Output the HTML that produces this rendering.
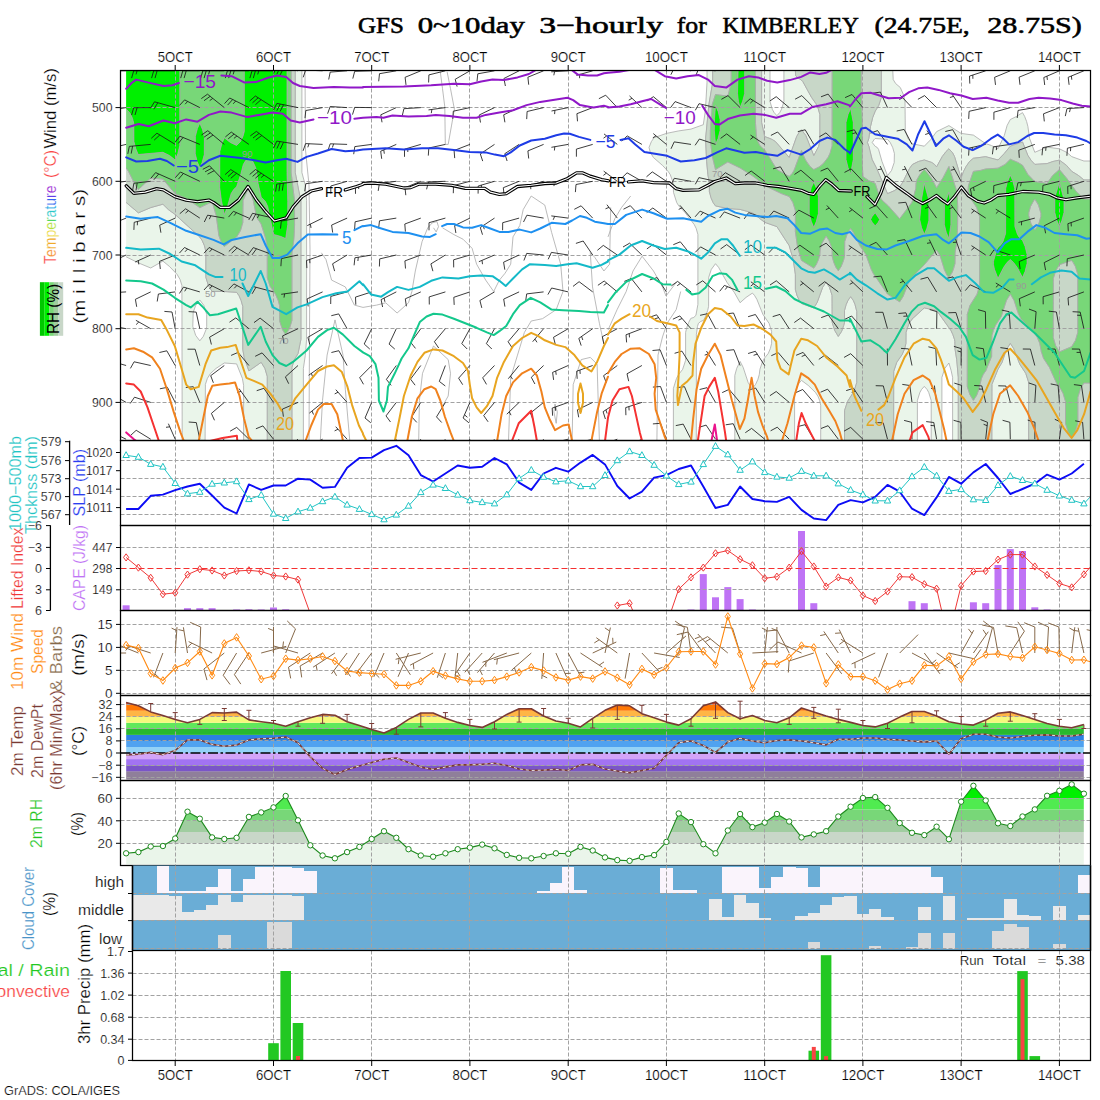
<!DOCTYPE html>
<html><head><meta charset="utf-8"><title>GFS meteogram KIMBERLEY</title>
<style>html,body{margin:0;padding:0;background:#fff}svg{display:block}text{font-family:"Liberation Sans",sans-serif}</style>
</head><body>
<svg width="1100" height="1100" viewBox="0 0 1100 1100">
<rect width="1100" height="1100" fill="#fff"/>
<text x="358" y="33.4" font-size="23" fill="#000" textLength="45.9" lengthAdjust="spacingAndGlyphs" style="font-family:&quot;Liberation Serif&quot;,serif" stroke="#000" stroke-width="0.55">GFS</text>
<text x="417.7" y="33.4" font-size="23" fill="#000" textLength="107.1" lengthAdjust="spacingAndGlyphs" style="font-family:&quot;Liberation Serif&quot;,serif" stroke="#000" stroke-width="0.55">0~10day</text>
<text x="539.3" y="33.4" font-size="23" fill="#000" textLength="123.7" lengthAdjust="spacingAndGlyphs" style="font-family:&quot;Liberation Serif&quot;,serif" stroke="#000" stroke-width="0.55">3&#8722;hourly</text>
<text x="676.8" y="33.4" font-size="23" fill="#000" textLength="30" lengthAdjust="spacingAndGlyphs" style="font-family:&quot;Liberation Serif&quot;,serif" stroke="#000" stroke-width="0.55">for</text>
<text x="722.5" y="33.4" font-size="23" fill="#000" textLength="136.4" lengthAdjust="spacingAndGlyphs" style="font-family:&quot;Liberation Serif&quot;,serif" stroke="#000" stroke-width="0.55">KIMBERLEY</text>
<text x="874.5" y="33.4" font-size="23" fill="#000" textLength="95.3" lengthAdjust="spacingAndGlyphs" style="font-family:&quot;Liberation Serif&quot;,serif" stroke="#000" stroke-width="0.55">(24.75E,</text>
<text x="987.3" y="33.4" font-size="23" fill="#000" textLength="94.5" lengthAdjust="spacingAndGlyphs" style="font-family:&quot;Liberation Serif&quot;,serif" stroke="#000" stroke-width="0.55">28.75S)</text>
<text x="175.2" y="62.3" font-size="15" fill="#000" text-anchor="middle" textLength="35" lengthAdjust="spacingAndGlyphs" stroke="#fff" stroke-width="0.2">5OCT</text>
<text x="175.2" y="1079.5" font-size="15" fill="#000" text-anchor="middle" textLength="35" lengthAdjust="spacingAndGlyphs" stroke="#fff" stroke-width="0.2">5OCT</text>
<line x1="175.2" y1="65" x2="175.2" y2="70.5" stroke="#000" stroke-width="1"/>
<line x1="175.2" y1="1060.4" x2="175.2" y2="1066" stroke="#000" stroke-width="1"/>
<text x="273.5" y="62.3" font-size="15" fill="#000" text-anchor="middle" textLength="35" lengthAdjust="spacingAndGlyphs" stroke="#fff" stroke-width="0.2">6OCT</text>
<text x="273.5" y="1079.5" font-size="15" fill="#000" text-anchor="middle" textLength="35" lengthAdjust="spacingAndGlyphs" stroke="#fff" stroke-width="0.2">6OCT</text>
<line x1="273.5" y1="65" x2="273.5" y2="70.5" stroke="#000" stroke-width="1"/>
<line x1="273.5" y1="1060.4" x2="273.5" y2="1066" stroke="#000" stroke-width="1"/>
<text x="371.7" y="62.3" font-size="15" fill="#000" text-anchor="middle" textLength="35" lengthAdjust="spacingAndGlyphs" stroke="#fff" stroke-width="0.2">7OCT</text>
<text x="371.7" y="1079.5" font-size="15" fill="#000" text-anchor="middle" textLength="35" lengthAdjust="spacingAndGlyphs" stroke="#fff" stroke-width="0.2">7OCT</text>
<line x1="371.7" y1="65" x2="371.7" y2="70.5" stroke="#000" stroke-width="1"/>
<line x1="371.7" y1="1060.4" x2="371.7" y2="1066" stroke="#000" stroke-width="1"/>
<text x="469.9" y="62.3" font-size="15" fill="#000" text-anchor="middle" textLength="35" lengthAdjust="spacingAndGlyphs" stroke="#fff" stroke-width="0.2">8OCT</text>
<text x="469.9" y="1079.5" font-size="15" fill="#000" text-anchor="middle" textLength="35" lengthAdjust="spacingAndGlyphs" stroke="#fff" stroke-width="0.2">8OCT</text>
<line x1="469.9" y1="65" x2="469.9" y2="70.5" stroke="#000" stroke-width="1"/>
<line x1="469.9" y1="1060.4" x2="469.9" y2="1066" stroke="#000" stroke-width="1"/>
<text x="568.2" y="62.3" font-size="15" fill="#000" text-anchor="middle" textLength="35" lengthAdjust="spacingAndGlyphs" stroke="#fff" stroke-width="0.2">9OCT</text>
<text x="568.2" y="1079.5" font-size="15" fill="#000" text-anchor="middle" textLength="35" lengthAdjust="spacingAndGlyphs" stroke="#fff" stroke-width="0.2">9OCT</text>
<line x1="568.2" y1="65" x2="568.2" y2="70.5" stroke="#000" stroke-width="1"/>
<line x1="568.2" y1="1060.4" x2="568.2" y2="1066" stroke="#000" stroke-width="1"/>
<text x="666.4" y="62.3" font-size="15" fill="#000" text-anchor="middle" textLength="43" lengthAdjust="spacingAndGlyphs" stroke="#fff" stroke-width="0.2">10OCT</text>
<text x="666.4" y="1079.5" font-size="15" fill="#000" text-anchor="middle" textLength="43" lengthAdjust="spacingAndGlyphs" stroke="#fff" stroke-width="0.2">10OCT</text>
<line x1="666.4" y1="65" x2="666.4" y2="70.5" stroke="#000" stroke-width="1"/>
<line x1="666.4" y1="1060.4" x2="666.4" y2="1066" stroke="#000" stroke-width="1"/>
<text x="764.7" y="62.3" font-size="15" fill="#000" text-anchor="middle" textLength="43" lengthAdjust="spacingAndGlyphs" stroke="#fff" stroke-width="0.2">11OCT</text>
<text x="764.7" y="1079.5" font-size="15" fill="#000" text-anchor="middle" textLength="43" lengthAdjust="spacingAndGlyphs" stroke="#fff" stroke-width="0.2">11OCT</text>
<line x1="764.7" y1="65" x2="764.7" y2="70.5" stroke="#000" stroke-width="1"/>
<line x1="764.7" y1="1060.4" x2="764.7" y2="1066" stroke="#000" stroke-width="1"/>
<text x="862.9" y="62.3" font-size="15" fill="#000" text-anchor="middle" textLength="43" lengthAdjust="spacingAndGlyphs" stroke="#fff" stroke-width="0.2">12OCT</text>
<text x="862.9" y="1079.5" font-size="15" fill="#000" text-anchor="middle" textLength="43" lengthAdjust="spacingAndGlyphs" stroke="#fff" stroke-width="0.2">12OCT</text>
<line x1="862.9" y1="65" x2="862.9" y2="70.5" stroke="#000" stroke-width="1"/>
<line x1="862.9" y1="1060.4" x2="862.9" y2="1066" stroke="#000" stroke-width="1"/>
<text x="961.1" y="62.3" font-size="15" fill="#000" text-anchor="middle" textLength="43" lengthAdjust="spacingAndGlyphs" stroke="#fff" stroke-width="0.2">13OCT</text>
<text x="961.1" y="1079.5" font-size="15" fill="#000" text-anchor="middle" textLength="43" lengthAdjust="spacingAndGlyphs" stroke="#fff" stroke-width="0.2">13OCT</text>
<line x1="961.1" y1="65" x2="961.1" y2="70.5" stroke="#000" stroke-width="1"/>
<line x1="961.1" y1="1060.4" x2="961.1" y2="1066" stroke="#000" stroke-width="1"/>
<text x="1059.4" y="62.3" font-size="15" fill="#000" text-anchor="middle" textLength="43" lengthAdjust="spacingAndGlyphs" stroke="#fff" stroke-width="0.2">14OCT</text>
<text x="1059.4" y="1079.5" font-size="15" fill="#000" text-anchor="middle" textLength="43" lengthAdjust="spacingAndGlyphs" stroke="#fff" stroke-width="0.2">14OCT</text>
<line x1="1059.4" y1="65" x2="1059.4" y2="70.5" stroke="#000" stroke-width="1"/>
<line x1="1059.4" y1="1060.4" x2="1059.4" y2="1066" stroke="#000" stroke-width="1"/>
<clipPath id="c0"><rect x="126.1" y="70.5" width="964.4" height="370"/></clipPath>
<clipPath id="c0f"><rect x="120.5" y="70.5" width="970" height="370"/></clipPath>
<g clip-path="url(#c0)">
<path d="M298,70.5 L301.9,70.5 L301.9,172.5 L305.1,184.5 L306.6,200.5 L306.6,339.4 L305.3,355.4 L303.4,368.4 L303.4,440.4 L291.9,440.4 L291.9,367.4 L294.4,359.4 L298,353.6 L300.9,339.4 L300.9,201.5 L295.2,172.5 L295.2,70.5Z M712.7,71.5 L712.7,82.5 L708.9,104.5 L705.6,139.5 L706.6,161.5 L707.9,174.5 L709.4,183.5 L709.4,191.5 L711.3,198.5 L713.7,203.5 L715.5,205.9 L727.8,208.5 L740.1,209.4 L752.4,212.8 L764.7,222.3 L776.9,226.6 L789.2,245.6 L793.2,259.4 L795.4,274.4 L795.4,289.4 L797,295.4 L799.3,300.4 L801.5,303.5 L813.8,307.9 L817.2,302.4 L822.6,287.4 L826.1,282 L829.5,287.4 L832.1,295.4 L832.2,322.4 L834.7,330.4 L838.3,336.4 L841.6,331.4 L843.7,325.4 L844.5,322.4 L844.5,310.4 L846.2,304.4 L848,300.4 L850.6,296.6 L853.3,300.4 L855,304.4 L856.8,311.4 L856.8,382.4 L854,391.4 L847.6,401.4 L844.6,410.4 L844.5,440.4 L820.7,440.4 L820.7,405.4 L819.6,400.4 L818,396.4 L815.4,392.4 L808.2,385.4 L801.5,380.4 L798.8,383.4 L797.1,386.4 L794.6,394.4 L794.6,440.4 L734.8,440.4 L734.8,375.4 L736.7,368.4 L740.1,361.4 L743.2,367.4 L748.1,382.4 L749.9,385.4 L752.4,388.2 L753.2,387.4 L755.6,384.4 L757.9,379.4 L759.3,374.4 L759.9,369.4 L762.2,362.4 L764.3,358.4 L768.3,353.4 L770.4,348.4 L771.6,343.4 L771.6,331.4 L769.1,323.4 L762.9,314.4 L756.9,299.4 L754.5,295.4 L752.4,293.1 L746.1,297.4 L740.1,302.7 L734.3,292.4 L727,282.4 L718.6,267.4 L715.5,263.7 L711.3,269.4 L708.7,277.4 L708.6,306.4 L707.7,310.4 L705.6,316.4 L703.5,320.4 L700.8,321.4 L698.4,323.4 L697.5,326.4 L696.4,334.4 L696.3,440.4 L673.4,440.4 L673.4,388.4 L676.5,378.4 L678.7,374.4 L682.6,369.4 L685.6,360.4 L685.6,332.4 L686.8,327.4 L688.7,322.4 L690.8,318.4 L693.8,317.4 L695.9,315.4 L697.9,304.4 L697.9,234.5 L696.2,228.5 L694.2,224.5 L685,212.5 L678.7,205.8 L676.7,202.5 L673.5,192.5 L673.1,182.5 L670.2,174.5 L668.2,171.5 L662.6,165.5 L653.4,157.5 L650.4,152.5 L649,147.5 L651.4,141.5 L654.1,137.7 L666.4,133.4 L678.7,130.9 L691,129.1 L703.3,124.7 L705.4,110.5 L707,82.5 L707,70.5 L712.7,70.5Z M764.7,70.5 L770,70.5 L770,101.5 L772.4,109.5 L774.1,112.5 L776.9,115.7 L779.8,112.5 L781.4,109.5 L783.9,101.5 L783.9,70.5 L795.4,70.5 L795.6,75.5 L797.4,77.5 L800.8,79.5 L802.8,81.5 L811.6,97.5 L815.9,103.5 L818.2,108.5 L819.9,114.5 L819.9,141.5 L818.6,146.5 L813.8,155.7 L805.8,135.5 L801.5,129.8 L799,132.5 L796.7,136.5 L789.2,157.5 L775.4,141.5 L770.1,138.5 L764.7,136.7 L761.6,122.5 L761.6,70.5Z M887.5,70.5 L892.8,70.5 L893.2,79.5 L895.6,83.5 L900.3,87.5 L903.4,94.5 L905,100.5 L905.3,130.5 L908,138.5 L912,143.7 L924.3,146.2 L930.8,139.5 L936.6,131.6 L948.9,125.6 L961.1,133.4 L973.4,135.1 L985.4,143.5 L991.4,145.5 L998,148.8 L1004.3,135.5 L1007.1,125.5 L1010.3,119.5 L1016.4,116.5 L1022.5,112.6 L1024.7,116.5 L1026.6,121.5 L1027.9,126.5 L1029.6,138.5 L1034.8,152.3 L1047.1,147.1 L1059.4,148.8 L1067,152.5 L1071.7,156.6 L1083.9,161 L1096.2,161 L1096.2,180 L1083.9,180 L1078.5,175.5 L1071.7,171.4 L1066.6,165.5 L1059.4,160.1 L1052.9,161.5 L1047.1,163.6 L1034.8,164.4 L1031.2,160.5 L1027.9,155.5 L1022.5,142 L1010.3,146.2 L1004.3,153.5 L998,160 L985.7,156.7 L973.4,158.3 L969.5,161.5 L966.1,166.5 L963.5,171.5 L961.1,178.3 L954.5,156.5 L952.4,152.5 L948.9,148.8 L946.1,151.5 L942.3,156.5 L936.6,166.9 L934.6,164.5 L931.8,162.5 L924.3,160 L918.4,161.5 L912.4,164.5 L909.5,168.5 L902.7,182.5 L899.7,186.9 L894.7,190.5 L887.5,193.7 L876.2,167.5 L872.1,159.5 L868.9,146.5 L867.4,142.5 L868.8,138.5 L870.5,126.5 L872.7,117.5 L875.2,111.2 L878.7,105.5 L881.3,97.5 L881.3,70.5Z M874.2,139.5 L872.2,142.5 L875.2,146.3 L877.3,147.5 L878.6,149.5 L882,161.5 L887.5,175.7 L891.5,170.5 L894.2,162.5 L894.4,153.5 L892.7,147.5 L890.2,142.5 L887.5,139.4 L875.2,138.5Z M126.1,202.4 L138.4,212.8 L150.7,207.6 L162.9,204.2 L168.3,209.5 L175.2,214.5 L199.8,237 L202.2,240.5 L204.4,245.5 L205.9,251.5 L205.9,277.4 L208.4,285.4 L212.1,291.5 L224.3,291.5 L236.6,292.3 L238.9,295.4 L241.1,300.4 L242.8,306.4 L242.8,349.4 L244.2,357.4 L248.9,370.9 L261.2,362.3 L264.9,368.4 L267.3,376.4 L267.3,440.4 L243.6,440.4 L243.6,385.4 L242.4,378.4 L236.6,363.9 L224.3,363 L216.1,368.4 L210.5,373.4 L207.4,378.4 L205.4,384.4 L205.1,440.4 L182.2,440.4 L181.9,285.4 L180,279.4 L177.1,274.4 L169.4,266.4 L162.9,261.1 L150.7,268 L138.4,262.9 L126.1,256.8 L113.8,256.8 L113.8,202.4Z M199.4,300.4 L195.7,305.4 L193.2,312.4 L192.8,326.4 L195.7,335.4 L199.8,340.8 L203.3,336.4 L206.1,329.4 L206.7,326.4 L206.7,314.4 L203.8,305.4 L199.8,300Z M924.3,307.9 L936.6,310.4 L950.9,330.4 L952.8,334.4 L954.5,339.4 L954.9,341.4 L955.1,349.4 L956.7,359.4 L958.3,377.4 L958.3,440.4 L952.6,440.4 L952.6,377.4 L951.1,370.4 L948.9,363 L944.8,368.4 L941.9,377.4 L941.9,440.4 L931.2,440.4 L931.2,400.4 L928.7,392.4 L927,389.4 L924.3,386.4 L921.6,389.4 L919.9,392.4 L917.4,400.4 L917.4,440.4 L893.6,440.4 L893.7,371.4 L896.7,362.4 L902.2,354.4 L904.7,348.4 L905.9,343.4 L906,332.4 L908.6,324.4 L912,319.1Z M1010.3,343.3 L1013.6,348.4 L1019.9,364.4 L1025.8,373.4 L1028.7,382.4 L1028.7,440.4 L991.8,440.4 L991.9,384.4 L998,369.2 L1002,362.4 L1006.5,349.4Z" fill="#eaf5ea" fill-rule="evenodd" stroke="#a9aaa9" stroke-width="0.8"/>
<path d="M295.2,71.5 L295.2,172.5 L300.9,201.5 L300.9,339.4 L298,353.6 L294.4,359.4 L291.9,367.4 L291.9,440.4 L267.3,440.4 L267.3,376.4 L264.9,368.4 L261.2,362.3 L248.9,370.9 L244.2,357.4 L242.8,349.4 L242.8,306.4 L241.1,300.4 L238.9,295.4 L236.6,292.3 L224.3,291.5 L212.1,291.5 L208.4,285.4 L205.9,277.4 L205.9,251.5 L204.4,245.5 L202.2,240.5 L199.8,237 L175.2,214.5 L168.3,209.5 L162.9,204.2 L150.7,207.6 L138.4,212.8 L126.1,202.4 L113.8,202.4 L113.8,167.9 L126.1,167.9 L128.6,171.5 L135.6,185.5 L138.4,189.5 L150.7,177.9 L162.9,179.1 L175.2,193.7 L187.5,199 L199.8,207.6 L212.1,201.6 L216.2,215.5 L218.9,235.5 L221.1,241.5 L224.3,246.5 L236.6,237 L240.5,230.5 L242.8,222.5 L243,200.5 L248.9,186.9 L253.3,200.5 L256.1,214.5 L258.1,219.5 L261.2,224 L265.7,238.5 L267.3,248.5 L267.3,277.4 L267.8,279.4 L270.2,286.4 L275.6,294.4 L278.2,300.4 L279.6,305.4 L279.8,321.4 L282.4,329.4 L285.7,334.6 L289.5,328.4 L291.9,320.4 L291.9,253.5 L294.2,234.5 L294.6,201.5 L291.1,172.5 L291.1,70.5 L295.2,70.5Z M715.5,70.5 L731.2,70.5 L731.2,83.5 L727.8,96.2 L715.5,94.5 L712.3,104.5 L710.4,130.5 L710.3,139.5 L712.2,155.5 L715.5,169.6 L727.8,161.9 L740.1,167.9 L752.4,175.7 L766.8,186.5 L781.3,193.5 L789.3,196.5 L792.9,202.5 L795.4,210.5 L795.4,231.5 L797.5,246.5 L801.5,260.4 L813.8,268.1 L816.3,264.4 L818.5,259.4 L819.8,254.5 L820.1,249.5 L821.8,243.5 L826.1,236.1 L829,240.5 L831.3,246.5 L832.2,250.5 L832.2,256.4 L833.8,262.4 L836,267.4 L838.3,270.7 L841.2,266.4 L843.5,260.4 L844.5,256.4 L844.7,241.5 L847.3,233.5 L850.6,228.3 L853.4,232.5 L860.4,246.5 L865.9,254.5 L871.3,269.4 L873.3,273.4 L887.5,294 L899.7,301.8 L903.1,296.4 L908.2,283.4 L910.9,278.4 L924.3,264.7 L936.6,250 L940.5,256.4 L944.3,269.4 L947.2,275.4 L948.9,277.6 L951.7,273.4 L953.7,268.4 L955,263.4 L955.1,252.5 L957.1,238.5 L957.7,224.5 L957.7,206.5 L957.1,192.5 L948.9,166.5 L943.2,177.5 L936.6,187.9 L930.9,177.5 L924.3,169.6 L920,174.5 L917.1,179.5 L916.1,183.5 L915.8,188.5 L912,202.4 L899.7,218.8 L887.9,205.5 L881.5,199.5 L878.4,193.5 L875.2,183.4 L868.6,180.5 L862.9,176.5 L862.2,162.5 L862.2,121.5 L861.2,93.5 L861.2,70.5 L881.3,70.5 L881.3,97.5 L878.7,105.5 L875.2,111.2 L872.7,117.5 L870.5,126.5 L868.8,138.5 L867.4,142.5 L868.9,146.5 L872.1,159.5 L876.2,167.5 L887.5,193.7 L894.7,190.5 L899.7,186.9 L902.7,182.5 L909.5,168.5 L912.4,164.5 L918.4,161.5 L924.3,160 L931.8,162.5 L934.6,164.5 L936.6,166.9 L942.3,156.5 L946.1,151.5 L948.9,148.8 L952.4,152.5 L954.5,156.5 L961.1,178.3 L963.5,171.5 L966.1,166.5 L969.5,161.5 L973.4,158.3 L985.7,156.7 L998,160 L1004.3,153.5 L1010.3,146.2 L1022.5,142 L1027.9,155.5 L1031.2,160.5 L1034.8,164.4 L1047.1,163.6 L1052.9,161.5 L1059.4,160.1 L1066.6,165.5 L1071.7,171.4 L1078.5,175.5 L1083.9,180 L1096.2,180 L1096.2,199.1 L1083.9,199.1 L1076.1,191.5 L1066.8,178.5 L1059.4,169.6 L1052.7,175.5 L1047.1,183.4 L1034.8,181.7 L1027.9,174.5 L1022.5,165.3 L1018,162.5 L1010.3,159.3 L1005,164.5 L998,168.2 L985.7,169 L980.1,170.5 L973.4,171.4 L968.5,185.5 L968.1,189.5 L968.3,192.5 L969.8,196.5 L976.7,207.5 L979.6,216.5 L979.6,285.4 L977,294.4 L970,305.4 L967.3,314.4 L967.3,386.4 L969.8,394.4 L973.4,400.3 L977.1,394.4 L978.8,389.4 L981.4,378.4 L983.2,374.4 L985.7,370.9 L991.6,356.4 L991.9,335.4 L993.3,330.4 L995.4,325.4 L1001.3,316.4 L1006.4,300.4 L1010.3,294 L1014.1,300.4 L1018.3,313.4 L1020.8,318.4 L1034.8,333.8 L1037.3,337.4 L1039.8,343.4 L1041.3,351.4 L1043.6,358.4 L1049.5,367.4 L1056.7,383.4 L1061,389.4 L1063.1,393.4 L1065.5,401.4 L1065.5,423.4 L1068,431.4 L1071.7,437.4 L1075.3,431.4 L1077.8,423.4 L1077.8,397.4 L1080.5,388.4 L1083.9,383 L1096.2,383 L1096.2,440.4 L1028.7,440.4 L1028.7,382.4 L1025.8,373.4 L1019.9,364.4 L1013.6,348.4 L1010.3,343.3 L1006.5,349.4 L1002,362.4 L998,369.2 L991.9,384.4 L991.8,440.4 L958.3,440.4 L958.3,377.4 L956.7,359.4 L955.1,349.4 L954.9,341.4 L954.5,339.4 L952.8,334.4 L950.9,330.4 L936.6,310.4 L924.3,307.9 L912,319.1 L908.6,324.4 L906,332.4 L905.9,343.4 L904.7,348.4 L902.2,354.4 L896.7,362.4 L893.7,371.4 L893.6,440.4 L844.5,440.4 L844.6,410.4 L847.6,401.4 L854,391.4 L856.8,382.4 L856.8,311.4 L855,304.4 L853.3,300.4 L850.6,296.6 L848,300.4 L846.2,304.4 L844.5,310.4 L844.5,322.4 L843.7,325.4 L841.6,331.4 L838.3,336.4 L834.7,330.4 L832.2,322.4 L832.1,295.4 L829.5,287.4 L826.1,282 L822.6,287.4 L817.2,302.4 L813.8,307.9 L801.5,303.5 L799.3,300.4 L797,295.4 L795.4,289.4 L795.4,274.4 L793.2,259.4 L789.2,245.6 L776.9,226.6 L764.7,222.3 L752.4,212.8 L740.1,209.4 L727.8,208.5 L715.5,205.9 L713.1,202.5 L710.9,197.5 L709.4,191.5 L709.4,183.5 L707.9,174.5 L706.6,160.5 L705.6,138.5 L708.9,104.5 L712.7,82.5 L712.7,70.5Z M761.6,71.5 L761.6,122.5 L764.6,136.5 L772.3,139.5 L775.4,141.5 L789.2,157.5 L796.7,136.5 L799,132.5 L801.5,129.8 L805.8,135.5 L813.8,155.7 L818.6,146.5 L819.9,141.5 L819.9,114.5 L818.2,108.5 L815.9,103.5 L811.6,97.5 L802.8,81.5 L800.8,79.5 L797.4,77.5 L795.6,75.5 L795.4,70.5 L832.2,70.5 L832.1,146.5 L830.4,152.5 L828,157.5 L823.4,163.5 L818.3,167.5 L813.8,169.6 L810.9,167.5 L805.2,159.5 L801.5,150.6 L794,170.5 L792.2,173.5 L789.2,176.5 L776.8,169.5 L765.1,150.5 L761.4,147.5 L759.1,144.5 L756.4,136.5 L755.5,123.5 L755.4,70.5 L761.6,70.5Z M1034.8,199.1 L1038.7,205.5 L1041,213.5 L1040.9,216.5 L1039.2,222.5 L1037.4,226.5 L1034.8,230.1 L1030.9,223.5 L1028.7,215.5 L1028.8,212.5 L1030.5,206.5 L1032.4,202.5Z M1071.7,260.4 L1075.4,266.4 L1077.8,274.4 L1077.8,332.4 L1075.5,340.4 L1071.7,346.7 L1059.4,351.9 L1055.5,345.4 L1053.2,337.4 L1053.3,278.4 L1055.8,270.4 L1059.4,264.7Z" fill="#c8d7c8" fill-rule="evenodd" stroke="#a9aaa9" stroke-width="0.8"/>
<path d="M187.5,70.5 L244.3,70.5 L244.3,130.5 L243.3,135.5 L240.5,141.5 L236.6,145.4 L230.4,142.5 L224.3,137.8 L221.9,143.5 L219.8,151.5 L219.7,187.5 L221.4,200.5 L224.3,214.5 L226.9,208.5 L231.2,193.5 L233.7,189.5 L236.6,186.8 L241,173.5 L243.3,164.5 L245.7,160.5 L248.9,157.5 L252.8,161.5 L255.6,167.5 L256.6,171.5 L258.1,183.5 L261.2,197.2 L265.4,201.5 L267.7,206.5 L273.5,234.4 L280.9,236.5 L285.7,238.6 L287.8,224.5 L287.8,201.5 L287,172.5 L287,70.5 L291.1,70.5 L291.1,172.5 L294.6,201.5 L294.6,224.5 L293.9,239.5 L291.9,253.5 L291.9,320.4 L289.5,328.4 L285.7,334.6 L282.4,329.4 L279.8,321.4 L279.6,305.4 L278.2,300.4 L275.6,294.4 L270.2,286.4 L267.8,279.4 L267.3,277.4 L267.3,248.5 L265.7,238.5 L261.2,224 L258.1,219.5 L256.1,214.5 L253.3,200.5 L248.9,186.9 L243,200.5 L242.8,222.5 L240.5,230.5 L236.6,237 L224.3,246.5 L221.1,241.5 L218.9,235.5 L216.2,215.5 L212.1,201.6 L199.8,207.6 L187.5,199 L175.2,193.7 L162.9,179.1 L150.7,177.9 L138.4,189.5 L135.6,185.5 L128.6,171.5 L126.1,167.9 L113.8,167.9 L113.8,109.1 L126.1,109.1 L128.7,111.5 L130.8,114.5 L132.5,118.5 L133.8,123.5 L133.9,141.5 L136.1,149.5 L138.4,154.8 L150.7,153.1 L162.9,152.3 L169.5,155.5 L175.2,160 L177.9,153.5 L179.8,145.5 L179.8,70.5Z M199.5,123.5 L197.1,129.5 L195.3,136.5 L195.2,153.5 L197.1,161.5 L199.8,167.8 L202.1,162.5 L204.3,154.5 L204.4,137.5 L202.1,128.5 L200,123.5 L199.8,123.1Z M738.1,71.5 L737.5,93.5 L738.4,101.5 L740.1,107.5 L742.6,101.5 L744.7,93.5 L744.7,70.5 L755.4,70.5 L755.4,122.5 L756.4,136.5 L757.4,140.5 L759.8,145.5 L765.1,150.5 L776.8,169.5 L789.2,176.5 L792.2,173.5 L794,170.5 L801.5,150.6 L803.7,156.5 L806.4,161.5 L810,166.5 L813.8,169.6 L819.9,166.5 L823.4,163.5 L828,157.5 L830,153.5 L832.2,145.5 L832.2,70.5 L861.2,70.5 L861.2,93.5 L862.2,121.5 L862.2,162.5 L862.9,176.5 L868.6,180.5 L875.2,183.4 L878.8,194.5 L880.8,198.5 L883.2,201.5 L887.9,205.5 L899.7,218.8 L912,202.4 L915.8,188.5 L916.1,183.5 L917.1,179.5 L919.3,175.5 L922.4,171.5 L924.3,169.6 L927,172.5 L932.2,179.5 L936.6,187.9 L943.2,177.5 L948.9,166.5 L957.1,192.5 L957.7,206.5 L957.4,231.5 L956.8,241.5 L955.1,252.5 L955,263.4 L952.6,271.4 L948.9,277.6 L946.6,274.4 L944.7,270.4 L940,255.4 L936.6,250 L924.3,264.7 L910.9,278.4 L908.2,283.4 L903.1,296.4 L899.7,301.8 L887.5,294 L873.3,273.4 L871.3,269.4 L865.9,254.5 L860.4,246.5 L853.4,232.5 L850.6,228.3 L847.3,233.5 L844.7,241.5 L844.5,256.4 L843.5,260.4 L841.2,266.4 L838.3,270.7 L836,267.4 L833.8,262.4 L832.2,256.4 L832.2,250.5 L831.3,246.5 L829,240.5 L826.1,236.1 L821.8,243.5 L820.1,249.5 L819.8,254.5 L818.5,259.4 L816.3,264.4 L813.8,268.1 L801.5,260.4 L797.5,246.5 L795.4,231.5 L795.4,210.5 L792.9,202.5 L789.3,196.5 L781.3,193.5 L766.8,186.5 L752.4,175.7 L740.1,167.9 L727.8,161.9 L715.5,169.6 L712.2,155.5 L710.3,139.5 L710.4,130.5 L712.3,104.5 L715.5,94.5 L727.8,96.2 L731.2,83.5 L731.2,70.5 L738.1,70.5Z M715.5,105.5 L714.5,118.5 L714.3,130.5 L715.5,144.5 L718.1,138.5 L720.1,130.5 L720.1,119.5 L717.9,110.5Z M850.5,108.5 L848,114.5 L846,122.5 L846,159.5 L848,167.5 L850.6,173.8 L853.3,159.5 L853.3,122.5Z M813.4,182.5 L811,188.5 L809.2,195.5 L809.2,213.5 L811.3,221.5 L813.8,227.5 L816.3,221.5 L818.4,213.5 L818.4,196.5 L815.9,186.5 L814.2,182.5 L813.8,182Z M924.3,183.5 L921.8,197.5 L919.7,219.5 L921.5,227.5 L924.3,234.4 L926.8,228.5 L928.9,220.5 L928.9,202.5 L928.2,197.5Z M948.7,192.5 L944.4,205.5 L944.3,224.5 L946.3,232.5 L948.9,238.6 L950.9,224.5 L950.9,206.5Z M874.5,213.5 L872.1,216.5 L870.6,219.5 L872.3,222.5 L875.2,225.9 L878.1,222.5 L879.7,219.5 L875.2,212.7Z M1010.3,159.3 L1018,162.5 L1022.5,165.3 L1027.9,174.5 L1034.8,181.7 L1047.1,183.4 L1052.7,175.5 L1059.4,169.6 L1066.8,178.5 L1076.1,191.5 L1083.9,199.1 L1096.2,199.1 L1096.2,383 L1083.9,383 L1080.5,388.4 L1077.8,397.4 L1077.8,423.4 L1075.3,431.4 L1071.7,437.4 L1068,431.4 L1065.5,423.4 L1065.5,401.4 L1063.1,393.4 L1061,389.4 L1056.7,383.4 L1049.5,367.4 L1043.6,358.4 L1041.3,351.4 L1039.8,343.4 L1037.3,337.4 L1034.8,333.8 L1020.8,318.4 L1018.3,313.4 L1014.1,300.4 L1010.3,294 L1006.4,300.4 L1001.3,316.4 L995.4,325.4 L993.3,330.4 L991.9,335.4 L991.6,356.4 L985.7,370.9 L983.2,374.4 L981.4,378.4 L978.8,389.4 L976.6,395.4 L973.4,400.3 L969.8,394.4 L967.3,386.4 L967.3,314.4 L970,305.4 L977,294.4 L979.6,285.4 L979.6,216.5 L976.7,207.5 L971.3,199.5 L969,194.5 L968.1,189.5 L968.5,185.5 L973.4,171.4 L980.1,170.5 L985.7,169 L998,168.2 L1005,164.5Z M1010,175.5 L1007.2,182.5 L1005.7,188.5 L1005.6,233.5 L1003,241.5 L1001.1,244.5 L997.9,247.5 L996.9,249.5 L993.4,261.4 L993.4,264.4 L994.5,269.4 L998,278.5 L1003.6,267.4 L1007.1,262.4 L1010.3,259.5 L1013.5,262.4 L1017.2,267.4 L1022.5,277.5 L1025.1,271.4 L1027.1,263.4 L1027.1,254.5 L1025.1,246.5 L1022.6,240.5 L1019.4,237.5 L1017.5,234.5 L1014.9,226.5 L1014.8,188.5 L1012.3,179.5 L1010.5,175.5 L1010.3,175.1Z M1059.2,182.5 L1054.8,197.5 L1054.8,212.5 L1056.8,220.5 L1059.4,226.5 L1061.9,220.5 L1064,212.5 L1064,199.5 L1063.3,195.5Z M1034.4,199.5 L1030.5,206.5 L1028.8,212.5 L1028.7,215.5 L1030.9,223.5 L1034.8,230.1 L1037.4,226.5 L1039.2,222.5 L1040.9,216.5 L1041,213.5 L1038.3,204.5 L1035.2,199.5Z M1071.5,260.4 L1059.4,264.7 L1055.8,270.4 L1053.3,278.4 L1053.2,337.4 L1055.5,345.4 L1059.4,351.9 L1071.7,346.7 L1075.5,340.4 L1077.8,332.4 L1077.8,274.4 L1075.4,266.4 L1073.2,262.4Z" fill="#78d778" fill-rule="evenodd" stroke="#a9aaa9" stroke-width="0.8"/>
<path d="M126.1,70.5 L179.8,70.5 L179.8,145.5 L177.9,153.5 L175.2,160 L169.5,155.5 L162.9,152.3 L138.2,154.5 L135.7,148.5 L133.9,141.5 L133.8,123.5 L132.5,118.5 L130.8,114.5 L128.7,111.5 L126.1,109.1 L113.8,109.1 L113.8,70.5Z M248.9,70.5 L287,70.5 L287,172.5 L287.8,201.5 L287.8,224.5 L285.7,238.6 L280.9,236.5 L273.5,234.4 L267.7,206.5 L265.4,201.5 L261.2,197.2 L258.1,183.5 L256.6,171.5 L255.6,167.5 L252.8,161.5 L248.9,157.5 L245.7,160.5 L243.3,164.5 L241,173.5 L236.6,186.8 L233.7,189.5 L231.2,193.5 L226.9,208.5 L224.3,214.5 L221.4,200.5 L219.7,187.5 L219.8,151.5 L221.9,143.5 L224.3,137.8 L230.4,142.5 L236.6,145.4 L240.5,141.5 L242.9,136.5 L244.3,131.5 L244.3,70.5Z M740.1,70.5 L744.7,70.5 L744.7,93.5 L742.6,101.5 L740.1,107.5 L738.4,101.5 L737.5,93.5 L738.1,70.5Z M715.5,105.2 L718.2,111.5 L720.1,119.5 L720.1,130.5 L718.1,138.5 L715.5,144.5 L714.3,130.5 L714.5,118.5Z M850.6,108.4 L853.3,122.5 L853.3,159.5 L850.6,173.8 L848,167.5 L846,159.5 L846,122.5 L848,114.5Z M199.8,123.1 L202.5,129.5 L204.4,137.5 L204.3,154.5 L202.1,162.5 L199.8,167.8 L197.1,161.5 L195.2,153.5 L195.3,136.5 L197.4,128.5Z M1010.3,175.1 L1012.7,180.5 L1014.8,188.5 L1014.9,226.5 L1017.5,234.5 L1019.4,237.5 L1022.6,240.5 L1025.1,246.5 L1027.1,254.5 L1027.1,263.4 L1025.1,271.4 L1022.5,277.5 L1017.2,267.4 L1013.5,262.4 L1010.3,259.5 L1007.1,262.4 L1003.6,267.4 L998,278.5 L994.5,269.4 L993.4,264.4 L993.4,261.4 L996.9,249.5 L997.9,247.5 L1001.1,244.5 L1003,241.5 L1005.6,233.5 L1005.7,188.5 L1007.2,182.5Z M813.8,182 L816.5,188.5 L818.4,196.5 L818.4,213.5 L816.3,221.5 L813.8,227.5 L811.3,221.5 L809.2,213.5 L809.2,195.5 L811.3,187.5Z M1059.4,182 L1064,199.5 L1064,212.5 L1061.9,220.5 L1059.4,226.5 L1056.8,220.5 L1054.8,212.5 L1054.8,197.5Z M924.3,183.4 L928.2,197.5 L928.9,202.5 L928.9,220.5 L926.8,228.5 L924.3,234.4 L921.5,227.5 L919.7,219.5 L921.8,197.5Z M948.9,192.2 L950.9,206.5 L950.9,224.5 L948.9,238.6 L946.3,232.5 L944.3,224.5 L944.4,205.5Z M875.2,212.7 L879.7,219.5 L878.1,222.5 L875.2,225.9 L872.3,222.5 L870.6,219.5 L872.1,216.5Z" fill="#00f000" fill-rule="evenodd" stroke="#a9aaa9" stroke-width="0.8"/>
</g>
<path d="M440.3,71.7 L442.5,88.7 L444.8,106.9 L445.3,144.4 L448.2,144.4 L451.6,125.1 L454.4,109.2 L450.5,88.7 L447.1,71.7 M363,307.4 L376.6,305.1 L385.7,302.8 L397.1,313 L408.5,302.8 L411.9,291.5 L415.3,271 L422.1,241.5 L427.8,227.8 L432.3,222.8 L436.9,221.5 L438.5,226.7 L436.2,231.9 L433.5,227.8 M442.5,227.8 L453.9,234.6 L463,239.2 L472.1,248.3 L476.6,264.2 L485.7,280.1 L493.7,291.5 L496,286.9 L499.4,280.1 L505,273.3 L510.7,264.2 L513,236.9 L519.8,225.5 L523.2,209.6 L531.2,196 M531.2,196 L544.8,205.1 L551.6,232.4 L560.7,264.2 L563,291.5 L556.2,309.6 L542.5,318.7 L531.2,321 L524.4,332.4 L517.5,355.1 L510.7,377.8 L508.5,441 M418.7,441 L419.4,400.5 L422.5,373.3 L433.5,346 L448.2,359.6 L450.5,373.3 L448.2,396 L442.5,406.2 M572.1,441 L573.2,384.6 L581.2,359.6 L590.3,357.4 L597.1,364.2 L599.4,441 M590.3,252.8 L592.5,286.9 L599.4,323.3 L603.9,343.7 M590.3,252.8 L594.8,257.4 L603.9,271 L609.6,264.2 L610.7,207.4 M555,404 L557.3,411.9 L556.2,423.3 L553.9,411.9 L555,404 M321.4,252.8 L326,259.6 L331.6,280.1 L345.3,286.9 L354.4,305.1 L363,307.4 M320.3,441 L322.5,400.5 L327.1,355.1 L335,319.9 L343,355.1 L345.3,389.2 L349.8,441 M608,330.1 L617.1,309.6 L626.2,291.5 L633,271 L642.1,256.2 L653.5,271 L662.5,286.9 L666,296 L669.4,291.5 L676.2,282.4 M608,236.9 L614.8,218.7 L621.6,207.4 L630.7,196 M656.9,441 L658,355.1 L662.5,336.9 L667.1,323.3 L676.2,309.6 L680.7,291.5 M305,70 L305.5,150 L309,185 L310,250 L309.5,330 L309,441" fill="none" stroke="#a9aaa9" stroke-width="0.8" clip-path="url(#c0f)"/>
<line x1="120.5" y1="107.5" x2="1090.5" y2="107.5" stroke="#a2a2a2" stroke-width="1" stroke-dasharray="4 2"/>
<line x1="120.5" y1="181.5" x2="1090.5" y2="181.5" stroke="#a2a2a2" stroke-width="1" stroke-dasharray="4 2"/>
<line x1="120.5" y1="255.5" x2="1090.5" y2="255.5" stroke="#a2a2a2" stroke-width="1" stroke-dasharray="4 2"/>
<line x1="120.5" y1="328.5" x2="1090.5" y2="328.5" stroke="#a2a2a2" stroke-width="1" stroke-dasharray="4 2"/>
<line x1="120.5" y1="402.5" x2="1090.5" y2="402.5" stroke="#a2a2a2" stroke-width="1" stroke-dasharray="4 2"/>
<line x1="175.5" y1="70.5" x2="175.5" y2="440.5" stroke="#a2a2a2" stroke-width="1" stroke-dasharray="4 2"/>
<line x1="273.5" y1="70.5" x2="273.5" y2="440.5" stroke="#a2a2a2" stroke-width="1" stroke-dasharray="4 2"/>
<line x1="371.5" y1="70.5" x2="371.5" y2="440.5" stroke="#a2a2a2" stroke-width="1" stroke-dasharray="4 2"/>
<line x1="469.5" y1="70.5" x2="469.5" y2="440.5" stroke="#a2a2a2" stroke-width="1" stroke-dasharray="4 2"/>
<line x1="568.5" y1="70.5" x2="568.5" y2="440.5" stroke="#a2a2a2" stroke-width="1" stroke-dasharray="4 2"/>
<line x1="666.5" y1="70.5" x2="666.5" y2="440.5" stroke="#a2a2a2" stroke-width="1" stroke-dasharray="4 2"/>
<line x1="764.5" y1="70.5" x2="764.5" y2="440.5" stroke="#a2a2a2" stroke-width="1" stroke-dasharray="4 2"/>
<line x1="862.5" y1="70.5" x2="862.5" y2="440.5" stroke="#a2a2a2" stroke-width="1" stroke-dasharray="4 2"/>
<line x1="961.5" y1="70.5" x2="961.5" y2="440.5" stroke="#a2a2a2" stroke-width="1" stroke-dasharray="4 2"/>
<line x1="1059.5" y1="70.5" x2="1059.5" y2="440.5" stroke="#a2a2a2" stroke-width="1" stroke-dasharray="4 2"/>
<g clip-path="url(#c0f)">
<path d="M126.1,70.8 L109.1,70.8 M109.1,70.8 L107,78.1 M112.5,70.8 L111.5,74.4" stroke="#1a1a1a" stroke-width="0.85" fill="none"/>
<path d="M126.1,107.6 L109.3,110.4 M109.3,110.4 L108.5,118 M112.7,109.9 L111.8,117.4" stroke="#1a1a1a" stroke-width="0.85" fill="none"/>
<path d="M126.1,144.4 L105.2,149.4 M105.2,149.4 L104.8,157 M108.5,148.6 L108.1,156.2" stroke="#1a1a1a" stroke-width="0.85" fill="none"/>
<path d="M126.1,181.3 L109.2,183.5 M109.2,183.5 L108.1,191 M112.6,183.1 L112.1,186.8" stroke="#1a1a1a" stroke-width="0.85" fill="none"/>
<path d="M126.1,218.1 L110.3,224.5 M113.5,223.2 L113.9,227" stroke="#1a1a1a" stroke-width="0.85" fill="none"/>
<path d="M126.1,255 L110.8,262.4 M110.8,262.4 L112,269.9" stroke="#1a1a1a" stroke-width="0.85" fill="none"/>
<path d="M126.1,291.9 L109.1,292.9 M109.1,292.9 L107.5,300.3" stroke="#1a1a1a" stroke-width="0.85" fill="none"/>
<path d="M126.1,328.7 L109.4,325.5 M109.4,325.5 L106,332.3" stroke="#1a1a1a" stroke-width="0.85" fill="none"/>
<path d="M126.1,365.5 L109.8,360.9 M109.8,360.9 L105.7,367.3" stroke="#1a1a1a" stroke-width="0.85" fill="none"/>
<path d="M126.1,402.4 L111.4,393.9 M114.3,395.6 L111.6,398.2" stroke="#1a1a1a" stroke-width="0.85" fill="none"/>
<path d="M126.1,439.2 L110.8,431.9 M110.8,431.9 L105.7,437.6" stroke="#1a1a1a" stroke-width="0.85" fill="none"/>
<path d="M150.7,70.8 L133.7,70.8 M133.7,70.8 L131.6,78.1 M137.1,70.8 L136,74.4" stroke="#1a1a1a" stroke-width="0.85" fill="none"/>
<path d="M150.7,107.6 L133.7,107.7 M133.7,107.7 L131.6,115.1 M137.1,107.7 L135,115" stroke="#1a1a1a" stroke-width="0.85" fill="none"/>
<path d="M150.7,144.4 L129.3,146.4 M129.3,146.4 L127.8,153.9 M132.6,146.1 L131.2,153.6" stroke="#1a1a1a" stroke-width="0.85" fill="none"/>
<path d="M150.7,181.3 L133.8,183.3 M133.8,183.3 L132.6,190.8 M137.2,182.9 L136,190.4" stroke="#1a1a1a" stroke-width="0.85" fill="none"/>
<path d="M150.7,218.1 L134.2,222.3 M134.2,222.3 L133.9,229.9 M137.5,221.5 L137.3,225.3" stroke="#1a1a1a" stroke-width="0.85" fill="none"/>
<path d="M150.7,255 L135.2,262 M138.3,260.6 L138.8,264.4" stroke="#1a1a1a" stroke-width="0.85" fill="none"/>
<path d="M150.7,291.9 L135.4,299.3 M135.4,299.3 L136.7,306.8" stroke="#1a1a1a" stroke-width="0.85" fill="none"/>
<path d="M150.7,328.7 L135.9,320.3 M138.8,322 L136.1,324.6" stroke="#1a1a1a" stroke-width="0.85" fill="none"/>
<path d="M150.7,365.5 L134.1,361.8 M134.1,361.8 L130.4,368.4" stroke="#1a1a1a" stroke-width="0.85" fill="none"/>
<path d="M150.7,402.4 L134.5,397.2 M134.5,397.2 L130.2,403.5" stroke="#1a1a1a" stroke-width="0.85" fill="none"/>
<path d="M150.7,439.2 L136.2,430.3 M136.2,430.3 L130.6,435.4" stroke="#1a1a1a" stroke-width="0.85" fill="none"/>
<path d="M175.2,70.8 L153.7,70.8 M153.7,70.8 L151.6,78.1 M157.1,70.8 L155,78.1" stroke="#1a1a1a" stroke-width="0.85" fill="none"/>
<path d="M175.2,107.6 L154.5,101.8 M154.5,101.8 L150.5,108.3 M157.8,102.8 L153.8,109.2" stroke="#1a1a1a" stroke-width="0.85" fill="none"/>
<path d="M175.2,144.4 L156.9,133.2 M156.9,133.2 L151.3,138.3 M159.8,135 L154.2,140.1" stroke="#1a1a1a" stroke-width="0.85" fill="none"/>
<path d="M175.2,181.3 L155.6,172.6 M155.6,172.6 L150.7,178.5 M158.7,174 L153.8,179.8" stroke="#1a1a1a" stroke-width="0.85" fill="none"/>
<path d="M175.2,218.1 L159.7,225.2 M159.7,225.2 L160.9,232.7" stroke="#1a1a1a" stroke-width="0.85" fill="none"/>
<path d="M175.2,255 L159.5,261.4 M159.5,261.4 L160.3,269" stroke="#1a1a1a" stroke-width="0.85" fill="none"/>
<path d="M175.2,291.9 L158.4,294 M158.4,294 L157.2,301.5" stroke="#1a1a1a" stroke-width="0.85" fill="none"/>
<path d="M175.2,328.7 L172,312 M172,312 L164.4,311.4" stroke="#1a1a1a" stroke-width="0.85" fill="none"/>
<path d="M175.2,365.5 L166.8,350.8 M166.8,350.8 L159.4,352.5" stroke="#1a1a1a" stroke-width="0.85" fill="none"/>
<path d="M175.2,402.4 L167.4,387.3 M167.4,387.3 L159.9,388.8" stroke="#1a1a1a" stroke-width="0.85" fill="none"/>
<path d="M175.2,439.2 L168.4,423.7 M169.8,426.8 L166,427.3" stroke="#1a1a1a" stroke-width="0.85" fill="none"/>
<path d="M199.8,70.8 L182.8,70.8 M182.8,70.8 L180.7,78.1 M186.2,70.8 L184.1,78.1" stroke="#1a1a1a" stroke-width="0.85" fill="none"/>
<path d="M199.8,107.6 L184.6,99.9 M184.6,99.9 L179.5,105.4 M187.7,101.4 L185.1,104.2" stroke="#1a1a1a" stroke-width="0.85" fill="none"/>
<path d="M199.8,144.4 L179.9,136.2 M179.9,136.2 L175.2,142.1 M183.1,137.5 L178.3,143.4" stroke="#1a1a1a" stroke-width="0.85" fill="none"/>
<path d="M199.8,181.3 L180.4,172 M180.4,172 L175.3,177.7 M183.4,173.5 L178.4,179.2" stroke="#1a1a1a" stroke-width="0.85" fill="none"/>
<path d="M199.8,218.1 L185.6,208.8 M185.6,208.8 L179.8,213.7 M188.4,210.7 L185.5,213.1" stroke="#1a1a1a" stroke-width="0.85" fill="none"/>
<path d="M199.8,255 L184.5,247.5 M184.5,247.5 L179.4,253.1 M187.6,249 L185,251.8" stroke="#1a1a1a" stroke-width="0.85" fill="none"/>
<path d="M199.8,291.9 L183.5,287.1 M183.5,287.1 L179.4,293.5 M186.7,288 L184.7,291.3" stroke="#1a1a1a" stroke-width="0.85" fill="none"/>
<path d="M199.8,328.7 L196.2,312.1 M196.2,312.1 L188.6,311.6" stroke="#1a1a1a" stroke-width="0.85" fill="none"/>
<path d="M199.8,365.5 L195.1,349.2 M195.1,349.2 L187.5,349.2" stroke="#1a1a1a" stroke-width="0.85" fill="none"/>
<path d="M199.8,402.4 L193.3,386.7 M193.3,386.7 L185.8,387.5" stroke="#1a1a1a" stroke-width="0.85" fill="none"/>
<path d="M199.8,439.2 L196.3,422.6 M196.3,422.6 L188.7,422" stroke="#1a1a1a" stroke-width="0.85" fill="none"/>
<path d="M224.3,70.8 L202.8,70.8 M202.8,70.8 L200.7,78.1 M206.2,70.8 L204.1,78.1 M209.6,70.8 L208.6,74.4" stroke="#1a1a1a" stroke-width="0.85" fill="none"/>
<path d="M224.3,107.6 L207.5,94.2 M207.5,94.2 L201.3,98.6 M210.2,96.3 L204,100.7 M212.8,98.4 L209.7,100.6" stroke="#1a1a1a" stroke-width="0.85" fill="none"/>
<path d="M224.3,144.4 L207.8,130.7 M207.8,130.7 L201.5,135 M210.4,132.9 L204.1,137.1 M213,135 L206.8,139.3" stroke="#1a1a1a" stroke-width="0.85" fill="none"/>
<path d="M224.3,181.3 L209.5,165.8 M209.5,165.8 L202.8,169.3 M211.8,168.2 L205.1,171.8 M214.2,170.7 L207.5,174.2" stroke="#1a1a1a" stroke-width="0.85" fill="none"/>
<path d="M224.3,218.1 L207.6,215.2 M207.6,215.2 L204.3,222 M210.9,215.8 L209.3,219.2" stroke="#1a1a1a" stroke-width="0.85" fill="none"/>
<path d="M224.3,255 L209.1,247.5 M209.1,247.5 L204,253.2 M212.1,249 L209.6,251.8" stroke="#1a1a1a" stroke-width="0.85" fill="none"/>
<path d="M224.3,291.9 L209.1,284.4 M209.1,284.4 L204,290 M212.1,285.9 L209.6,288.7" stroke="#1a1a1a" stroke-width="0.85" fill="none"/>
<path d="M224.3,328.7 L209.6,337.2 M209.6,337.2 L211.4,344.5" stroke="#1a1a1a" stroke-width="0.85" fill="none"/>
<path d="M224.3,365.5 L210.7,375.7 M210.7,375.7 L213.4,382.8" stroke="#1a1a1a" stroke-width="0.85" fill="none"/>
<path d="M224.3,402.4 L211.4,413.4 M211.4,413.4 L214.5,420.3" stroke="#1a1a1a" stroke-width="0.85" fill="none"/>
<path d="M224.3,439.2 L210,448.4 M210,448.4 L212.2,455.7 M212.9,446.6 L214,450.2" stroke="#1a1a1a" stroke-width="0.85" fill="none"/>
<path d="M248.9,70.8 L227.4,70.8 M227.4,70.8 L225.3,78.1 M230.8,70.8 L228.7,78.1 M234.2,70.8 L233.2,74.4" stroke="#1a1a1a" stroke-width="0.85" fill="none"/>
<path d="M248.9,107.6 L229.7,98 M229.7,98 L224.5,103.6 M232.7,99.5 L227.6,105.1 M235.7,101 L233.2,103.8" stroke="#1a1a1a" stroke-width="0.85" fill="none"/>
<path d="M248.9,144.4 L231.3,132.1 M231.3,132.1 L225.4,136.9 M234.1,134.1 L228.2,138.8 M236.9,136 L233.9,138.4" stroke="#1a1a1a" stroke-width="0.85" fill="none"/>
<path d="M248.9,181.3 L230.8,169.6 M230.8,169.6 L225.1,174.6 M233.7,171.5 L228,176.5 M236.6,173.3 L230.8,178.3" stroke="#1a1a1a" stroke-width="0.85" fill="none"/>
<path d="M248.9,218.1 L233.4,211.3 M233.4,211.3 L228.5,217.1 M236.5,212.6 L234,215.6" stroke="#1a1a1a" stroke-width="0.85" fill="none"/>
<path d="M248.9,255 L234.3,246.3 M234.3,246.3 L228.8,251.5 M237.2,248 L231.7,253.2" stroke="#1a1a1a" stroke-width="0.85" fill="none"/>
<path d="M248.9,291.9 L233.9,283.9 M233.9,283.9 L228.6,289.4 M236.9,285.5 L234.2,288.3" stroke="#1a1a1a" stroke-width="0.85" fill="none"/>
<path d="M248.9,328.7 L235.8,317.9 M235.8,317.9 L229.5,322.2" stroke="#1a1a1a" stroke-width="0.85" fill="none"/>
<path d="M248.9,365.5 L238.1,352.4 M238.1,352.4 L231.1,355.4" stroke="#1a1a1a" stroke-width="0.85" fill="none"/>
<path d="M248.9,402.4 L239,388.6 M241,391.3 L237.4,392.6" stroke="#1a1a1a" stroke-width="0.85" fill="none"/>
<path d="M248.9,439.2 L236.7,427.4 M236.7,427.4 L230.1,431.2" stroke="#1a1a1a" stroke-width="0.85" fill="none"/>
<path d="M273.5,70.8 L252,70.8 M252,70.8 L249.9,78.1 M255.4,70.8 L253.3,78.1 M258.8,70.8 L257.7,74.4" stroke="#1a1a1a" stroke-width="0.85" fill="none"/>
<path d="M273.5,107.6 L255.4,96 M255.4,96 L249.7,101 M258.2,97.8 L252.5,102.8 M261.1,99.7 L255.4,104.7" stroke="#1a1a1a" stroke-width="0.85" fill="none"/>
<path d="M273.5,144.4 L256.4,131.4 M256.4,131.4 L250.3,135.9 M259.1,133.4 L253,138 M261.8,135.5 L255.7,140" stroke="#1a1a1a" stroke-width="0.85" fill="none"/>
<path d="M273.5,181.3 L255.5,169.5 M255.5,169.5 L249.7,174.5 M258.3,171.4 L252.6,176.4 M261.2,173.3 L255.4,178.2 M264,175.1 L261.1,177.6" stroke="#1a1a1a" stroke-width="0.85" fill="none"/>
<path d="M273.5,218.1 L252.5,213.3 M252.5,213.3 L248.8,219.9 M255.8,214 L252.1,220.7 M259.1,214.8 L257.3,218.1" stroke="#1a1a1a" stroke-width="0.85" fill="none"/>
<path d="M273.5,255 L253.3,247.6 M253.3,247.6 L248.8,253.7 M256.5,248.8 L252,254.9" stroke="#1a1a1a" stroke-width="0.85" fill="none"/>
<path d="M273.5,291.9 L252.7,286.4 M252.7,286.4 L248.8,292.9 M256,287.2 L252.1,293.8" stroke="#1a1a1a" stroke-width="0.85" fill="none"/>
<path d="M273.5,328.7 L260.1,318.1 M260.1,318.1 L254,322.6" stroke="#1a1a1a" stroke-width="0.85" fill="none"/>
<path d="M273.5,365.5 L262.1,352.9 M262.1,352.9 L255.2,356.3" stroke="#1a1a1a" stroke-width="0.85" fill="none"/>
<path d="M273.5,402.4 L263.9,388.3 M263.9,388.3 L256.7,390.7" stroke="#1a1a1a" stroke-width="0.85" fill="none"/>
<path d="M273.5,439.2 L262.9,425.9 M262.9,425.9 L255.9,428.8" stroke="#1a1a1a" stroke-width="0.85" fill="none"/>
<path d="M298,70.8 L276.9,66.8 M276.9,66.8 L273.5,73.6 M280.2,67.4 L276.8,74.2 M283.6,68 L280.2,74.8" stroke="#1a1a1a" stroke-width="0.85" fill="none"/>
<path d="M298,107.6 L276.9,103.4 M276.9,103.4 L273.4,110.1 M280.3,104 L276.8,110.8 M283.6,104.7 L280.1,111.4" stroke="#1a1a1a" stroke-width="0.85" fill="none"/>
<path d="M298,144.4 L276.8,141.1 M276.8,141.1 L273.6,148 M280.1,141.6 L276.9,148.5 M283.5,142.2 L280.3,149.1" stroke="#1a1a1a" stroke-width="0.85" fill="none"/>
<path d="M298,181.3 L276.7,184.1 M276.7,184.1 L275.6,191.6 M280.1,183.7 L278.9,191.2 M283.4,183.2 L282.3,190.7" stroke="#1a1a1a" stroke-width="0.85" fill="none"/>
<path d="M298,218.1 L281.3,221.1 M281.3,221.1 L280.5,228.6" stroke="#1a1a1a" stroke-width="0.85" fill="none"/>
<path d="M298,255 L281.4,258.6 M281.4,258.6 L280.9,266.2" stroke="#1a1a1a" stroke-width="0.85" fill="none"/>
<path d="M298,291.9 L281.2,294.3 M284.6,293.8 L284,297.6" stroke="#1a1a1a" stroke-width="0.85" fill="none"/>
<path d="M298,328.7 L282.6,335.9 M282.6,335.9 L283.9,343.4" stroke="#1a1a1a" stroke-width="0.85" fill="none"/>
<path d="M298,365.5 L285.4,376.9 M285.4,376.9 L288.7,383.7" stroke="#1a1a1a" stroke-width="0.85" fill="none"/>
<path d="M298,402.4 L282.4,409.1 M282.4,409.1 L283.4,416.7" stroke="#1a1a1a" stroke-width="0.85" fill="none"/>
<path d="M298,439.2 L285.1,450.3 M285.1,450.3 L288.2,457.2" stroke="#1a1a1a" stroke-width="0.85" fill="none"/>
<path d="M322.6,70.8 L305.6,70.1 M305.6,70.1 L303.2,77.3" stroke="#1a1a1a" stroke-width="0.85" fill="none"/>
<path d="M322.6,107.6 L305.8,110.5 M305.8,110.5 L305,118.1" stroke="#1a1a1a" stroke-width="0.85" fill="none"/>
<path d="M322.6,144.4 L305.6,143.6 M305.6,143.6 L303.1,150.8 M309,143.7 L307.8,147.3" stroke="#1a1a1a" stroke-width="0.85" fill="none"/>
<path d="M322.6,181.3 L305.8,183.7 M305.8,183.7 L304.7,191.3" stroke="#1a1a1a" stroke-width="0.85" fill="none"/>
<path d="M322.6,218.1 L307.3,225.6 M310.4,224.1 L311,227.9" stroke="#1a1a1a" stroke-width="0.85" fill="none"/>
<path d="M322.6,255 L306.5,260.5 M306.5,260.5 L306.9,268.1 M309.7,259.4 L309.9,263.2" stroke="#1a1a1a" stroke-width="0.85" fill="none"/>
<path d="M322.6,291.9 L307.1,298.9 M307.1,298.9 L308.2,306.4" stroke="#1a1a1a" stroke-width="0.85" fill="none"/>
<path d="M322.6,328.7 L307.9,337.3 M307.9,337.3 L309.8,344.6" stroke="#1a1a1a" stroke-width="0.85" fill="none"/>
<path d="M322.6,365.5 L308.6,375.3 M311.4,373.3 L312.6,376.9" stroke="#1a1a1a" stroke-width="0.85" fill="none"/>
<path d="M322.6,402.4 L309.4,413.1 M312,411 L313.5,414.5" stroke="#1a1a1a" stroke-width="0.85" fill="none"/>
<path d="M322.6,439.2 L307.7,447.4 M307.7,447.4 L309.3,454.8" stroke="#1a1a1a" stroke-width="0.85" fill="none"/>
<path d="M347.1,70.8 L330.2,72.1 M330.2,72.1 L328.7,79.5" stroke="#1a1a1a" stroke-width="0.85" fill="none"/>
<path d="M347.1,107.6 L330.2,106.5 M330.2,106.5 L327.6,113.7" stroke="#1a1a1a" stroke-width="0.85" fill="none"/>
<path d="M347.1,144.4 L330.2,143.8 M330.2,143.8 L327.8,151 M333.6,143.9 L332.4,147.5" stroke="#1a1a1a" stroke-width="0.85" fill="none"/>
<path d="M347.1,181.3 L330.8,186 M330.8,186 L330.8,193.6" stroke="#1a1a1a" stroke-width="0.85" fill="none"/>
<path d="M347.1,218.1 L331.6,225.1 M331.6,225.1 L332.7,232.6" stroke="#1a1a1a" stroke-width="0.85" fill="none"/>
<path d="M347.1,255 L332.6,263.8 M332.6,263.8 L334.6,271.1" stroke="#1a1a1a" stroke-width="0.85" fill="none"/>
<path d="M347.1,291.9 L330.8,296.4 M330.8,296.4 L330.7,304" stroke="#1a1a1a" stroke-width="0.85" fill="none"/>
<path d="M347.1,328.7 L338.7,313.9 M338.7,313.9 L331.3,315.7" stroke="#1a1a1a" stroke-width="0.85" fill="none"/>
<path d="M347.1,365.5 L338.8,350.7 M338.8,350.7 L331.4,352.5" stroke="#1a1a1a" stroke-width="0.85" fill="none"/>
<path d="M347.1,402.4 L335.8,389.7 M338.1,392.2 L334.7,393.9" stroke="#1a1a1a" stroke-width="0.85" fill="none"/>
<path d="M347.1,439.2 L335.7,426.7 M338,429.2 L334.6,430.9" stroke="#1a1a1a" stroke-width="0.85" fill="none"/>
<path d="M371.7,70.8 L354.7,71.3 M354.7,71.3 L352.8,78.6" stroke="#1a1a1a" stroke-width="0.85" fill="none"/>
<path d="M371.7,107.6 L354.7,107.4 M354.7,107.4 L352.5,114.6" stroke="#1a1a1a" stroke-width="0.85" fill="none"/>
<path d="M371.7,144.4 L354.8,146.6 M354.8,146.6 L353.7,154.2" stroke="#1a1a1a" stroke-width="0.85" fill="none"/>
<path d="M371.7,181.3 L355.4,186.2 M355.4,186.2 L355.5,193.8 M358.7,185.2 L358.7,189" stroke="#1a1a1a" stroke-width="0.85" fill="none"/>
<path d="M371.7,218.1 L355.1,221.8 M355.1,221.8 L354.6,229.4" stroke="#1a1a1a" stroke-width="0.85" fill="none"/>
<path d="M371.7,255 L354.9,257.8 M354.9,257.8 L354.1,265.3 M358.3,257.2 L357.9,261" stroke="#1a1a1a" stroke-width="0.85" fill="none"/>
<path d="M371.7,291.9 L355.5,297.1 M355.5,297.1 L355.8,304.7" stroke="#1a1a1a" stroke-width="0.85" fill="none"/>
<path d="M371.7,328.7 L364.2,344 M364.2,344 L369.8,349.1" stroke="#1a1a1a" stroke-width="0.85" fill="none"/>
<path d="M371.7,365.5 L359.7,377.6 M359.7,377.6 L363.5,384.3" stroke="#1a1a1a" stroke-width="0.85" fill="none"/>
<path d="M371.7,402.4 L365,418 M365,418 L370.8,422.8" stroke="#1a1a1a" stroke-width="0.85" fill="none"/>
<path d="M371.7,439.2 L361.1,452.5 M361.1,452.5 L365.5,458.7" stroke="#1a1a1a" stroke-width="0.85" fill="none"/>
<path d="M396.3,70.8 L379.5,73.7 M379.5,73.7 L378.7,81.3" stroke="#1a1a1a" stroke-width="0.85" fill="none"/>
<path d="M396.3,107.6 L380.8,114.8 M380.8,114.8 L382,122.3" stroke="#1a1a1a" stroke-width="0.85" fill="none"/>
<path d="M396.3,144.4 L380.7,151.2 M380.7,151.2 L381.7,158.8 M383.8,149.9 L384.3,153.7" stroke="#1a1a1a" stroke-width="0.85" fill="none"/>
<path d="M396.3,181.3 L379.4,183.4 M379.4,183.4 L378.2,190.9" stroke="#1a1a1a" stroke-width="0.85" fill="none"/>
<path d="M396.3,218.1 L379.5,220.8 M379.5,220.8 L378.6,228.4" stroke="#1a1a1a" stroke-width="0.85" fill="none"/>
<path d="M396.3,255 L379.7,258.9 M379.7,258.9 L379.4,266.5" stroke="#1a1a1a" stroke-width="0.85" fill="none"/>
<path d="M396.3,291.9 L381.1,299.6 M381.1,299.6 L382.6,307 M384.1,298 L384.9,301.8" stroke="#1a1a1a" stroke-width="0.85" fill="none"/>
<path d="M396.3,328.7 L389.1,344.1 M389.1,344.1 L394.8,349.1" stroke="#1a1a1a" stroke-width="0.85" fill="none"/>
<path d="M396.3,365.5 L386.4,379.4 M386.4,379.4 L391.2,385.4" stroke="#1a1a1a" stroke-width="0.85" fill="none"/>
<path d="M396.3,402.4 L386,415.9 M386,415.9 L390.5,422" stroke="#1a1a1a" stroke-width="0.85" fill="none"/>
<path d="M396.3,439.2 L388.2,454.2 M389.8,451.2 L392.5,453.9" stroke="#1a1a1a" stroke-width="0.85" fill="none"/>
<path d="M420.8,70.8 L405.1,77.3 M405.1,77.3 L406,84.9" stroke="#1a1a1a" stroke-width="0.85" fill="none"/>
<path d="M420.8,107.6 L403.9,108.7 M403.9,108.7 L402.2,116.1" stroke="#1a1a1a" stroke-width="0.85" fill="none"/>
<path d="M420.8,144.4 L404.5,149.2 M404.5,149.2 L404.5,156.8 M407.8,148.2 L407.8,152" stroke="#1a1a1a" stroke-width="0.85" fill="none"/>
<path d="M420.8,181.3 L405,187.6 M405,187.6 L405.8,195.2" stroke="#1a1a1a" stroke-width="0.85" fill="none"/>
<path d="M420.8,218.1 L404.8,224 M404.8,224 L405.4,231.6" stroke="#1a1a1a" stroke-width="0.85" fill="none"/>
<path d="M420.8,255 L404.9,260.9 M404.9,260.9 L405.5,268.5" stroke="#1a1a1a" stroke-width="0.85" fill="none"/>
<path d="M420.8,291.9 L405.3,298.8 M405.3,298.8 L406.4,306.3" stroke="#1a1a1a" stroke-width="0.85" fill="none"/>
<path d="M420.8,328.7 L410.8,342.5 M410.8,342.5 L415.5,348.4" stroke="#1a1a1a" stroke-width="0.85" fill="none"/>
<path d="M420.8,365.5 L410.5,379.1 M410.5,379.1 L415.1,385.2" stroke="#1a1a1a" stroke-width="0.85" fill="none"/>
<path d="M420.8,402.4 L411.7,416.8 M411.7,416.8 L416.8,422.4" stroke="#1a1a1a" stroke-width="0.85" fill="none"/>
<path d="M420.8,439.2 L411,453.1 M411,453.1 L415.7,459" stroke="#1a1a1a" stroke-width="0.85" fill="none"/>
<path d="M445.4,70.8 L428.9,74.9 M428.9,74.9 L428.6,82.5" stroke="#1a1a1a" stroke-width="0.85" fill="none"/>
<path d="M445.4,107.6 L428.5,109.9 M431.9,109.4 L431.3,113.2" stroke="#1a1a1a" stroke-width="0.85" fill="none"/>
<path d="M445.4,144.4 L428.8,148 M428.8,148 L428.3,155.6" stroke="#1a1a1a" stroke-width="0.85" fill="none"/>
<path d="M445.4,181.3 L428.4,181.9 M428.4,181.9 L426.6,189.3" stroke="#1a1a1a" stroke-width="0.85" fill="none"/>
<path d="M445.4,218.1 L429,222.7 M429,222.7 L429,230.3" stroke="#1a1a1a" stroke-width="0.85" fill="none"/>
<path d="M445.4,255 L430.9,263.9 M430.9,263.9 L432.9,271.2" stroke="#1a1a1a" stroke-width="0.85" fill="none"/>
<path d="M445.4,291.9 L429.2,296.9 M429.2,296.9 L429.3,304.5" stroke="#1a1a1a" stroke-width="0.85" fill="none"/>
<path d="M445.4,328.7 L434.4,341.7 M434.4,341.7 L438.7,348" stroke="#1a1a1a" stroke-width="0.85" fill="none"/>
<path d="M445.4,365.5 L439.3,381.4 M439.3,381.4 L445.3,386" stroke="#1a1a1a" stroke-width="0.85" fill="none"/>
<path d="M445.4,402.4 L436.5,416.9 M436.5,416.9 L441.7,422.5" stroke="#1a1a1a" stroke-width="0.85" fill="none"/>
<path d="M445.4,439.2 L433.5,451.4 M433.5,451.4 L437.3,458" stroke="#1a1a1a" stroke-width="0.85" fill="none"/>
<path d="M469.9,70.8 L455.2,79.3 M455.2,79.3 L457.1,86.6" stroke="#1a1a1a" stroke-width="0.85" fill="none"/>
<path d="M469.9,107.6 L453.3,111.2 M453.3,111.2 L452.8,118.8" stroke="#1a1a1a" stroke-width="0.85" fill="none"/>
<path d="M469.9,144.4 L454.1,150.5 M454.1,150.5 L454.7,158.1" stroke="#1a1a1a" stroke-width="0.85" fill="none"/>
<path d="M469.9,181.3 L453.5,185.6 M453.5,185.6 L453.3,193.2" stroke="#1a1a1a" stroke-width="0.85" fill="none"/>
<path d="M469.9,218.1 L454.6,225.6 M454.6,225.6 L455.9,233" stroke="#1a1a1a" stroke-width="0.85" fill="none"/>
<path d="M469.9,255 L453.6,259.8 M453.6,259.8 L453.7,267.4" stroke="#1a1a1a" stroke-width="0.85" fill="none"/>
<path d="M469.9,291.9 L453.8,297.3 M453.8,297.3 L454.2,304.9" stroke="#1a1a1a" stroke-width="0.85" fill="none"/>
<path d="M469.9,328.7 L461.8,343.6 M461.8,343.6 L467.2,349" stroke="#1a1a1a" stroke-width="0.85" fill="none"/>
<path d="M469.9,365.5 L458.6,378.2 M458.6,378.2 L462.7,384.7" stroke="#1a1a1a" stroke-width="0.85" fill="none"/>
<path d="M469.9,402.4 L463.1,418 M463.1,418 L468.9,422.8 M464.5,414.8 L467.4,417.3" stroke="#1a1a1a" stroke-width="0.85" fill="none"/>
<path d="M469.9,439.2 L463,454.8 M463,454.8 L468.8,459.7" stroke="#1a1a1a" stroke-width="0.85" fill="none"/>
<path d="M494.5,70.8 L477.8,73.8 M477.8,73.8 L477,81.4" stroke="#1a1a1a" stroke-width="0.85" fill="none"/>
<path d="M494.5,107.6 L479.2,115 M479.2,115 L480.5,122.5" stroke="#1a1a1a" stroke-width="0.85" fill="none"/>
<path d="M494.5,144.4 L480.3,153.9 M480.3,153.9 L482.7,161.1" stroke="#1a1a1a" stroke-width="0.85" fill="none"/>
<path d="M494.5,181.3 L478.2,186 M478.2,186 L478.1,193.6 M481.4,185 L481.4,188.8" stroke="#1a1a1a" stroke-width="0.85" fill="none"/>
<path d="M494.5,218.1 L480.3,227.5 M480.3,227.5 L482.5,234.7 M483.1,225.6 L484.3,229.2" stroke="#1a1a1a" stroke-width="0.85" fill="none"/>
<path d="M494.5,255 L478.9,261.7 M482,260.4 L482.5,264.2" stroke="#1a1a1a" stroke-width="0.85" fill="none"/>
<path d="M494.5,291.9 L479.9,300.5 M479.9,300.5 L481.8,307.9" stroke="#1a1a1a" stroke-width="0.85" fill="none"/>
<path d="M494.5,328.7 L486.4,343.6 M486.4,343.6 L491.8,349" stroke="#1a1a1a" stroke-width="0.85" fill="none"/>
<path d="M494.5,365.5 L482.7,377.8 M482.7,377.8 L486.5,384.4" stroke="#1a1a1a" stroke-width="0.85" fill="none"/>
<path d="M494.5,402.4 L483.7,415.6 M483.7,415.6 L488.1,421.8" stroke="#1a1a1a" stroke-width="0.85" fill="none"/>
<path d="M494.5,439.2 L482.7,451.5 M485.1,449.1 L487,452.4" stroke="#1a1a1a" stroke-width="0.85" fill="none"/>
<path d="M519.1,70.8 L503.9,78.5 M503.9,78.5 L505.4,86" stroke="#1a1a1a" stroke-width="0.85" fill="none"/>
<path d="M519.1,107.6 L503.7,114.8 M503.7,114.8 L504.9,122.3" stroke="#1a1a1a" stroke-width="0.85" fill="none"/>
<path d="M519.1,144.4 L504.8,153.7 M504.8,153.7 L507.1,161" stroke="#1a1a1a" stroke-width="0.85" fill="none"/>
<path d="M519.1,181.3 L503.3,187.7 M503.3,187.7 L504.1,195.2" stroke="#1a1a1a" stroke-width="0.85" fill="none"/>
<path d="M519.1,218.1 L502.7,222.7 M502.7,222.7 L502.6,230.3" stroke="#1a1a1a" stroke-width="0.85" fill="none"/>
<path d="M519.1,255 L503.6,262.2 M503.6,262.2 L504.8,269.7" stroke="#1a1a1a" stroke-width="0.85" fill="none"/>
<path d="M519.1,291.9 L503.7,299.1 M503.7,299.1 L504.9,306.6" stroke="#1a1a1a" stroke-width="0.85" fill="none"/>
<path d="M519.1,328.7 L508.1,341.7 M508.1,341.7 L512.3,348" stroke="#1a1a1a" stroke-width="0.85" fill="none"/>
<path d="M519.1,365.5 L508.3,378.7 M510.4,376.1 L512.6,379.2" stroke="#1a1a1a" stroke-width="0.85" fill="none"/>
<path d="M519.1,402.4 L506.8,414.2 M509.3,411.8 L511,415.2" stroke="#1a1a1a" stroke-width="0.85" fill="none"/>
<path d="M519.1,439.2 L507.3,451.5 M507.3,451.5 L511.1,458.1" stroke="#1a1a1a" stroke-width="0.85" fill="none"/>
<path d="M543.6,70.8 L527.9,77.2 M527.9,77.2 L528.7,84.7" stroke="#1a1a1a" stroke-width="0.85" fill="none"/>
<path d="M543.6,107.6 L527.1,111.5 M527.1,111.5 L526.7,119.1" stroke="#1a1a1a" stroke-width="0.85" fill="none"/>
<path d="M543.6,144.4 L527.9,150.9 M527.9,150.9 L528.7,158.5" stroke="#1a1a1a" stroke-width="0.85" fill="none"/>
<path d="M543.6,181.3 L527.4,186.5 M530.7,185.4 L530.8,189.2" stroke="#1a1a1a" stroke-width="0.85" fill="none"/>
<path d="M543.6,218.1 L526.9,215.2 M526.9,215.2 L523.5,222" stroke="#1a1a1a" stroke-width="0.85" fill="none"/>
<path d="M543.6,255 L526.7,253.4 M526.7,253.4 L523.9,260.5" stroke="#1a1a1a" stroke-width="0.85" fill="none"/>
<path d="M543.6,291.9 L526.7,293.9 M526.7,293.9 L525.6,301.4" stroke="#1a1a1a" stroke-width="0.85" fill="none"/>
<path d="M543.6,328.7 L532.7,341.7 M534.9,339.1 L537,342.3" stroke="#1a1a1a" stroke-width="0.85" fill="none"/>
<path d="M543.6,365.5 L531.3,377.3 M531.3,377.3 L534.9,384" stroke="#1a1a1a" stroke-width="0.85" fill="none"/>
<path d="M543.6,402.4 L530.4,413.1 M530.4,413.1 L533.3,420.1" stroke="#1a1a1a" stroke-width="0.85" fill="none"/>
<path d="M543.6,439.2 L533.8,453.1 M533.8,453.1 L538.5,459.1" stroke="#1a1a1a" stroke-width="0.85" fill="none"/>
<path d="M568.2,70.8 L551.2,71.8 M554.6,71.6 L553.8,75.3" stroke="#1a1a1a" stroke-width="0.85" fill="none"/>
<path d="M568.2,107.6 L551.5,111 M554.9,110.3 L554.6,114.1" stroke="#1a1a1a" stroke-width="0.85" fill="none"/>
<path d="M568.2,144.4 L551.4,147.3 M554.8,146.7 L554.4,150.5" stroke="#1a1a1a" stroke-width="0.85" fill="none"/>
<path d="M568.2,181.3 L551.2,182.7 M554.6,182.4 L553.9,186.1" stroke="#1a1a1a" stroke-width="0.85" fill="none"/>
<path d="M568.2,218.1 L551.3,215.9 M554.7,216.3 L553.2,219.8" stroke="#1a1a1a" stroke-width="0.85" fill="none"/>
<path d="M568.2,255 L551.4,252.4 M551.4,252.4 L548.2,259.3" stroke="#1a1a1a" stroke-width="0.85" fill="none"/>
<path d="M568.2,291.9 L551.6,288 M551.6,288 L547.9,294.6" stroke="#1a1a1a" stroke-width="0.85" fill="none"/>
<path d="M568.2,328.7 L553.5,337.3 M553.5,337.3 L555.4,344.7" stroke="#1a1a1a" stroke-width="0.85" fill="none"/>
<path d="M568.2,365.5 L552.6,372.4 M552.6,372.4 L553.6,379.9 M555.7,371 L556.2,374.8" stroke="#1a1a1a" stroke-width="0.85" fill="none"/>
<path d="M568.2,402.4 L552.2,408.1 M552.2,408.1 L552.6,415.7 M555.4,407 L555.6,410.8" stroke="#1a1a1a" stroke-width="0.85" fill="none"/>
<path d="M568.2,439.2 L551.7,443.3 M551.7,443.3 L551.4,450.9 M555,442.5 L554.8,446.3" stroke="#1a1a1a" stroke-width="0.85" fill="none"/>
<path d="M592.7,70.8 L576.4,75.4 M579.6,74.4 L579.6,78.2" stroke="#1a1a1a" stroke-width="0.85" fill="none"/>
<path d="M592.7,107.6 L576.9,113.7 M576.9,113.7 L577.5,121.3" stroke="#1a1a1a" stroke-width="0.85" fill="none"/>
<path d="M592.7,144.4 L576.4,149.1 M576.4,149.1 L576.4,156.7" stroke="#1a1a1a" stroke-width="0.85" fill="none"/>
<path d="M592.7,181.3 L576,184.5 M576,184.5 L575.4,192.1" stroke="#1a1a1a" stroke-width="0.85" fill="none"/>
<path d="M592.7,218.1 L581.1,205.8 M581.1,205.8 L574.3,209.3" stroke="#1a1a1a" stroke-width="0.85" fill="none"/>
<path d="M592.7,255 L583.2,241 M583.2,241 L575.9,243.4" stroke="#1a1a1a" stroke-width="0.85" fill="none"/>
<path d="M592.7,291.9 L579.1,281.7 M579.1,281.7 L573,286.4" stroke="#1a1a1a" stroke-width="0.85" fill="none"/>
<path d="M592.7,328.7 L578.8,338.4 M578.8,338.4 L581.2,345.6 M581.6,336.5 L582.8,340" stroke="#1a1a1a" stroke-width="0.85" fill="none"/>
<path d="M592.7,365.5 L576.7,371.2 M576.7,371.2 L577.2,378.8 M579.9,370.1 L580.2,373.9" stroke="#1a1a1a" stroke-width="0.85" fill="none"/>
<path d="M592.7,402.4 L577.4,409.8 M577.4,409.8 L578.7,417.3 M580.5,408.3 L581.1,412.1" stroke="#1a1a1a" stroke-width="0.85" fill="none"/>
<path d="M592.7,439.2 L576.2,443.2 M576.2,443.2 L575.8,450.7 M579.5,442.4 L579.3,446.2" stroke="#1a1a1a" stroke-width="0.85" fill="none"/>
<path d="M617.3,70.8 L604.7,59.3 M607.2,61.6 L604,63.6" stroke="#1a1a1a" stroke-width="0.85" fill="none"/>
<path d="M617.3,107.6 L605.7,95.2 M605.7,95.2 L598.9,98.7" stroke="#1a1a1a" stroke-width="0.85" fill="none"/>
<path d="M617.3,144.4 L604,133.9 M606.6,136 L603.5,138.2" stroke="#1a1a1a" stroke-width="0.85" fill="none"/>
<path d="M617.3,181.3 L603.7,171.1 M606.4,173.1 L603.4,175.4" stroke="#1a1a1a" stroke-width="0.85" fill="none"/>
<path d="M617.3,218.1 L606.9,204.7 M609,207.4 L605.5,208.8" stroke="#1a1a1a" stroke-width="0.85" fill="none"/>
<path d="M617.3,255 L603.3,245.4 M603.3,245.4 L597.4,250.3" stroke="#1a1a1a" stroke-width="0.85" fill="none"/>
<path d="M617.3,291.9 L604.2,281 M604.2,281 L597.9,285.3 M606.8,283.2 L603.7,285.3" stroke="#1a1a1a" stroke-width="0.85" fill="none"/>
<path d="M617.3,328.7 L602.3,336.7 M602.3,336.7 L603.9,344.1" stroke="#1a1a1a" stroke-width="0.85" fill="none"/>
<path d="M617.3,365.5 L603.6,375.7 M603.6,375.7 L606.3,382.8" stroke="#1a1a1a" stroke-width="0.85" fill="none"/>
<path d="M617.3,402.4 L603.1,411.7 M603.1,411.7 L605.4,419 M605.9,409.9 L607.1,413.5" stroke="#1a1a1a" stroke-width="0.85" fill="none"/>
<path d="M617.3,439.2 L601.4,445.3 M601.4,445.3 L602,452.9 M604.6,444.1 L604.9,447.9" stroke="#1a1a1a" stroke-width="0.85" fill="none"/>
<path d="M641.9,70.8 L628.6,60.1 M628.6,60.1 L622.4,64.5" stroke="#1a1a1a" stroke-width="0.85" fill="none"/>
<path d="M641.9,107.6 L629.5,95.9 M632,98.3 L628.7,100.2" stroke="#1a1a1a" stroke-width="0.85" fill="none"/>
<path d="M641.9,144.4 L627.2,135.9 M627.2,135.9 L621.7,141.1" stroke="#1a1a1a" stroke-width="0.85" fill="none"/>
<path d="M641.9,181.3 L627.1,172.8 M627.1,172.8 L621.7,178.1" stroke="#1a1a1a" stroke-width="0.85" fill="none"/>
<path d="M641.9,218.1 L630.3,205.7 M630.3,205.7 L623.5,209.2" stroke="#1a1a1a" stroke-width="0.85" fill="none"/>
<path d="M641.9,255 L629.6,243.2 M629.6,243.2 L623,247" stroke="#1a1a1a" stroke-width="0.85" fill="none"/>
<path d="M641.9,291.9 L631.3,278.5 M631.3,278.5 L624.3,281.4" stroke="#1a1a1a" stroke-width="0.85" fill="none"/>
<path d="M641.9,328.7 L626,334.8 M626,334.8 L626.6,342.4 M629.2,333.6 L629.5,337.4" stroke="#1a1a1a" stroke-width="0.85" fill="none"/>
<path d="M641.9,365.5 L627,373.8 M627,373.8 L628.7,381.2" stroke="#1a1a1a" stroke-width="0.85" fill="none"/>
<path d="M641.9,402.4 L625.7,407.6 M625.7,407.6 L625.9,415.2 M628.9,406.6 L629.1,410.4" stroke="#1a1a1a" stroke-width="0.85" fill="none"/>
<path d="M641.9,439.2 L626.6,446.8 M626.6,446.8 L628,454.3" stroke="#1a1a1a" stroke-width="0.85" fill="none"/>
<path d="M666.4,70.8 L654.3,58.8 M654.3,58.8 L647.7,62.5" stroke="#1a1a1a" stroke-width="0.85" fill="none"/>
<path d="M666.4,107.6 L653.4,96.7 M653.4,96.7 L647.1,100.9" stroke="#1a1a1a" stroke-width="0.85" fill="none"/>
<path d="M666.4,144.4 L653.3,133.6 M656,135.8 L652.8,137.9" stroke="#1a1a1a" stroke-width="0.85" fill="none"/>
<path d="M666.4,181.3 L652.3,171.9 M652.3,171.9 L646.5,176.8" stroke="#1a1a1a" stroke-width="0.85" fill="none"/>
<path d="M666.4,218.1 L652.8,208 M652.8,208 L646.7,212.6" stroke="#1a1a1a" stroke-width="0.85" fill="none"/>
<path d="M666.4,255 L653.1,244.4 M653.1,244.4 L646.9,248.9" stroke="#1a1a1a" stroke-width="0.85" fill="none"/>
<path d="M666.4,291.9 L657.1,277.6 M657.1,277.6 L649.8,279.9" stroke="#1a1a1a" stroke-width="0.85" fill="none"/>
<path d="M666.4,328.7 L656.6,314.8 M656.6,314.8 L649.5,317.3 M658.6,317.6 L655,318.8" stroke="#1a1a1a" stroke-width="0.85" fill="none"/>
<path d="M666.4,365.5 L660.1,349.8 M660.1,349.8 L652.5,350.5" stroke="#1a1a1a" stroke-width="0.85" fill="none"/>
<path d="M666.4,402.4 L660.5,386.5 M660.5,386.5 L652.9,387.1" stroke="#1a1a1a" stroke-width="0.85" fill="none"/>
<path d="M666.4,439.2 L660.5,423.3 M660.5,423.3 L652.9,423.9" stroke="#1a1a1a" stroke-width="0.85" fill="none"/>
<path d="M691,70.8 L674.2,67.9 M674.2,67.9 L670.9,74.7" stroke="#1a1a1a" stroke-width="0.85" fill="none"/>
<path d="M691,107.6 L675.1,101.6 M675.1,101.6 L670.5,107.7" stroke="#1a1a1a" stroke-width="0.85" fill="none"/>
<path d="M691,144.4 L674.2,141.9 M674.2,141.9 L671,148.8" stroke="#1a1a1a" stroke-width="0.85" fill="none"/>
<path d="M691,181.3 L674.3,178.3 M674.3,178.3 L670.9,185.1" stroke="#1a1a1a" stroke-width="0.85" fill="none"/>
<path d="M691,218.1 L679.9,205.3 M682.1,207.8 L678.7,209.4" stroke="#1a1a1a" stroke-width="0.85" fill="none"/>
<path d="M691,255 L680.3,241.8 M680.3,241.8 L673.3,244.7" stroke="#1a1a1a" stroke-width="0.85" fill="none"/>
<path d="M691,291.9 L677.6,281.4 M677.6,281.4 L671.4,285.8 M680.3,283.5 L677.2,285.7" stroke="#1a1a1a" stroke-width="0.85" fill="none"/>
<path d="M691,328.7 L679.8,315.9 M679.8,315.9 L672.9,319.2 M682,318.5 L678.6,320.1" stroke="#1a1a1a" stroke-width="0.85" fill="none"/>
<path d="M691,365.5 L681.9,351.1 M681.9,351.1 L674.6,353.3" stroke="#1a1a1a" stroke-width="0.85" fill="none"/>
<path d="M691,402.4 L684.5,386.7 M684.5,386.7 L676.9,387.6" stroke="#1a1a1a" stroke-width="0.85" fill="none"/>
<path d="M691,439.2 L683.2,424.1 M683.2,424.1 L675.8,425.6" stroke="#1a1a1a" stroke-width="0.85" fill="none"/>
<path d="M715.5,70.8 L698.6,68.8 M698.6,68.8 L695.7,75.9" stroke="#1a1a1a" stroke-width="0.85" fill="none"/>
<path d="M715.5,107.6 L699,103.7 M699,103.7 L695.3,110.3" stroke="#1a1a1a" stroke-width="0.85" fill="none"/>
<path d="M715.5,144.4 L699.4,139 M699.4,139 L695.1,145.3" stroke="#1a1a1a" stroke-width="0.85" fill="none"/>
<path d="M715.5,181.3 L698.9,177.6 M698.9,177.6 L695.3,184.3" stroke="#1a1a1a" stroke-width="0.85" fill="none"/>
<path d="M715.5,218.1 L700.1,211.1 M700.1,211.1 L695.1,216.8 M703.2,212.5 L700.7,215.4" stroke="#1a1a1a" stroke-width="0.85" fill="none"/>
<path d="M715.5,255 L700.6,246.9 M700.6,246.9 L695.3,252.3" stroke="#1a1a1a" stroke-width="0.85" fill="none"/>
<path d="M715.5,291.9 L702.7,280.8 M702.7,280.8 L696.3,284.9" stroke="#1a1a1a" stroke-width="0.85" fill="none"/>
<path d="M715.5,328.7 L707.5,313.7 M707.5,313.7 L700.1,315.3" stroke="#1a1a1a" stroke-width="0.85" fill="none"/>
<path d="M715.5,365.5 L706.5,351.1 M708.3,354 L704.7,355.1" stroke="#1a1a1a" stroke-width="0.85" fill="none"/>
<path d="M715.5,402.4 L707,387.7 M707,387.7 L699.6,389.5" stroke="#1a1a1a" stroke-width="0.85" fill="none"/>
<path d="M715.5,439.2 L706.1,425.1 M706.1,425.1 L698.9,427.4" stroke="#1a1a1a" stroke-width="0.85" fill="none"/>
<path d="M740.1,70.8 L725.4,62.2 M725.4,62.2 L719.9,67.4" stroke="#1a1a1a" stroke-width="0.85" fill="none"/>
<path d="M740.1,107.6 L728,95.6 M728,95.6 L721.4,99.3" stroke="#1a1a1a" stroke-width="0.85" fill="none"/>
<path d="M740.1,144.4 L726.7,133.9 M726.7,133.9 L720.6,138.4" stroke="#1a1a1a" stroke-width="0.85" fill="none"/>
<path d="M740.1,181.3 L725.4,172.7 M725.4,172.7 L719.9,177.9" stroke="#1a1a1a" stroke-width="0.85" fill="none"/>
<path d="M740.1,218.1 L724.3,211.9 M724.3,211.9 L719.7,217.9" stroke="#1a1a1a" stroke-width="0.85" fill="none"/>
<path d="M740.1,255 L726.7,244.6 M726.7,244.6 L720.5,249" stroke="#1a1a1a" stroke-width="0.85" fill="none"/>
<path d="M740.1,291.9 L724.4,285.4 M724.4,285.4 L719.7,291.3 M727.5,286.7 L725.2,289.6" stroke="#1a1a1a" stroke-width="0.85" fill="none"/>
<path d="M740.1,328.7 L733.5,313 M733.5,313 L726,313.9" stroke="#1a1a1a" stroke-width="0.85" fill="none"/>
<path d="M740.1,365.5 L733.9,349.7 M733.9,349.7 L726.3,350.5" stroke="#1a1a1a" stroke-width="0.85" fill="none"/>
<path d="M740.1,402.4 L729.1,389.4 M729.1,389.4 L722.2,392.6" stroke="#1a1a1a" stroke-width="0.85" fill="none"/>
<path d="M740.1,439.2 L733.2,423.7 M733.2,423.7 L725.7,424.8" stroke="#1a1a1a" stroke-width="0.85" fill="none"/>
<path d="M764.7,70.8 L752.1,59.3 M752.1,59.3 L745.6,63.2 M754.6,61.6 L751.4,63.6" stroke="#1a1a1a" stroke-width="0.85" fill="none"/>
<path d="M764.7,107.6 L750.2,98.7 M750.2,98.7 L744.6,103.9 M753.1,100.5 L750.3,103.1" stroke="#1a1a1a" stroke-width="0.85" fill="none"/>
<path d="M764.7,144.4 L750.5,135.1 M753.3,137 L750.4,139.4" stroke="#1a1a1a" stroke-width="0.85" fill="none"/>
<path d="M764.7,181.3 L751.2,171 M751.2,171 L745.1,175.5" stroke="#1a1a1a" stroke-width="0.85" fill="none"/>
<path d="M764.7,218.1 L748.6,212.7 M748.6,212.7 L744.2,218.9" stroke="#1a1a1a" stroke-width="0.85" fill="none"/>
<path d="M764.7,255 L750.9,245 M750.9,245 L744.9,249.7" stroke="#1a1a1a" stroke-width="0.85" fill="none"/>
<path d="M764.7,291.9 L750.9,281.8 M753.7,283.8 L750.7,286.1" stroke="#1a1a1a" stroke-width="0.85" fill="none"/>
<path d="M764.7,328.7 L755.4,314.5 M755.4,314.5 L748.1,316.7" stroke="#1a1a1a" stroke-width="0.85" fill="none"/>
<path d="M764.7,365.5 L755.4,351.3 M755.4,351.3 L748.1,353.5 M757.3,354.1 L753.6,355.3" stroke="#1a1a1a" stroke-width="0.85" fill="none"/>
<path d="M764.7,402.4 L755.6,388 M755.6,388 L748.3,390.1" stroke="#1a1a1a" stroke-width="0.85" fill="none"/>
<path d="M764.7,439.2 L751.6,428.4 M751.6,428.4 L745.3,432.7" stroke="#1a1a1a" stroke-width="0.85" fill="none"/>
<path d="M789.2,70.8 L777.8,58.2 M780.1,60.7 L776.7,62.4" stroke="#1a1a1a" stroke-width="0.85" fill="none"/>
<path d="M789.2,107.6 L776.2,96.7 M776.2,96.7 L769.9,101" stroke="#1a1a1a" stroke-width="0.85" fill="none"/>
<path d="M789.2,144.4 L777.6,132 M777.6,132 L770.9,135.4" stroke="#1a1a1a" stroke-width="0.85" fill="none"/>
<path d="M789.2,181.3 L780.4,166.8 M780.4,166.8 L773.1,168.8" stroke="#1a1a1a" stroke-width="0.85" fill="none"/>
<path d="M789.2,218.1 L773.8,211 M773.8,211 L768.8,216.8" stroke="#1a1a1a" stroke-width="0.85" fill="none"/>
<path d="M789.2,255 L774.1,247.1 M774.1,247.1 L768.9,252.7" stroke="#1a1a1a" stroke-width="0.85" fill="none"/>
<path d="M789.2,291.9 L776.3,280.8 M776.3,280.8 L770,285" stroke="#1a1a1a" stroke-width="0.85" fill="none"/>
<path d="M789.2,328.7 L780,314.4 M780,314.4 L772.7,316.6" stroke="#1a1a1a" stroke-width="0.85" fill="none"/>
<path d="M789.2,365.5 L778.2,352.6 M778.2,352.6 L771.3,355.7" stroke="#1a1a1a" stroke-width="0.85" fill="none"/>
<path d="M789.2,402.4 L776.2,391.5 M776.2,391.5 L769.9,395.7" stroke="#1a1a1a" stroke-width="0.85" fill="none"/>
<path d="M789.2,439.2 L777.3,427.2 M777.3,427.2 L770.6,430.8" stroke="#1a1a1a" stroke-width="0.85" fill="none"/>
<path d="M813.8,70.8 L802.7,57.8 M802.7,57.8 L795.8,61 M804.9,60.4 L801.5,62" stroke="#1a1a1a" stroke-width="0.85" fill="none"/>
<path d="M813.8,107.6 L801.8,95.6 M801.8,95.6 L795.1,99.2" stroke="#1a1a1a" stroke-width="0.85" fill="none"/>
<path d="M813.8,144.4 L805.2,129.8 M805.2,129.8 L797.8,131.6" stroke="#1a1a1a" stroke-width="0.85" fill="none"/>
<path d="M813.8,181.3 L800.9,170.2 M800.9,170.2 L794.5,174.4" stroke="#1a1a1a" stroke-width="0.85" fill="none"/>
<path d="M813.8,218.1 L798.8,210.1 M798.8,210.1 L793.5,215.5" stroke="#1a1a1a" stroke-width="0.85" fill="none"/>
<path d="M813.8,255 L799.9,245.2 M799.9,245.2 L794,250" stroke="#1a1a1a" stroke-width="0.85" fill="none"/>
<path d="M813.8,291.9 L800.6,281.1 M803.3,283.2 L800.1,285.4" stroke="#1a1a1a" stroke-width="0.85" fill="none"/>
<path d="M813.8,328.7 L800.5,318.1 M800.5,318.1 L794.3,322.5" stroke="#1a1a1a" stroke-width="0.85" fill="none"/>
<path d="M813.8,365.5 L803.1,352.4 M803.1,352.4 L796.1,355.3 M805.2,355 L801.7,356.5" stroke="#1a1a1a" stroke-width="0.85" fill="none"/>
<path d="M813.8,402.4 L802.7,389.5 M802.7,389.5 L795.8,392.6" stroke="#1a1a1a" stroke-width="0.85" fill="none"/>
<path d="M813.8,439.2 L805,424.7 M805,424.7 L797.7,426.6" stroke="#1a1a1a" stroke-width="0.85" fill="none"/>
<path d="M838.3,70.8 L826.4,58.6 M826.4,58.6 L819.7,62.3" stroke="#1a1a1a" stroke-width="0.85" fill="none"/>
<path d="M838.3,107.6 L828.1,94.1 M828.1,94.1 L821,96.8" stroke="#1a1a1a" stroke-width="0.85" fill="none"/>
<path d="M838.3,144.4 L825.9,132.9 M825.9,132.9 L819.4,136.8" stroke="#1a1a1a" stroke-width="0.85" fill="none"/>
<path d="M838.3,181.3 L827.6,168.1 M827.6,168.1 L820.6,171.1" stroke="#1a1a1a" stroke-width="0.85" fill="none"/>
<path d="M838.3,218.1 L826.9,205.5 M829.2,208.1 L825.8,209.7" stroke="#1a1a1a" stroke-width="0.85" fill="none"/>
<path d="M838.3,255 L826.1,243.2 M826.1,243.2 L819.5,246.9" stroke="#1a1a1a" stroke-width="0.85" fill="none"/>
<path d="M838.3,291.9 L824.7,281.7 M824.7,281.7 L818.7,286.3" stroke="#1a1a1a" stroke-width="0.85" fill="none"/>
<path d="M838.3,328.7 L828.3,315 M828.3,315 L821.2,317.6" stroke="#1a1a1a" stroke-width="0.85" fill="none"/>
<path d="M838.3,365.5 L825,355 M825,355 L818.8,359.4" stroke="#1a1a1a" stroke-width="0.85" fill="none"/>
<path d="M838.3,402.4 L827.6,389.2 M827.6,389.2 L820.6,392.2" stroke="#1a1a1a" stroke-width="0.85" fill="none"/>
<path d="M838.3,439.2 L828.1,425.7 M828.1,425.7 L821,428.5" stroke="#1a1a1a" stroke-width="0.85" fill="none"/>
<path d="M862.9,70.8 L850.3,59.4 M850.3,59.4 L843.8,63.4" stroke="#1a1a1a" stroke-width="0.85" fill="none"/>
<path d="M862.9,107.6 L852,94.5 M852,94.5 L845.1,97.6" stroke="#1a1a1a" stroke-width="0.85" fill="none"/>
<path d="M862.9,144.4 L854.3,129.8 M854.3,129.8 L846.9,131.7 M856,132.7 L852.3,133.7" stroke="#1a1a1a" stroke-width="0.85" fill="none"/>
<path d="M862.9,181.3 L851.2,168.9 M851.2,168.9 L844.5,172.4" stroke="#1a1a1a" stroke-width="0.85" fill="none"/>
<path d="M862.9,218.1 L849.6,207.6 M852.2,209.7 L849.1,211.9" stroke="#1a1a1a" stroke-width="0.85" fill="none"/>
<path d="M862.9,255 L848.8,245.5 M851.6,247.4 L848.7,249.9" stroke="#1a1a1a" stroke-width="0.85" fill="none"/>
<path d="M862.9,291.9 L850.5,280.2 M853,282.5 L849.7,284.4" stroke="#1a1a1a" stroke-width="0.85" fill="none"/>
<path d="M862.9,328.7 L851.6,316 M851.6,316 L844.8,319.3" stroke="#1a1a1a" stroke-width="0.85" fill="none"/>
<path d="M862.9,365.5 L850.7,353.7 M850.7,353.7 L844.1,357.4" stroke="#1a1a1a" stroke-width="0.85" fill="none"/>
<path d="M862.9,402.4 L853.5,388.3 M853.5,388.3 L846.2,390.6 M855.3,391.1 L851.7,392.3" stroke="#1a1a1a" stroke-width="0.85" fill="none"/>
<path d="M862.9,439.2 L850.7,427.4 M850.7,427.4 L844.1,431.1" stroke="#1a1a1a" stroke-width="0.85" fill="none"/>
<path d="M887.5,70.8 L879.6,55.7 M879.6,55.7 L872.2,57.2" stroke="#1a1a1a" stroke-width="0.85" fill="none"/>
<path d="M887.5,107.6 L880.4,92.1 M880.4,92.1 L872.9,93.2" stroke="#1a1a1a" stroke-width="0.85" fill="none"/>
<path d="M887.5,144.4 L877.6,130.6 M877.6,130.6 L870.5,133.1" stroke="#1a1a1a" stroke-width="0.85" fill="none"/>
<path d="M887.5,181.3 L880.1,166 M881.6,169 L877.9,169.7" stroke="#1a1a1a" stroke-width="0.85" fill="none"/>
<path d="M887.5,218.1 L876.2,205.4 M876.2,205.4 L869.4,208.6" stroke="#1a1a1a" stroke-width="0.85" fill="none"/>
<path d="M887.5,255 L876.1,242.3 M876.1,242.3 L869.3,245.7" stroke="#1a1a1a" stroke-width="0.85" fill="none"/>
<path d="M887.5,291.9 L881.1,276.1 M881.1,276.1 L873.5,276.9" stroke="#1a1a1a" stroke-width="0.85" fill="none"/>
<path d="M887.5,328.7 L882.9,312.3 M882.9,312.3 L875.3,312.3" stroke="#1a1a1a" stroke-width="0.85" fill="none"/>
<path d="M887.5,365.5 L887.3,348.6 M887.3,352 L883.7,350.9" stroke="#1a1a1a" stroke-width="0.85" fill="none"/>
<path d="M887.5,402.4 L883.3,385.9 M883.3,385.9 L875.7,385.7" stroke="#1a1a1a" stroke-width="0.85" fill="none"/>
<path d="M887.5,439.2 L883.2,422.8 M883.2,422.8 L875.6,422.6" stroke="#1a1a1a" stroke-width="0.85" fill="none"/>
<path d="M912,70.8 L900,58.7 M902.4,61.1 L899.1,63" stroke="#1a1a1a" stroke-width="0.85" fill="none"/>
<path d="M912,107.6 L900.3,95.3 M902.6,97.8 L899.3,99.5" stroke="#1a1a1a" stroke-width="0.85" fill="none"/>
<path d="M912,144.4 L904.1,129.4 M904.1,129.4 L896.7,131" stroke="#1a1a1a" stroke-width="0.85" fill="none"/>
<path d="M912,181.3 L904.4,166.1 M905.9,169.1 L902.2,169.8" stroke="#1a1a1a" stroke-width="0.85" fill="none"/>
<path d="M912,218.1 L905.8,202.3 M905.8,202.3 L898.3,203" stroke="#1a1a1a" stroke-width="0.85" fill="none"/>
<path d="M912,255 L904.7,239.6 M904.7,239.6 L897.2,240.9" stroke="#1a1a1a" stroke-width="0.85" fill="none"/>
<path d="M912,291.9 L901.3,278.7 M903.4,281.3 L899.9,282.8" stroke="#1a1a1a" stroke-width="0.85" fill="none"/>
<path d="M912,328.7 L905.9,312.8 M905.9,312.8 L898.4,313.5 M907.1,316 L903.4,316.3" stroke="#1a1a1a" stroke-width="0.85" fill="none"/>
<path d="M912,365.5 L908.5,348.9 M908.5,348.9 L901,348.4" stroke="#1a1a1a" stroke-width="0.85" fill="none"/>
<path d="M912,402.4 L909.8,385.5 M909.8,385.5 L902.3,384.4" stroke="#1a1a1a" stroke-width="0.85" fill="none"/>
<path d="M912,439.2 L911.5,422.3 M911.5,422.3 L904.1,420.4" stroke="#1a1a1a" stroke-width="0.85" fill="none"/>
<path d="M936.6,70.8 L927.4,56.4 M927.4,56.4 L920.1,58.6" stroke="#1a1a1a" stroke-width="0.85" fill="none"/>
<path d="M936.6,107.6 L924.6,95.6 M924.6,95.6 L917.9,99.3" stroke="#1a1a1a" stroke-width="0.85" fill="none"/>
<path d="M936.6,144.4 L926.9,130.5 M928.8,133.3 L925.2,134.5" stroke="#1a1a1a" stroke-width="0.85" fill="none"/>
<path d="M936.6,181.3 L925.9,168.1 M925.9,168.1 L918.9,171" stroke="#1a1a1a" stroke-width="0.85" fill="none"/>
<path d="M936.6,218.1 L926.7,204.3 M928.7,207.1 L925.1,208.4" stroke="#1a1a1a" stroke-width="0.85" fill="none"/>
<path d="M936.6,255 L929.3,239.6 M930.7,242.7 L927,243.3" stroke="#1a1a1a" stroke-width="0.85" fill="none"/>
<path d="M936.6,291.9 L927.8,277.3 M927.8,277.3 L920.5,279.2" stroke="#1a1a1a" stroke-width="0.85" fill="none"/>
<path d="M936.6,328.7 L936.9,311.7 M936.9,311.7 L929.7,309.5" stroke="#1a1a1a" stroke-width="0.85" fill="none"/>
<path d="M936.6,365.5 L935.8,348.6 M935.8,348.6 L928.4,346.8" stroke="#1a1a1a" stroke-width="0.85" fill="none"/>
<path d="M936.6,402.4 L934.4,385.5 M934.8,388.9 L931.1,388.4" stroke="#1a1a1a" stroke-width="0.85" fill="none"/>
<path d="M936.6,439.2 L933.8,422.5 M933.8,422.5 L926.2,421.6 M934.3,425.8 L930.6,425.4" stroke="#1a1a1a" stroke-width="0.85" fill="none"/>
<path d="M961.1,70.8 L950.7,57.3 M952.8,60 L949.3,61.4" stroke="#1a1a1a" stroke-width="0.85" fill="none"/>
<path d="M961.1,107.6 L951.6,93.5 M953.5,96.4 L949.9,97.5" stroke="#1a1a1a" stroke-width="0.85" fill="none"/>
<path d="M961.1,144.4 L952.7,129.7 M952.7,129.7 L945.3,131.5" stroke="#1a1a1a" stroke-width="0.85" fill="none"/>
<path d="M961.1,181.3 L953,166.4 M954.7,169.3 L950.9,170.2" stroke="#1a1a1a" stroke-width="0.85" fill="none"/>
<path d="M961.1,218.1 L950.9,204.6 M952.9,207.3 L949.4,208.7" stroke="#1a1a1a" stroke-width="0.85" fill="none"/>
<path d="M961.1,255 L955.5,238.9 M956.7,242.2 L952.9,242.4" stroke="#1a1a1a" stroke-width="0.85" fill="none"/>
<path d="M961.1,291.9 L953,276.9 M953,276.9 L945.6,278.6" stroke="#1a1a1a" stroke-width="0.85" fill="none"/>
<path d="M961.1,328.7 L955.9,312.5 M955.9,312.5 L948.3,312.8" stroke="#1a1a1a" stroke-width="0.85" fill="none"/>
<path d="M961.1,365.5 L961.2,348.6 M961.2,348.6 L953.9,346.4 M961.2,352 L957.5,350.9" stroke="#1a1a1a" stroke-width="0.85" fill="none"/>
<path d="M961.1,402.4 L961.6,385.4 M961.6,385.4 L954.3,383.1" stroke="#1a1a1a" stroke-width="0.85" fill="none"/>
<path d="M961.1,439.2 L960.9,422.3 M960.9,422.3 L953.6,420.3" stroke="#1a1a1a" stroke-width="0.85" fill="none"/>
<path d="M985.7,70.8 L969.5,76.1 M969.5,76.1 L969.8,83.6 M972.8,75 L972.9,78.8" stroke="#1a1a1a" stroke-width="0.85" fill="none"/>
<path d="M985.7,107.6 L969.1,111.3 M969.1,111.3 L968.7,118.9" stroke="#1a1a1a" stroke-width="0.85" fill="none"/>
<path d="M985.7,144.4 L969.1,148.1 M969.1,148.1 L968.6,155.6 M972.4,147.3 L972.2,151.1" stroke="#1a1a1a" stroke-width="0.85" fill="none"/>
<path d="M985.7,181.3 L970.4,188.8 M970.4,188.8 L971.8,196.3 M973.5,187.3 L974.2,191" stroke="#1a1a1a" stroke-width="0.85" fill="none"/>
<path d="M985.7,218.1 L971.5,208.9 M974.3,210.7 L971.4,213.2" stroke="#1a1a1a" stroke-width="0.85" fill="none"/>
<path d="M985.7,255 L971.5,245.7 M974.3,247.6 L971.4,250.1" stroke="#1a1a1a" stroke-width="0.85" fill="none"/>
<path d="M985.7,291.9 L970.2,284.8 M970.2,284.8 L965.3,290.6" stroke="#1a1a1a" stroke-width="0.85" fill="none"/>
<path d="M985.7,328.7 L985.4,311.7 M985.4,311.7 L978.1,309.7" stroke="#1a1a1a" stroke-width="0.85" fill="none"/>
<path d="M985.7,365.5 L983.4,348.7 M983.4,348.7 L975.9,347.6" stroke="#1a1a1a" stroke-width="0.85" fill="none"/>
<path d="M985.7,402.4 L981.8,385.9 M981.8,385.9 L974.2,385.5 M982.6,389.2 L978.8,389" stroke="#1a1a1a" stroke-width="0.85" fill="none"/>
<path d="M985.7,439.2 L987.5,422.3 M987.5,422.3 L980.5,419.5 M987.2,425.7 L983.6,424.3" stroke="#1a1a1a" stroke-width="0.85" fill="none"/>
<path d="M1010.3,70.8 L994.6,77.3 M994.6,77.3 L995.5,84.9" stroke="#1a1a1a" stroke-width="0.85" fill="none"/>
<path d="M1010.3,107.6 L993.9,112.2 M993.9,112.2 L993.9,119.8" stroke="#1a1a1a" stroke-width="0.85" fill="none"/>
<path d="M1010.3,144.4 L993.4,146.8 M993.4,146.8 L992.4,154.3 M996.8,146.3 L996.3,150.1" stroke="#1a1a1a" stroke-width="0.85" fill="none"/>
<path d="M1010.3,181.3 L993.8,185.6 M993.8,185.6 L993.6,193.2" stroke="#1a1a1a" stroke-width="0.85" fill="none"/>
<path d="M1010.3,218.1 L995.8,209.2 M998.7,211 L995.9,213.6" stroke="#1a1a1a" stroke-width="0.85" fill="none"/>
<path d="M1010.3,255 L994.1,249.7 M994.1,249.7 L989.8,256" stroke="#1a1a1a" stroke-width="0.85" fill="none"/>
<path d="M1010.3,291.9 L995.8,283 M998.7,284.8 L995.9,287.3" stroke="#1a1a1a" stroke-width="0.85" fill="none"/>
<path d="M1010.3,328.7 L1009.2,311.7 M1009.2,311.7 L1001.8,310.1 M1009.4,315.1 L1005.7,314.3" stroke="#1a1a1a" stroke-width="0.85" fill="none"/>
<path d="M1010.3,365.5 L1007.9,348.7 M1007.9,348.7 L1000.4,347.6" stroke="#1a1a1a" stroke-width="0.85" fill="none"/>
<path d="M1010.3,402.4 L1005.9,386 M1005.9,386 L998.3,385.8 M1006.8,389.3 L1003,389.2" stroke="#1a1a1a" stroke-width="0.85" fill="none"/>
<path d="M1010.3,439.2 L1009.9,422.3 M1009.9,422.3 L1002.6,420.3" stroke="#1a1a1a" stroke-width="0.85" fill="none"/>
<path d="M1034.8,70.8 L1019.1,77.2 M1019.1,77.2 L1020,84.8" stroke="#1a1a1a" stroke-width="0.85" fill="none"/>
<path d="M1034.8,107.6 L1018.1,110.4 M1018.1,110.4 L1017.2,118" stroke="#1a1a1a" stroke-width="0.85" fill="none"/>
<path d="M1034.8,144.4 L1018.8,150.2 M1018.8,150.2 L1019.3,157.8" stroke="#1a1a1a" stroke-width="0.85" fill="none"/>
<path d="M1034.8,181.3 L1017.9,182.8 M1017.9,182.8 L1016.4,190.2 M1021.3,182.5 L1020.5,186.2" stroke="#1a1a1a" stroke-width="0.85" fill="none"/>
<path d="M1034.8,218.1 L1018.4,222.4 M1021.6,221.5 L1021.5,225.3" stroke="#1a1a1a" stroke-width="0.85" fill="none"/>
<path d="M1034.8,255 L1019.2,261.6 M1019.2,261.6 L1020.1,269.1" stroke="#1a1a1a" stroke-width="0.85" fill="none"/>
<path d="M1034.8,291.9 L1019.3,298.7 M1019.3,298.7 L1020.3,306.3" stroke="#1a1a1a" stroke-width="0.85" fill="none"/>
<path d="M1034.8,328.7 L1036.1,311.7 M1036.1,311.7 L1029,309.1" stroke="#1a1a1a" stroke-width="0.85" fill="none"/>
<path d="M1034.8,365.5 L1030.4,349.1 M1030.4,349.1 L1022.8,349" stroke="#1a1a1a" stroke-width="0.85" fill="none"/>
<path d="M1034.8,402.4 L1035.9,385.4 M1035.9,385.4 L1028.7,382.9" stroke="#1a1a1a" stroke-width="0.85" fill="none"/>
<path d="M1034.8,439.2 L1035,422.3 M1035,422.3 L1027.7,420.1" stroke="#1a1a1a" stroke-width="0.85" fill="none"/>
<path d="M1059.4,70.8 L1043.8,77.5 M1043.8,77.5 L1044.7,85 M1046.9,76.1 L1047.4,79.9" stroke="#1a1a1a" stroke-width="0.85" fill="none"/>
<path d="M1059.4,107.6 L1043.5,113.8 M1043.5,113.8 L1044.3,121.4" stroke="#1a1a1a" stroke-width="0.85" fill="none"/>
<path d="M1059.4,144.4 L1042.7,147.7 M1042.7,147.7 L1042,155.3 M1046,147.1 L1045.7,150.8" stroke="#1a1a1a" stroke-width="0.85" fill="none"/>
<path d="M1059.4,181.3 L1042.9,185.4 M1042.9,185.4 L1042.6,193" stroke="#1a1a1a" stroke-width="0.85" fill="none"/>
<path d="M1059.4,218.1 L1044.2,225.8 M1044.2,225.8 L1045.6,233.3" stroke="#1a1a1a" stroke-width="0.85" fill="none"/>
<path d="M1059.4,255 L1044.2,262.6 M1044.2,262.6 L1045.6,270.1" stroke="#1a1a1a" stroke-width="0.85" fill="none"/>
<path d="M1059.4,291.9 L1043.1,296.7 M1043.1,296.7 L1043.2,304.3" stroke="#1a1a1a" stroke-width="0.85" fill="none"/>
<path d="M1059.4,328.7 L1056.4,312 M1056.4,312 L1048.8,311.2" stroke="#1a1a1a" stroke-width="0.85" fill="none"/>
<path d="M1059.4,365.5 L1055.1,349.1 M1055.1,349.1 L1047.5,348.9 M1056,352.4 L1052.2,352.3" stroke="#1a1a1a" stroke-width="0.85" fill="none"/>
<path d="M1059.4,402.4 L1058.1,385.4 M1058.1,385.4 L1050.7,383.9" stroke="#1a1a1a" stroke-width="0.85" fill="none"/>
<path d="M1059.4,439.2 L1061.7,422.4 M1061.7,422.4 L1054.8,419.3" stroke="#1a1a1a" stroke-width="0.85" fill="none"/>
<path d="M1083.9,70.8 L1068.2,77.3 M1068.2,77.3 L1069.1,84.8 M1071.4,76 L1071.8,79.7" stroke="#1a1a1a" stroke-width="0.85" fill="none"/>
<path d="M1083.9,107.6 L1067,108.6 M1067,108.6 L1065.3,116.1 M1070.4,108.4 L1069.5,112.1" stroke="#1a1a1a" stroke-width="0.85" fill="none"/>
<path d="M1083.9,144.4 L1067.4,148.2 M1067.4,148.2 L1066.9,155.8 M1070.7,147.4 L1070.5,151.2" stroke="#1a1a1a" stroke-width="0.85" fill="none"/>
<path d="M1083.9,181.3 L1067.7,186.4 M1067.7,186.4 L1067.9,194 M1071,185.4 L1071.1,189.2" stroke="#1a1a1a" stroke-width="0.85" fill="none"/>
<path d="M1083.9,218.1 L1067.9,223.7 M1067.9,223.7 L1068.3,231.3 M1071.1,222.6 L1071.3,226.4" stroke="#1a1a1a" stroke-width="0.85" fill="none"/>
<path d="M1083.9,255 L1067.3,258.7 M1067.3,258.7 L1066.9,266.3" stroke="#1a1a1a" stroke-width="0.85" fill="none"/>
<path d="M1083.9,291.9 L1068,297.8 M1068,297.8 L1068.6,305.4" stroke="#1a1a1a" stroke-width="0.85" fill="none"/>
<path d="M1083.9,328.7 L1080.2,312.1 M1080.2,312.1 L1072.6,311.7 M1080.9,315.4 L1077.1,315.2" stroke="#1a1a1a" stroke-width="0.85" fill="none"/>
<path d="M1083.9,365.5 L1079.5,349.1 M1079.5,349.1 L1071.9,349 M1080.4,352.4 L1076.6,352.4" stroke="#1a1a1a" stroke-width="0.85" fill="none"/>
<path d="M1083.9,402.4 L1081.5,385.6 M1081.5,385.6 L1073.9,384.6" stroke="#1a1a1a" stroke-width="0.85" fill="none"/>
<path d="M1083.9,439.2 L1082.6,422.3 M1082.6,422.3 L1075.2,420.8" stroke="#1a1a1a" stroke-width="0.85" fill="none"/>
</g>
<g clip-path="url(#c0f)" fill="none" stroke-linejoin="round" stroke-linecap="round">
<path d="M126.2,88.7 L131.6,83 L136.2,79.6 L147.5,82.4 L163.5,86 L172.5,85.3 L178.9,83 M221.4,75.5 L231.6,76.2 L244.1,82.4 L256.6,81.9 L268,77.8 L277.1,75.5 L286.2,76.9 L293,83 L299.8,86 L313.5,88 L333.9,87.1 L349.8,87.6 L363,87.4 M363,87.1 L403.9,86.5 L431.2,85.3 L453.9,83.7 L469.8,84.2 L481.2,81.5 L492.5,79.6 L503.9,80.1 L517.5,77.4 L528.9,74 L536.9,69.4 M571,69.4 L577.8,74.6 L588,75.5 L597.1,75.5 L603.9,73.3 L608,72.8 M608,72.8 L619.4,71.7 L633,69.2 M653.5,69.2 L664.8,76.2 L676.2,78.5 L687.5,76.2 L698.9,75.1 L708,79.6 L714.8,86 L726.2,87.6 L737.5,79.6 L748.9,76.2 L758,77.4 L767.1,80.8 L777.3,82.4 L789.8,80.1 L801.2,76.9 L810.3,72.4 L819.4,74 L826.2,72.8 L833,69.2" stroke="#9018c8" stroke-width="2.0"/>
<path d="M126.2,127.8 L138.5,124 L148.7,126.2 L163.5,120.5 L174.8,123.3 L186.2,119.4 L197.5,121.7 L208.9,114.9 L220.3,111.5 L231.6,112.6 L247.5,117.1 L258.9,114.9 L272.5,112.6 L282.8,113.7 L290.7,120.5 L299.8,122.4 L313.5,119.4 M354.4,118.7 L363,117.8 M363,117.8 L376.6,117.1 L383.5,117.8 L392.5,115.5 L408.5,116.5 L426.6,116 L435.7,114.9 L449.4,116 L463,117.8 L476.6,117.8 L485.7,114.9 L499.4,112.6 L513,110.3 L526.6,105.1 L540.3,101.9 L556.2,99.6 L567.5,97.8 L573.2,100.1 L580,105.1 L590.3,106.9 L593.7,107.6 L603.9,105.8 L608,106.9 M608,107.4 L619.4,106.5 L630.7,104.2 L642.1,101.2 L651.2,99 L660.3,104.6 L666,108 M702.3,105.8 L708,114.9 L714.8,124 L719.4,124.6 L728.5,118.7 L739.8,115.5 L753.5,113.7 L764.8,114.9 L776.2,117.8 L789.8,113.7 L801.2,113.7 L812.5,106.9 L826.2,104.2 L837.5,101.2 L848.9,105.1 L850,105.8 M850,106.5 L855.7,99 L861.4,93.3 L870.5,92.8 L879.5,95.5 L888.6,98.3 L901.1,97.8 L909.1,92.1 L918.2,88.3 L927.3,87.6 L938.6,89.9 L950,93.3 L961.4,95.5 L972.7,99 L986.4,97.8 L997.7,100.5 L1009.1,102.8 L1018.2,102.8 L1029.5,99 L1038.6,97.8 L1050,98.5 L1061.4,100.1 L1072.7,103.5 L1081.8,105.8 L1090.5,106.5" stroke="#9018c8" stroke-width="2.0"/>
<path d="M126.2,157.4 L136.2,161.5 L147.5,161 L160,158.7 L166.9,161 L173.7,165.5 M201,166 L208.9,160.3 L220.3,155.8 L231.6,156.9 L240.7,158 L254.4,160.3 L265.7,162.6 L277.1,160.3 L286.2,158.7 L297.5,161.9 L306.6,156.9 L318,153.5 L331.6,149 L345.3,151.2 L356.6,150.5 L363,149.6 M363,149.6 L385.7,148.3 L403.9,149.6 L422.1,148.3 L438,148.3 L453.9,150.1 L469.8,151.9 L485.7,152.4 L494.8,154.6 L503.9,156.2 L510.7,152.4 L519.8,145.5 L531.2,140.5 L544.8,138.7 L556.2,135.3 L564.1,133.5 L569.8,133.7 L578.9,136.9 L590.3,139.9 M620.5,139.9 L628.5,138.3 L635.3,144.4 L644.4,151.9 L653.5,153.5 L667.1,155.8 L680.7,161.5 L694.4,160.3 L705.7,158 L717.1,152.4 L726.2,148.3 L735.3,150.5 L744.4,152.8 L755.7,151.9 L767.1,154.2 L777.3,155.8 L787.5,150.1 L801.2,154.6 L810.3,149 L819.4,141 L827.3,137.6 L835.3,139.9 L844.4,149 L849.4,152.4 L850,151.9 M850,153.5 L855.7,141 L861.4,128.5 L865.9,127.8 L875,134.2 L888.6,136.9 L897.7,138.7 L906.8,144.4 L912.5,150.5 L918.2,134.2 L924.5,121.2 L930.7,134.2 L935.9,146 L943.2,138.7 L948.9,135.3 L956.8,141 L963.6,146.7 L972.7,150.1 L981.8,145.5 L990.9,138.7 L997.7,134.6 L1003.4,138.7 L1009.1,144.4 L1018.2,142.1 L1027.3,136 L1034.1,133 L1043.2,133 L1054.5,134.6 L1065.9,135.3 L1077.3,137.6 L1086.4,141 L1090.5,143.3" stroke="#1e3ce6" stroke-width="2.0"/>
<path d="M126.2,216.5 L140.7,218.7 L157.8,217.1 L170.3,222.8 L186.2,230.8 L199.8,235.3 L213.5,239.9 L223.7,244.4 L231.6,239.9 L245.3,236.9 L260.7,234.2 L265.7,245.5 L272.5,258 L279.4,258 L287.3,254.6 L297.5,243.3 L307.8,234.6 L322.5,234.2 L337.3,234.6 M354.4,230.1 L362.3,226.2 L363,226 M363,226.2 L371,225.1 L378.9,227.8 L392.5,231.9 L408.5,233 L422.1,236.5 L430,236.9 L435.7,234.2 M442.1,226.2 L447.1,224 L453.9,224 L463,227.4 L472.1,227.8 L481.2,225.1 L490.3,228.5 L499.4,231.9 L508.5,231.9 L519.8,229.6 L531.2,232.4 L540.3,228.5 L551.6,222.8 L565.3,224 L572.1,220.5 L580,216 L586.9,217.8 L594.8,221.7 L603.9,223.3 L608,224 M608,224 L614.8,224 L626.2,214.9 L642.1,209.6 L653.5,213.3 L667.1,218.7 L683,218.3 L694.4,220.5 L701.2,221.7 L708,216 L719.4,210.3 L727.3,208.7 L735.3,212.6 L744.4,214.9 L755.7,216 L767.1,217.1 L776.2,216 L787.5,218.3 L794.4,225.1 L801.2,233 L810.3,233.7 L819.4,229.6 L827.3,228.5 L835.3,233 L842.1,234.2 L850,232.1 M850,231.9 L856.8,239.9 L865.9,245.5 L877.3,249 L886.4,249.6 L895.5,245.5 L909.1,241 L922.7,236 L936.4,234.2 L943.2,239.9 L948.9,243.3 L954.5,238.7 L961.4,232.4 L970.5,233 L979.5,236.5 L988.6,242.1 L997.7,252.4 L1004.5,243.3 L1011.4,239.2 L1019.3,239.2 L1027.3,231.9 L1036.4,225.1 L1045.5,227.8 L1054.5,233 L1065.9,234.2 L1077.3,235.3 L1086.4,238.7 L1090.5,238.3" stroke="#1e90f0" stroke-width="2.0"/>
<path d="M126.2,247.8 L140.7,249.4 L158.9,248.7 L170.3,254 L181.6,261.5 L195.3,265.3 L208.9,274.4 L215.7,277.1 L222.5,277.1 M242.5,283.5 L248.2,296 L260.7,271 L265.7,283.5 L272.5,306.9 L286.2,314.2 L297.5,307.4 L306.6,304.4 L322.5,297.1 L336.2,293.3 L347.5,291.5 L359.4,281.2 L363,285.1 M363,284.2 L371,294.4 L381.2,296.7 L388,292.1 L397.1,286.9 L408.5,289.9 L419.8,286.9 L431.2,280.8 L442.5,277.4 L458.5,278.5 L469.8,276.2 L481.2,275.5 L492.5,276.2 L499.4,280.8 L505.7,286 L513,278.5 L522.1,269.4 L530,264.2 L544.8,264.9 L556.2,266 L567.5,264.2 L576.6,263.3 L584.6,265.5 L592.5,267.8 L601.6,264.9 L608,261.5 M608,260.3 L619.4,254.6 L630.7,245.5 L642.1,241 L653.5,245.5 L664.8,249 L676.2,247.8 L687.5,251.2 L694.4,254.6 L701.2,258.7 L708,252.4 L714.8,243.3 L721.6,239.2 L727.3,239.2 L733,245.5 L739.8,255.8 M767.1,247.8 L776.2,247.8 L785.3,252.4 L794.4,261.5 L801.2,268.3 L808,271.7 L814.8,272.8 L823.9,269.4 L831.9,274 L839.8,279.6 L848.9,274 L850,274.4 M850,272.8 L856.8,279.6 L865.9,285.3 L877.3,293.3 L887.5,299.6 L895.5,297.8 L904.5,285.3 L915.9,275.1 L927.3,268.3 L934.1,268.3 L940.9,274 L948.9,280.8 L956.8,277.4 L965.9,275.1 L975,283 L984.1,292.1 L993.2,292.8 L1002.3,287.6 L1009.1,279.6 L1013.6,279.6 M1031.8,284.2 L1040.9,277.4 L1050,272.8 L1061.4,270.5 L1071.6,271.7 L1079.5,278.5 L1090.5,279.6" stroke="#14b9c8" stroke-width="2.0"/>
<path d="M126.2,280.5 L140.7,281.2 L152.1,283.5 L163.5,289.6 L174.8,297.8 L186.2,305.1 L190.7,307.4 L197.5,301.7 L203.2,307.4 L210,315.3 L218,314.2 L236.2,308.5 L241.9,325.5 L248.2,344.9 L260.7,326.7 L265.7,341.5 L272.5,355.1 L279.4,363 L286.2,366 L293,361.9 L306.6,350.5 L318,336.9 L327.1,330.1 L333.9,327.8 L343,334.6 L354.4,346 L363,352.4 M363,352.4 L369.8,356.2 L375.5,364.2 L378.5,377.8 L378.9,400.5 L383.5,411.5 L386.9,400.5 L388,386.9 L394.8,373.3 L401.6,358.5 L408.5,348.3 L415.3,332.4 L419.8,322.1 L426.6,316.5 L433.5,313.7 L442.5,314.6 L453.9,318.7 L465.3,323.3 L476.6,327.8 L486.9,332.4 L493.7,335.1 L499.4,331.2 L506.2,326 L513,314.2 L519.8,305.1 L530.7,297.8 L540.3,302.4 L551.6,309.6 L563,310.3 L578.9,311 L590.3,311.9 L603.9,312.6 L608,305.1 M608,302.4 L614.8,293.3 L626.2,281.9 L642.1,274 L653.5,278.5 L662.5,284.2 L670.5,284.6 M686.4,289.9 L692.1,294.4 L698.9,293.3 L705.7,287.6 L712.5,276.2 L719.4,273.3 L726.2,274 L731.9,279.6 L737.5,289.9 M766,288.7 L776.2,286.5 L785.3,291 L794.4,299 L801.2,302.4 L812.5,306.9 L823.9,311.5 L831.9,316 L839.8,320.5 L848.9,320.5 L850,321.5 M850,318.7 L855.7,330.1 L861.4,341.5 L870.5,340.3 L879.5,346 L886.8,352.8 L895.5,339.2 L904.5,323.3 L911.4,311.9 L918.2,305.1 L925,302.8 L934.1,306.2 L940.9,311.9 L950,318.7 L959.1,326.7 L965.9,336.9 L972.7,355.1 L979.5,359.6 L986.4,357.8 L993.2,341.5 L1000,323.3 L1006.8,314.2 L1011.4,312.4 L1018.2,318.7 L1027.3,326.7 L1036.4,334.6 L1045.5,343.7 L1054.5,352.8 L1063.6,366.5 L1070.5,376.7 L1075,377.8 L1084.1,371 L1090.5,352.8" stroke="#14c88c" stroke-width="2.0"/>
<path d="M126.2,314.2 L138.5,314.2 L147.5,317.6 L161.2,319.9 L166.9,330.1 L174.8,346 L181.6,368.7 L186.2,384.6 L190.7,389.2 L198.7,386.9 L205.5,364.2 L211.2,350.5 L220.3,347.8 L227.1,347.1 L235.7,344.9 L241.9,364.2 L246.4,377.8 L254.4,381.2 L262.3,384.6 L270.3,393.7 L277.1,402.8 L281.6,410.8 M289.6,409.6 L295.3,398.3 L306.6,384.6 L318,371 L327.1,366.5 L333.9,365.3 L341.9,372.1 L347.5,386.9 L352.1,405.1 L358.9,425.5 L363,433.5 M363,434.2 L366.4,441 M394.8,441 L399.4,418.7 L403.9,396 L410.7,375.5 L417.5,361.9 L424.4,352.8 L433.5,349.4 L442.5,350.5 L453.9,356.2 L463,363 L468,371 L469.8,384.6 L472.1,398.3 L476.6,407.4 L481.2,413 L486.9,406.2 L492.5,396 L497.1,377.8 L503.9,361.9 L513,346 L522.1,338 L531.2,332.8 L538,335.8 L544.8,340.3 L556.2,344.9 L565.3,347.1 L574.4,355.1 L582.3,365.3 L591.4,371.5 L597.1,361.9 L603.9,346 L608,338 M580.5,383.5 L583,393.7 L583,402.8 L580.5,413 L578,402.8 L578,393.7 L580.5,383.5 M608,334.6 L614.8,323.3 L621.6,318.7 L629.6,314.2 M650,316.5 L656.9,321 L667.1,323.3 L676.2,325.5 L679.6,332.4 L679.6,355.1 L678.5,377.8 L677.3,396 L678,405.1 L680.3,393.7 L681.9,385.8 L687.5,381.2 L692.5,375.5 L693.2,361.9 L695.5,343.7 L701.2,327.8 L708,314.2 L714.8,308 L721.6,309.2 L730.7,316.5 L737.5,325.5 L744.4,326 L753.5,324.4 L762.5,329 L770.5,334.6 L776.2,341.5 L777.3,359.6 L780.7,368.7 L788.7,374.4 L791,364.2 L794.4,350.5 L801.2,338.7 L808,340.3 L817.1,346 L826.2,357.4 L837.5,366.5 L846.6,375.5 L850,386.9 M850,380.1 L854.5,396 L861.4,410.8 M878.4,409.6 L884.1,405.1 L888.6,396 L895.5,377.8 L904.5,357.4 L913.6,343.7 L922.7,338.7 L929.5,340.3 L936.4,348.3 L940.9,359.6 L945.5,373.3 L948.9,384.6 L956.8,391.5 L963.6,398.3 L968.2,405.1 L972.7,411.9 L979.5,402.8 L986.4,389.2 L995.5,368.7 L1004.5,352.8 L1010.2,348.7 L1018.2,357.4 L1027.3,368.7 L1036.4,380.1 L1045.5,396 L1054.5,411.9 L1063.6,427.8 L1071.6,438 L1077.3,430.1 L1084.1,414.2 L1090.5,391.5" stroke="#e8a520" stroke-width="2.0"/>
<path d="M126.2,349.4 L133.9,348.3 L143,351.7 L152.1,357.4 L160,368.7 L166.9,389.2 L173.7,411.9 L180.5,432.4 L183.9,441 M198.7,441 L203.2,418.7 L207.8,396 L212.3,385.8 L220.3,384.6 L229.4,383.5 L235,382.4 L239.6,396 L244.1,418.7 L248.7,436.9 L252.1,441 M305.5,441 L311.2,425.5 L318,409.6 L323.7,404 L331.6,404 L337.3,414.2 L340.7,430.1 L343,441 M407.3,441 L411.9,416.5 L417.5,398.3 L424.4,389.2 L431.2,386.5 L435.7,389.2 L440.3,400.5 L444.8,416.5 L450.5,432.4 L453.9,441 M497.1,441 L501.6,414.2 L506.2,396 L513,382.4 L522.1,373.3 L531.2,368.7 L536.9,375.5 L541.4,391.5 L544.8,407.4 L549.4,418.7 L555,430.1 L563,425.5 L568.7,424.4 L572.1,441 M591.4,441 L597.1,411.9 L601.6,393.7 L608,376.7 M608,373.3 L614.8,361.9 L621.6,354 L630.7,348.7 L639.8,348.3 L648.9,354 L654.6,364.2 L656.2,377.8 L654.6,393.7 L655.7,409.6 L660.3,423.3 L664.8,436.9 L666.6,441 M691,441 L693.2,418.7 L696.6,389.2 L701.2,368.7 L708,355.1 L714.8,343.7 L720.5,355.1 L726.2,377.8 L731.9,400.5 L736.4,416.5 L739.8,429 L744.4,418.7 L747.8,400.5 L751.6,377.8 L754.6,396 L758,411.9 L762.5,425.5 L767.1,436.9 L768.2,441 M781.9,441 L787.5,423.3 L794.4,396 L801.2,373.3 L808,377.8 L814.8,384.6 L821.6,398.3 L828.5,409.6 L835.3,421 L839.8,432.4 L842.1,441 M892,441 L897.7,414.2 L904.5,393.7 L913.6,380.1 L922.7,375.5 L929.5,380.1 L935.2,393.7 L939.8,411.9 L944.3,430.1 L946.6,441 M987.5,441 L993.2,414.2 L1000,393.7 L1010.2,385.3 L1018.2,396 L1027.3,411.9 L1034.1,427.8 L1038.6,441" stroke="#f0821e" stroke-width="2.0"/>
<path d="M126.2,383.5 L133.9,384.6 L140.7,391.5 L147.5,407.4 L154.4,427.8 L158.9,441 M210,441 L222.5,438 L236.9,435.8 L237.3,441 M511.9,441 L518.7,423.3 L531.2,410.8 L534.6,427.8 L536.9,441 M605,441 L608,417.6 M608,417.6 L612.5,400.5 L619.4,389.2 L628.5,386.9 L631.9,396 L635.3,411.9 L639.8,432.4 L642.1,441 M697.8,441 L701.2,418.7 L704.6,396 L709.1,386.9 L714.8,377.8 L718.2,391.5 L721.6,411.9 L725,432.4 L726.2,441 M796.2,441 L798.9,423.3 L801.6,413 L805.7,423.3 L810.3,432.4 L814.8,441 M909.5,441 L912.5,432.4 L922.7,425.1 L928.4,436.9 L929.5,441" stroke="#f53232" stroke-width="2.0"/>
<path d="M126.2,432.4 L133.9,439.2 L136.2,441 M711.4,441 L714.8,424.4 L717.1,441" stroke="#eb148c" stroke-width="2.0"/>
<path d="M126.2,185.8 L133.9,193.3 L145.3,192.1 L156.6,188.7 L163.5,189.9 L174.8,196.7 L186.2,200.1 L197.5,201.7 L208.9,200.1 L213.5,202.4 L220.3,207.4 L229.4,207.4 L238.5,200.1 L248,186.5 L256.6,200.1 L265.7,211.5 L274.4,221 L286.2,217.8 L293,206.9 L302.1,196.7 L311.2,191 L321.4,188.7 M345.3,189.9 L356.6,186.5 L363,184.2 M363,183.5 L372.1,183 L385.7,184.2 L403.9,188 L410.7,187.6 L418.7,184.2 L435.7,184.2 L451.6,185.3 L465.3,188.3 L484.6,188.3 L490.3,192.1 L499.4,194.4 L506.2,193.7 L517.5,186.5 L531.2,185.3 L544.8,183.5 L556.2,183 L567.5,178.5 L576.6,172.8 L582.3,172.8 L590.3,176.2 L601.6,179.6 L608.5,180.8 M628.5,181.9 L642.1,180.8 L653.5,182.6 L669.4,183 L676.2,188.7 L683,190.3 L698.9,189.9 L708,185.3 L714.8,181.5 L726.2,178 L735.3,183.7 L744.4,183 L755.7,183 L767.1,185.3 L778.5,186.5 L789.8,188.3 L801.2,190.3 L808,193.3 L813.7,194.4 L819.4,186.5 L825.7,179.6 L831.9,184.2 L838.7,190.5 L851.2,191 M867,196.7 L875,204.6 L880.7,193.3 L886.4,177.4 L895.5,185.3 L906.8,193.3 L915.9,200.1 L922.7,203.5 L929.5,200.1 L936.4,195.5 L942,200.1 L947.7,204 L954.5,196.7 L961.4,187.1 L968.2,195.5 L977.3,201.2 L984.1,203 L990.9,200.1 L997.7,195.5 L1009.1,194.4 L1022.7,191.5 L1038.6,192.1 L1050,194.4 L1056.8,197.8 L1065.9,199.6 L1077.3,197.8 L1090.5,196.2" stroke="#000" stroke-width="3.3"/>
<path d="M126.2,185.8 L133.9,193.3 L145.3,192.1 L156.6,188.7 L163.5,189.9 L174.8,196.7 L186.2,200.1 L197.5,201.7 L208.9,200.1 L213.5,202.4 L220.3,207.4 L229.4,207.4 L238.5,200.1 L248,186.5 L256.6,200.1 L265.7,211.5 L274.4,221 L286.2,217.8 L293,206.9 L302.1,196.7 L311.2,191 L321.4,188.7 M345.3,189.9 L356.6,186.5 L363,184.2 M363,183.5 L372.1,183 L385.7,184.2 L403.9,188 L410.7,187.6 L418.7,184.2 L435.7,184.2 L451.6,185.3 L465.3,188.3 L484.6,188.3 L490.3,192.1 L499.4,194.4 L506.2,193.7 L517.5,186.5 L531.2,185.3 L544.8,183.5 L556.2,183 L567.5,178.5 L576.6,172.8 L582.3,172.8 L590.3,176.2 L601.6,179.6 L608.5,180.8 M628.5,181.9 L642.1,180.8 L653.5,182.6 L669.4,183 L676.2,188.7 L683,190.3 L698.9,189.9 L708,185.3 L714.8,181.5 L726.2,178 L735.3,183.7 L744.4,183 L755.7,183 L767.1,185.3 L778.5,186.5 L789.8,188.3 L801.2,190.3 L808,193.3 L813.7,194.4 L819.4,186.5 L825.7,179.6 L831.9,184.2 L838.7,190.5 L851.2,191 M867,196.7 L875,204.6 L880.7,193.3 L886.4,177.4 L895.5,185.3 L906.8,193.3 L915.9,200.1 L922.7,203.5 L929.5,200.1 L936.4,195.5 L942,200.1 L947.7,204 L954.5,196.7 L961.4,187.1 L968.2,195.5 L977.3,201.2 L984.1,203 L990.9,200.1 L997.7,195.5 L1009.1,194.4 L1022.7,191.5 L1038.6,192.1 L1050,194.4 L1056.8,197.8 L1065.9,199.6 L1077.3,197.8 L1090.5,196.2" stroke="#fff" stroke-width="1.15"/>
</g>
<text x="183.5" y="88" font-size="19" fill="#9018c8" textLength="32.5" lengthAdjust="spacingAndGlyphs">&#8722;15</text>
<text x="317" y="124" font-size="19" fill="#9018c8" textLength="35" lengthAdjust="spacingAndGlyphs">&#8722;10</text>
<text x="176" y="173" font-size="19" fill="#1e3ce6" textLength="23" lengthAdjust="spacingAndGlyphs">&#8722;5</text>
<text x="325" y="196.7" font-size="14" fill="#000" textLength="18" lengthAdjust="spacingAndGlyphs">FR</text>
<text x="342" y="244" font-size="19" fill="#1e90f0" textLength="9.5" lengthAdjust="spacingAndGlyphs">5</text>
<text x="229.5" y="281" font-size="19" fill="#14b9c8" textLength="17" lengthAdjust="spacingAndGlyphs">10</text>
<text x="276" y="430" font-size="19" fill="#e8a520" textLength="18" lengthAdjust="spacingAndGlyphs">20</text>
<text x="663.7" y="124" font-size="19" fill="#9018c8" textLength="32" lengthAdjust="spacingAndGlyphs">&#8722;10</text>
<text x="595.5" y="147.5" font-size="19" fill="#1e3ce6" textLength="20" lengthAdjust="spacingAndGlyphs">&#8722;5</text>
<text x="609" y="187" font-size="14" fill="#000" textLength="17" lengthAdjust="spacingAndGlyphs">FR</text>
<text x="743" y="253" font-size="19" fill="#14b9c8" textLength="19" lengthAdjust="spacingAndGlyphs">10</text>
<text x="743" y="289" font-size="19" fill="#14c88c" textLength="19" lengthAdjust="spacingAndGlyphs">15</text>
<text x="632" y="316.5" font-size="19" fill="#e8a520" textLength="19" lengthAdjust="spacingAndGlyphs">20</text>
<text x="853.5" y="195.5" font-size="14" fill="#000" textLength="17" lengthAdjust="spacingAndGlyphs">FR</text>
<text x="866" y="425.5" font-size="19" fill="#e8a520" textLength="18" lengthAdjust="spacingAndGlyphs">20</text>
<text x="242" y="157" font-size="9.5" fill="#9a9a9a">90</text>
<text x="205" y="297" font-size="9.5" fill="#9a9a9a">50</text>
<text x="278" y="343.5" font-size="9.5" fill="#9a9a9a">70</text>
<text x="1016" y="289" font-size="9.5" fill="#9a9a9a">90</text>
<text x="712" y="177" font-size="9.5" fill="#9a9a9a">70</text>
<rect x="120.5" y="70.5" width="970" height="370" fill="none" stroke="#000" stroke-width="1.25"/>
<line x1="115.5" y1="107.6" x2="120.5" y2="107.6" stroke="#000" stroke-width="1"/>
<text x="112.5" y="112.1" font-size="12.5" fill="#000" text-anchor="end" textLength="20.5" lengthAdjust="spacingAndGlyphs" stroke="#fff" stroke-width="0.2">500</text>
<line x1="115.5" y1="181.3" x2="120.5" y2="181.3" stroke="#000" stroke-width="1"/>
<text x="112.5" y="185.8" font-size="12.5" fill="#000" text-anchor="end" textLength="20.5" lengthAdjust="spacingAndGlyphs" stroke="#fff" stroke-width="0.2">600</text>
<line x1="115.5" y1="255" x2="120.5" y2="255" stroke="#000" stroke-width="1"/>
<text x="112.5" y="259.5" font-size="12.5" fill="#000" text-anchor="end" textLength="20.5" lengthAdjust="spacingAndGlyphs" stroke="#fff" stroke-width="0.2">700</text>
<line x1="115.5" y1="328.7" x2="120.5" y2="328.7" stroke="#000" stroke-width="1"/>
<text x="112.5" y="333.2" font-size="12.5" fill="#000" text-anchor="end" textLength="20.5" lengthAdjust="spacingAndGlyphs" stroke="#fff" stroke-width="0.2">800</text>
<line x1="115.5" y1="402.4" x2="120.5" y2="402.4" stroke="#000" stroke-width="1"/>
<text x="112.5" y="406.9" font-size="12.5" fill="#000" text-anchor="end" textLength="20.5" lengthAdjust="spacingAndGlyphs" stroke="#fff" stroke-width="0.2">900</text>
<text x="56.3" y="148.6" font-size="15.8" fill="#000" transform="rotate(-90 56.3 148.6)" textLength="80.4" lengthAdjust="spacingAndGlyphs" stroke="#fff" stroke-width="0.2">Wind (m/s)</text>
<text x="56.3" y="178" font-size="15.8" fill="#fa4646" transform="rotate(-90 56.3 178)" textLength="28" lengthAdjust="spacingAndGlyphs" stroke="#fff" stroke-width="0.2">(&#176;C)</text>
<text x="56.3" y="264" font-size="15.8" fill="#000" transform="rotate(-90 56.3 264)" textLength="78.5" lengthAdjust="spacingAndGlyphs" stroke="#fff" stroke-width="0.2"><tspan fill="#fa4646">T</tspan><tspan fill="#f58c28">e</tspan><tspan fill="#f0aa28">m</tspan><tspan fill="#ebd73c">p</tspan><tspan fill="#b4e13c">e</tspan><tspan fill="#50d764">r</tspan><tspan fill="#28c8c8">a</tspan><tspan fill="#28aae6">t</tspan><tspan fill="#3264f0">u</tspan><tspan fill="#643ce6">r</tspan><tspan fill="#961ed2">e</tspan></text>
<rect x="39.9" y="282.2" width="4.7" height="53.6" fill="#00c800"/>
<rect x="44.5" y="282.2" width="4.7" height="53.6" fill="#00f000"/>
<rect x="49.2" y="282.2" width="4.7" height="53.6" fill="#78d778"/>
<rect x="53.8" y="282.2" width="4.7" height="53.6" fill="#a0cda0"/>
<rect x="58.5" y="282.2" width="4.7" height="53.6" fill="#c8d7c8"/>
<text x="58.6" y="333.9" font-size="15.8" fill="#000" transform="rotate(-90 58.6 333.9)" textLength="50" lengthAdjust="spacingAndGlyphs">RH (%)</text>
<text x="84.9" y="323.5" font-size="15.8" fill="#000" transform="rotate(-90 84.9 323.5)" textLength="134.5" lengthAdjust="spacingAndGlyphs" stroke="#fff" stroke-width="0.2">(m i l l i b a r s)</text>
<line x1="120.5" y1="460.5" x2="1090.5" y2="460.5" stroke="#a2a2a2" stroke-width="1" stroke-dasharray="4 2"/>
<line x1="120.5" y1="478.5" x2="1090.5" y2="478.5" stroke="#a2a2a2" stroke-width="1" stroke-dasharray="4 2"/>
<line x1="120.5" y1="496.5" x2="1090.5" y2="496.5" stroke="#a2a2a2" stroke-width="1" stroke-dasharray="4 2"/>
<line x1="120.5" y1="514.5" x2="1090.5" y2="514.5" stroke="#a2a2a2" stroke-width="1" stroke-dasharray="4 2"/>
<line x1="175.5" y1="440.5" x2="175.5" y2="525.5" stroke="#a2a2a2" stroke-width="1" stroke-dasharray="4 2"/>
<line x1="273.5" y1="440.5" x2="273.5" y2="525.5" stroke="#a2a2a2" stroke-width="1" stroke-dasharray="4 2"/>
<line x1="371.5" y1="440.5" x2="371.5" y2="525.5" stroke="#a2a2a2" stroke-width="1" stroke-dasharray="4 2"/>
<line x1="469.5" y1="440.5" x2="469.5" y2="525.5" stroke="#a2a2a2" stroke-width="1" stroke-dasharray="4 2"/>
<line x1="568.5" y1="440.5" x2="568.5" y2="525.5" stroke="#a2a2a2" stroke-width="1" stroke-dasharray="4 2"/>
<line x1="666.5" y1="440.5" x2="666.5" y2="525.5" stroke="#a2a2a2" stroke-width="1" stroke-dasharray="4 2"/>
<line x1="764.5" y1="440.5" x2="764.5" y2="525.5" stroke="#a2a2a2" stroke-width="1" stroke-dasharray="4 2"/>
<line x1="862.5" y1="440.5" x2="862.5" y2="525.5" stroke="#a2a2a2" stroke-width="1" stroke-dasharray="4 2"/>
<line x1="961.5" y1="440.5" x2="961.5" y2="525.5" stroke="#a2a2a2" stroke-width="1" stroke-dasharray="4 2"/>
<line x1="1059.5" y1="440.5" x2="1059.5" y2="525.5" stroke="#a2a2a2" stroke-width="1" stroke-dasharray="4 2"/>
<clipPath id="c1"><rect x="120.5" y="440.5" width="970.0" height="85.0"/></clipPath>
<g clip-path="url(#c1)">
<polyline points="126.1,509 138.4,509 150.7,495.8 162.9,494.6 175.2,490.1 187.5,486.5 199.8,483.7 212.1,495.5 224.3,507.6 236.6,513.5 248.9,484.4 261.2,489.9 273.5,485.5 285.7,485.5 298,478.7 310.3,479.6 322.6,487.8 334.9,486.9 347.1,467.8 359.4,458 371.7,457.6 384,450.1 396.3,445.8 408.5,455.3 420.8,475.1 433.1,481.5 445.4,473.5 457.7,465.5 469.9,467.8 482.2,466.7 494.5,458 506.8,464.4 519.1,482.6 531.3,489.9 543.6,473.5 555.9,467.8 568.2,471.7 580.5,462.6 592.7,454.9 605,464.4 617.3,486 629.6,498.5 641.9,491.7 654.1,477.6 666.4,475.1 678.7,469 691,465.5 703.3,486.5 715.5,508 727.8,504.9 740.1,486.5 752.4,499 764.7,501.2 776.9,501.9 789.2,496.9 801.5,509.9 813.8,518.5 826.1,520.1 838.3,504.9 850.6,500.1 862.9,502.4 875.2,496.9 887.5,484.9 899.7,491.7 912,508.7 924.3,515.1 936.6,497.4 948.9,476.9 961.1,483.7 973.4,472.4 985.7,464 998,478 1010.3,494 1022.5,489 1034.8,483.7 1047.1,474.6 1059.4,479.6 1071.7,473.5 1083.9,463.7" fill="none" stroke="#0c0cf5" stroke-width="1.9" stroke-linejoin="round"/>
<polyline points="126.1,455.3 138.4,457.1 150.7,464.2 162.9,466.9 175.2,483.3 187.5,493.7 199.8,492.1 212.1,484 224.3,482.8 236.6,481.5 248.9,499.4 261.2,495.1 273.5,514 285.7,518.3 298,511.7 310.3,508 322.6,501.5 334.9,496.9 347.1,504.9 359.4,509.2 371.7,514.4 384,519.6 396.3,514.9 408.5,506 420.8,492.4 433.1,484.9 445.4,488.3 457.7,494.9 469.9,500.5 482.2,502.4 494.5,503.7 506.8,494.6 519.1,478.5 531.3,470.1 543.6,477.1 555.9,481.7 568.2,480.8 580.5,486.5 592.7,486.5 605,475.3 617.3,460.5 629.6,451.5 641.9,455.3 654.1,465.1 666.4,475.8 678.7,484.4 691,481.9 703.3,464.4 715.5,446.2 727.8,454.6 740.1,470.1 752.4,461.7 764.7,472.4 776.9,476.9 789.2,478 801.5,471.2 813.8,475.8 826.1,475.8 838.3,483.7 850.6,490.1 862.9,494.6 875.2,500.8 887.5,500.8 899.7,490.5 912,476.5 924.3,467.1 936.6,475.8 948.9,491.2 961.1,489.4 973.4,499.6 985.7,500.3 998,485.3 1010.3,476.2 1022.5,480.3 1034.8,483.7 1047.1,490.1 1059.4,495.8 1071.7,500.1 1083.9,503.7 1096.2,490.5" fill="none" stroke="#22c4c4" stroke-width="1"/>
<polygon points="122.9,457.5 129.3,457.5 126.1,451.7" fill="#fff" stroke="#22c4c4" stroke-width="1"/>
<polygon points="135.2,459.3 141.6,459.3 138.4,453.5" fill="#fff" stroke="#22c4c4" stroke-width="1"/>
<polygon points="147.5,466.4 153.9,466.4 150.7,460.6" fill="#fff" stroke="#22c4c4" stroke-width="1"/>
<polygon points="159.7,469.1 166.1,469.1 162.9,463.3" fill="#fff" stroke="#22c4c4" stroke-width="1"/>
<polygon points="172,485.5 178.4,485.5 175.2,479.7" fill="#fff" stroke="#22c4c4" stroke-width="1"/>
<polygon points="184.3,495.9 190.7,495.9 187.5,490.1" fill="#fff" stroke="#22c4c4" stroke-width="1"/>
<polygon points="196.6,494.3 203,494.3 199.8,488.5" fill="#fff" stroke="#22c4c4" stroke-width="1"/>
<polygon points="208.9,486.2 215.3,486.2 212.1,480.4" fill="#fff" stroke="#22c4c4" stroke-width="1"/>
<polygon points="221.1,485 227.5,485 224.3,479.2" fill="#fff" stroke="#22c4c4" stroke-width="1"/>
<polygon points="233.4,483.7 239.8,483.7 236.6,477.9" fill="#fff" stroke="#22c4c4" stroke-width="1"/>
<polygon points="245.7,501.6 252.1,501.6 248.9,495.8" fill="#fff" stroke="#22c4c4" stroke-width="1"/>
<polygon points="258,497.3 264.4,497.3 261.2,491.5" fill="#fff" stroke="#22c4c4" stroke-width="1"/>
<polygon points="270.3,516.2 276.7,516.2 273.5,510.4" fill="#fff" stroke="#22c4c4" stroke-width="1"/>
<polygon points="282.5,520.5 288.9,520.5 285.7,514.7" fill="#fff" stroke="#22c4c4" stroke-width="1"/>
<polygon points="294.8,513.9 301.2,513.9 298,508.1" fill="#fff" stroke="#22c4c4" stroke-width="1"/>
<polygon points="307.1,510.2 313.5,510.2 310.3,504.4" fill="#fff" stroke="#22c4c4" stroke-width="1"/>
<polygon points="319.4,503.7 325.8,503.7 322.6,497.9" fill="#fff" stroke="#22c4c4" stroke-width="1"/>
<polygon points="331.7,499.1 338.1,499.1 334.9,493.3" fill="#fff" stroke="#22c4c4" stroke-width="1"/>
<polygon points="343.9,507.1 350.3,507.1 347.1,501.3" fill="#fff" stroke="#22c4c4" stroke-width="1"/>
<polygon points="356.2,511.4 362.6,511.4 359.4,505.6" fill="#fff" stroke="#22c4c4" stroke-width="1"/>
<polygon points="368.5,516.6 374.9,516.6 371.7,510.8" fill="#fff" stroke="#22c4c4" stroke-width="1"/>
<polygon points="380.8,521.8 387.2,521.8 384,516" fill="#fff" stroke="#22c4c4" stroke-width="1"/>
<polygon points="393.1,517.1 399.5,517.1 396.3,511.3" fill="#fff" stroke="#22c4c4" stroke-width="1"/>
<polygon points="405.3,508.2 411.7,508.2 408.5,502.4" fill="#fff" stroke="#22c4c4" stroke-width="1"/>
<polygon points="417.6,494.6 424,494.6 420.8,488.8" fill="#fff" stroke="#22c4c4" stroke-width="1"/>
<polygon points="429.9,487.1 436.3,487.1 433.1,481.3" fill="#fff" stroke="#22c4c4" stroke-width="1"/>
<polygon points="442.2,490.5 448.6,490.5 445.4,484.7" fill="#fff" stroke="#22c4c4" stroke-width="1"/>
<polygon points="454.5,497.1 460.9,497.1 457.7,491.3" fill="#fff" stroke="#22c4c4" stroke-width="1"/>
<polygon points="466.7,502.7 473.1,502.7 469.9,496.9" fill="#fff" stroke="#22c4c4" stroke-width="1"/>
<polygon points="479,504.6 485.4,504.6 482.2,498.8" fill="#fff" stroke="#22c4c4" stroke-width="1"/>
<polygon points="491.3,505.9 497.7,505.9 494.5,500.1" fill="#fff" stroke="#22c4c4" stroke-width="1"/>
<polygon points="503.6,496.8 510,496.8 506.8,491" fill="#fff" stroke="#22c4c4" stroke-width="1"/>
<polygon points="515.9,480.7 522.3,480.7 519.1,474.9" fill="#fff" stroke="#22c4c4" stroke-width="1"/>
<polygon points="528.1,472.3 534.5,472.3 531.3,466.5" fill="#fff" stroke="#22c4c4" stroke-width="1"/>
<polygon points="540.4,479.3 546.8,479.3 543.6,473.5" fill="#fff" stroke="#22c4c4" stroke-width="1"/>
<polygon points="552.7,483.9 559.1,483.9 555.9,478.1" fill="#fff" stroke="#22c4c4" stroke-width="1"/>
<polygon points="565,483 571.4,483 568.2,477.2" fill="#fff" stroke="#22c4c4" stroke-width="1"/>
<polygon points="577.3,488.7 583.7,488.7 580.5,482.9" fill="#fff" stroke="#22c4c4" stroke-width="1"/>
<polygon points="589.5,488.7 595.9,488.7 592.7,482.9" fill="#fff" stroke="#22c4c4" stroke-width="1"/>
<polygon points="601.8,477.5 608.2,477.5 605,471.7" fill="#fff" stroke="#22c4c4" stroke-width="1"/>
<polygon points="614.1,462.7 620.5,462.7 617.3,456.9" fill="#fff" stroke="#22c4c4" stroke-width="1"/>
<polygon points="626.4,453.7 632.8,453.7 629.6,447.9" fill="#fff" stroke="#22c4c4" stroke-width="1"/>
<polygon points="638.7,457.5 645.1,457.5 641.9,451.7" fill="#fff" stroke="#22c4c4" stroke-width="1"/>
<polygon points="650.9,467.3 657.3,467.3 654.1,461.5" fill="#fff" stroke="#22c4c4" stroke-width="1"/>
<polygon points="663.2,478 669.6,478 666.4,472.2" fill="#fff" stroke="#22c4c4" stroke-width="1"/>
<polygon points="675.5,486.6 681.9,486.6 678.7,480.8" fill="#fff" stroke="#22c4c4" stroke-width="1"/>
<polygon points="687.8,484.1 694.2,484.1 691,478.3" fill="#fff" stroke="#22c4c4" stroke-width="1"/>
<polygon points="700.1,466.6 706.5,466.6 703.3,460.8" fill="#fff" stroke="#22c4c4" stroke-width="1"/>
<polygon points="712.3,448.4 718.7,448.4 715.5,442.6" fill="#fff" stroke="#22c4c4" stroke-width="1"/>
<polygon points="724.6,456.8 731,456.8 727.8,451" fill="#fff" stroke="#22c4c4" stroke-width="1"/>
<polygon points="736.9,472.3 743.3,472.3 740.1,466.5" fill="#fff" stroke="#22c4c4" stroke-width="1"/>
<polygon points="749.2,463.9 755.6,463.9 752.4,458.1" fill="#fff" stroke="#22c4c4" stroke-width="1"/>
<polygon points="761.5,474.6 767.9,474.6 764.7,468.8" fill="#fff" stroke="#22c4c4" stroke-width="1"/>
<polygon points="773.7,479.1 780.1,479.1 776.9,473.3" fill="#fff" stroke="#22c4c4" stroke-width="1"/>
<polygon points="786,480.2 792.4,480.2 789.2,474.4" fill="#fff" stroke="#22c4c4" stroke-width="1"/>
<polygon points="798.3,473.4 804.7,473.4 801.5,467.6" fill="#fff" stroke="#22c4c4" stroke-width="1"/>
<polygon points="810.6,478 817,478 813.8,472.2" fill="#fff" stroke="#22c4c4" stroke-width="1"/>
<polygon points="822.9,478 829.3,478 826.1,472.2" fill="#fff" stroke="#22c4c4" stroke-width="1"/>
<polygon points="835.1,485.9 841.5,485.9 838.3,480.1" fill="#fff" stroke="#22c4c4" stroke-width="1"/>
<polygon points="847.4,492.3 853.8,492.3 850.6,486.5" fill="#fff" stroke="#22c4c4" stroke-width="1"/>
<polygon points="859.7,496.8 866.1,496.8 862.9,491" fill="#fff" stroke="#22c4c4" stroke-width="1"/>
<polygon points="872,503 878.4,503 875.2,497.2" fill="#fff" stroke="#22c4c4" stroke-width="1"/>
<polygon points="884.3,503 890.7,503 887.5,497.2" fill="#fff" stroke="#22c4c4" stroke-width="1"/>
<polygon points="896.5,492.7 902.9,492.7 899.7,486.9" fill="#fff" stroke="#22c4c4" stroke-width="1"/>
<polygon points="908.8,478.7 915.2,478.7 912,472.9" fill="#fff" stroke="#22c4c4" stroke-width="1"/>
<polygon points="921.1,469.3 927.5,469.3 924.3,463.5" fill="#fff" stroke="#22c4c4" stroke-width="1"/>
<polygon points="933.4,478 939.8,478 936.6,472.2" fill="#fff" stroke="#22c4c4" stroke-width="1"/>
<polygon points="945.7,493.4 952.1,493.4 948.9,487.6" fill="#fff" stroke="#22c4c4" stroke-width="1"/>
<polygon points="957.9,491.6 964.3,491.6 961.1,485.8" fill="#fff" stroke="#22c4c4" stroke-width="1"/>
<polygon points="970.2,501.8 976.6,501.8 973.4,496" fill="#fff" stroke="#22c4c4" stroke-width="1"/>
<polygon points="982.5,502.5 988.9,502.5 985.7,496.7" fill="#fff" stroke="#22c4c4" stroke-width="1"/>
<polygon points="994.8,487.5 1001.2,487.5 998,481.7" fill="#fff" stroke="#22c4c4" stroke-width="1"/>
<polygon points="1007.1,478.4 1013.5,478.4 1010.3,472.6" fill="#fff" stroke="#22c4c4" stroke-width="1"/>
<polygon points="1019.3,482.5 1025.7,482.5 1022.5,476.7" fill="#fff" stroke="#22c4c4" stroke-width="1"/>
<polygon points="1031.6,485.9 1038,485.9 1034.8,480.1" fill="#fff" stroke="#22c4c4" stroke-width="1"/>
<polygon points="1043.9,492.3 1050.3,492.3 1047.1,486.5" fill="#fff" stroke="#22c4c4" stroke-width="1"/>
<polygon points="1056.2,498 1062.6,498 1059.4,492.2" fill="#fff" stroke="#22c4c4" stroke-width="1"/>
<polygon points="1068.5,502.3 1074.9,502.3 1071.7,496.5" fill="#fff" stroke="#22c4c4" stroke-width="1"/>
<polygon points="1080.7,505.9 1087.1,505.9 1083.9,500.1" fill="#fff" stroke="#22c4c4" stroke-width="1"/>
<polygon points="1093,492.7 1099.4,492.7 1096.2,486.9" fill="#fff" stroke="#22c4c4" stroke-width="1"/>
</g>
<rect x="120.5" y="440.5" width="970" height="85" fill="none" stroke="#000" stroke-width="1.25"/>
<line x1="116" y1="452.5" x2="120.5" y2="452.5" stroke="#000" stroke-width="1"/>
<text x="112.5" y="457" font-size="12.5" fill="#000" text-anchor="end" textLength="26.5" lengthAdjust="spacingAndGlyphs" stroke="#fff" stroke-width="0.2">1020</text>
<line x1="116" y1="470.7" x2="120.5" y2="470.7" stroke="#000" stroke-width="1"/>
<text x="112.5" y="475.2" font-size="12.5" fill="#000" text-anchor="end" textLength="26.5" lengthAdjust="spacingAndGlyphs" stroke="#fff" stroke-width="0.2">1017</text>
<line x1="116" y1="489.2" x2="120.5" y2="489.2" stroke="#000" stroke-width="1"/>
<text x="112.5" y="493.7" font-size="12.5" fill="#000" text-anchor="end" textLength="26.5" lengthAdjust="spacingAndGlyphs" stroke="#fff" stroke-width="0.2">1014</text>
<line x1="116" y1="507.6" x2="120.5" y2="507.6" stroke="#000" stroke-width="1"/>
<text x="112.5" y="512.1" font-size="12.5" fill="#000" text-anchor="end" textLength="26.5" lengthAdjust="spacingAndGlyphs" stroke="#fff" stroke-width="0.2">1011</text>
<line x1="69.6" y1="440.7" x2="69.6" y2="525" stroke="#000" stroke-width="1.3"/>
<line x1="65" y1="441.7" x2="69.6" y2="441.7" stroke="#000" stroke-width="1"/>
<text x="61.5" y="446.2" font-size="12.5" fill="#000" text-anchor="end" textLength="20.7" lengthAdjust="spacingAndGlyphs" stroke="#fff" stroke-width="0.2">579</text>
<line x1="65" y1="460.6" x2="69.6" y2="460.6" stroke="#000" stroke-width="1"/>
<text x="61.5" y="465.1" font-size="12.5" fill="#000" text-anchor="end" textLength="20.7" lengthAdjust="spacingAndGlyphs" stroke="#fff" stroke-width="0.2">576</text>
<line x1="65" y1="478.7" x2="69.6" y2="478.7" stroke="#000" stroke-width="1"/>
<text x="61.5" y="483.2" font-size="12.5" fill="#000" text-anchor="end" textLength="20.7" lengthAdjust="spacingAndGlyphs" stroke="#fff" stroke-width="0.2">573</text>
<line x1="65" y1="496.6" x2="69.6" y2="496.6" stroke="#000" stroke-width="1"/>
<text x="61.5" y="501.1" font-size="12.5" fill="#000" text-anchor="end" textLength="20.7" lengthAdjust="spacingAndGlyphs" stroke="#fff" stroke-width="0.2">570</text>
<line x1="65" y1="514.7" x2="69.6" y2="514.7" stroke="#000" stroke-width="1"/>
<text x="61.5" y="519.2" font-size="12.5" fill="#000" text-anchor="end" textLength="20.7" lengthAdjust="spacingAndGlyphs" stroke="#fff" stroke-width="0.2">567</text>
<text x="21" y="531" font-size="16" fill="#22c4c4" transform="rotate(-90 21 531)" textLength="95" lengthAdjust="spacingAndGlyphs" stroke="#fff" stroke-width="0.2">1000&#8722;500mb</text>
<text x="37" y="534" font-size="16" fill="#22c4c4" transform="rotate(-90 37 534)" textLength="98" lengthAdjust="spacingAndGlyphs" stroke="#fff" stroke-width="0.2">Thcknss (dm)</text>
<text x="84.6" y="516.5" font-size="16" fill="#2a3cf0" transform="rotate(-90 84.6 516.5)" textLength="67.5" lengthAdjust="spacingAndGlyphs" stroke="#fff" stroke-width="0.2">SLP (mb)</text>
<rect x="122.6" y="605.3" width="7" height="5.2" fill="#bf73f5"/>
<rect x="184" y="608.2" width="7" height="2.3" fill="#bf73f5"/>
<rect x="196.3" y="608.2" width="7" height="2.3" fill="#bf73f5"/>
<rect x="208.6" y="608.2" width="7" height="2.3" fill="#bf73f5"/>
<rect x="233.1" y="609.5" width="7" height="1" fill="#bf73f5"/>
<rect x="245.4" y="609.3" width="7" height="1.2" fill="#bf73f5"/>
<rect x="257.7" y="609.5" width="7" height="1" fill="#bf73f5"/>
<rect x="270" y="607.5" width="7" height="3" fill="#bf73f5"/>
<rect x="282.2" y="609.3" width="7" height="1.2" fill="#bf73f5"/>
<rect x="687.5" y="609.5" width="7" height="1" fill="#bf73f5"/>
<rect x="699.8" y="574.1" width="7" height="36.4" fill="#bf73f5"/>
<rect x="712" y="597.3" width="7" height="13.2" fill="#bf73f5"/>
<rect x="724.3" y="587.1" width="7" height="23.4" fill="#bf73f5"/>
<rect x="736.6" y="599.1" width="7" height="11.4" fill="#bf73f5"/>
<rect x="748.9" y="609.5" width="7" height="1" fill="#bf73f5"/>
<rect x="798" y="531" width="7" height="79.5" fill="#bf73f5"/>
<rect x="810.3" y="603.2" width="7" height="7.3" fill="#bf73f5"/>
<rect x="908.5" y="601.2" width="7" height="9.3" fill="#bf73f5"/>
<rect x="920.8" y="603.2" width="7" height="7.3" fill="#bf73f5"/>
<rect x="933.1" y="609.5" width="7" height="1" fill="#bf73f5"/>
<rect x="957.6" y="609.5" width="7" height="1" fill="#bf73f5"/>
<rect x="969.9" y="602.3" width="7" height="8.2" fill="#bf73f5"/>
<rect x="982.2" y="603.2" width="7" height="7.3" fill="#bf73f5"/>
<rect x="994.5" y="565" width="7" height="45.5" fill="#bf73f5"/>
<rect x="1006.8" y="549.1" width="7" height="61.4" fill="#bf73f5"/>
<rect x="1019" y="551" width="7" height="59.5" fill="#bf73f5"/>
<rect x="1031.3" y="607.3" width="7" height="3.2" fill="#bf73f5"/>
<rect x="1043.6" y="609.5" width="7" height="1" fill="#bf73f5"/>
<line x1="120.5" y1="547.5" x2="1090.5" y2="547.5" stroke="#a2a2a2" stroke-width="1" stroke-dasharray="4 2"/>
<line x1="120.5" y1="589.5" x2="1090.5" y2="589.5" stroke="#a2a2a2" stroke-width="1" stroke-dasharray="4 2"/>
<line x1="175.5" y1="525.5" x2="175.5" y2="610.5" stroke="#a2a2a2" stroke-width="1" stroke-dasharray="4 2"/>
<line x1="273.5" y1="525.5" x2="273.5" y2="610.5" stroke="#a2a2a2" stroke-width="1" stroke-dasharray="4 2"/>
<line x1="371.5" y1="525.5" x2="371.5" y2="610.5" stroke="#a2a2a2" stroke-width="1" stroke-dasharray="4 2"/>
<line x1="469.5" y1="525.5" x2="469.5" y2="610.5" stroke="#a2a2a2" stroke-width="1" stroke-dasharray="4 2"/>
<line x1="568.5" y1="525.5" x2="568.5" y2="610.5" stroke="#a2a2a2" stroke-width="1" stroke-dasharray="4 2"/>
<line x1="666.5" y1="525.5" x2="666.5" y2="610.5" stroke="#a2a2a2" stroke-width="1" stroke-dasharray="4 2"/>
<line x1="764.5" y1="525.5" x2="764.5" y2="610.5" stroke="#a2a2a2" stroke-width="1" stroke-dasharray="4 2"/>
<line x1="862.5" y1="525.5" x2="862.5" y2="610.5" stroke="#a2a2a2" stroke-width="1" stroke-dasharray="4 2"/>
<line x1="961.5" y1="525.5" x2="961.5" y2="610.5" stroke="#a2a2a2" stroke-width="1" stroke-dasharray="4 2"/>
<line x1="1059.5" y1="525.5" x2="1059.5" y2="610.5" stroke="#a2a2a2" stroke-width="1" stroke-dasharray="4 2"/>
<line x1="120.5" y1="568.5" x2="1090.5" y2="568.5" stroke="#f53030" stroke-width="1.2" stroke-dasharray="6 3"/>
<polyline points="126.1,557.4 138.4,567.6 150.7,577.8 162.9,594.2 175.2,592.8 187.5,574.6 199.8,569.2 212.1,570.5 224.3,575.5 236.6,571 248.9,570.3 261.2,571.5 273.5,575.5 285.7,576.5 298,579.6 309.1,610.4" fill="none" stroke="#f03838" stroke-width="1"/>
<polygon points="123.5,557.4 126.1,553.8 128.7,557.4 126.1,561" fill="none" stroke="#f03838" stroke-width="1"/>
<polygon points="135.8,567.6 138.4,564 141,567.6 138.4,571.2" fill="none" stroke="#f03838" stroke-width="1"/>
<polygon points="148.1,577.8 150.7,574.2 153.3,577.8 150.7,581.4" fill="none" stroke="#f03838" stroke-width="1"/>
<polygon points="160.3,594.2 162.9,590.6 165.5,594.2 162.9,597.8" fill="none" stroke="#f03838" stroke-width="1"/>
<polygon points="172.6,592.8 175.2,589.2 177.8,592.8 175.2,596.4" fill="none" stroke="#f03838" stroke-width="1"/>
<polygon points="184.9,574.6 187.5,571 190.1,574.6 187.5,578.2" fill="none" stroke="#f03838" stroke-width="1"/>
<polygon points="197.2,569.2 199.8,565.6 202.4,569.2 199.8,572.8" fill="none" stroke="#f03838" stroke-width="1"/>
<polygon points="209.5,570.5 212.1,566.9 214.7,570.5 212.1,574.1" fill="none" stroke="#f03838" stroke-width="1"/>
<polygon points="221.7,575.5 224.3,571.9 226.9,575.5 224.3,579.1" fill="none" stroke="#f03838" stroke-width="1"/>
<polygon points="234,571 236.6,567.4 239.2,571 236.6,574.6" fill="none" stroke="#f03838" stroke-width="1"/>
<polygon points="246.3,570.3 248.9,566.7 251.5,570.3 248.9,573.9" fill="none" stroke="#f03838" stroke-width="1"/>
<polygon points="258.6,571.5 261.2,567.9 263.8,571.5 261.2,575.1" fill="none" stroke="#f03838" stroke-width="1"/>
<polygon points="270.9,575.5 273.5,571.9 276.1,575.5 273.5,579.1" fill="none" stroke="#f03838" stroke-width="1"/>
<polygon points="283.1,576.5 285.7,572.9 288.3,576.5 285.7,580.1" fill="none" stroke="#f03838" stroke-width="1"/>
<polygon points="295.4,579.6 298,576 300.6,579.6 298,583.2" fill="none" stroke="#f03838" stroke-width="1"/>
<polyline points="617.3,605.5 629.6,603.3 632.7,610.4" fill="none" stroke="#f03838" stroke-width="1"/>
<polygon points="614.7,605.5 617.3,601.9 619.9,605.5 617.3,609.1" fill="none" stroke="#f03838" stroke-width="1"/>
<polygon points="627,603.3 629.6,599.7 632.2,603.3 629.6,606.9" fill="none" stroke="#f03838" stroke-width="1"/>
<polyline points="671.4,610.4 678.7,589.2 691,577.4 703.3,567.6 715.5,553.3 727.8,550.5 740.1,559.2 752.4,565.3 764.7,578.3 776.9,576.7 789.2,567.6 801.5,551.2 813.8,566.5 826.1,586.5 838.3,577.4 850.6,580.5 862.9,595.5 875.2,601 887.5,591.5 899.7,576.7 912,577.1 924.3,584.2 936.6,588.7 941.6,610.4" fill="none" stroke="#f03838" stroke-width="1"/>
<polygon points="676.1,589.2 678.7,585.6 681.3,589.2 678.7,592.8" fill="none" stroke="#f03838" stroke-width="1"/>
<polygon points="688.4,577.4 691,573.8 693.6,577.4 691,581" fill="none" stroke="#f03838" stroke-width="1"/>
<polygon points="700.7,567.6 703.3,564 705.9,567.6 703.3,571.2" fill="none" stroke="#f03838" stroke-width="1"/>
<polygon points="712.9,553.3 715.5,549.7 718.1,553.3 715.5,556.9" fill="none" stroke="#f03838" stroke-width="1"/>
<polygon points="725.2,550.5 727.8,546.9 730.4,550.5 727.8,554.1" fill="none" stroke="#f03838" stroke-width="1"/>
<polygon points="737.5,559.2 740.1,555.6 742.7,559.2 740.1,562.8" fill="none" stroke="#f03838" stroke-width="1"/>
<polygon points="749.8,565.3 752.4,561.7 755,565.3 752.4,568.9" fill="none" stroke="#f03838" stroke-width="1"/>
<polygon points="762.1,578.3 764.7,574.7 767.3,578.3 764.7,581.9" fill="none" stroke="#f03838" stroke-width="1"/>
<polygon points="774.3,576.7 776.9,573.1 779.5,576.7 776.9,580.3" fill="none" stroke="#f03838" stroke-width="1"/>
<polygon points="786.6,567.6 789.2,564 791.8,567.6 789.2,571.2" fill="none" stroke="#f03838" stroke-width="1"/>
<polygon points="798.9,551.2 801.5,547.6 804.1,551.2 801.5,554.8" fill="none" stroke="#f03838" stroke-width="1"/>
<polygon points="811.2,566.5 813.8,562.9 816.4,566.5 813.8,570.1" fill="none" stroke="#f03838" stroke-width="1"/>
<polygon points="823.5,586.5 826.1,582.9 828.7,586.5 826.1,590.1" fill="none" stroke="#f03838" stroke-width="1"/>
<polygon points="835.7,577.4 838.3,573.8 840.9,577.4 838.3,581" fill="none" stroke="#f03838" stroke-width="1"/>
<polygon points="848,580.5 850.6,576.9 853.2,580.5 850.6,584.1" fill="none" stroke="#f03838" stroke-width="1"/>
<polygon points="860.3,595.5 862.9,591.9 865.5,595.5 862.9,599.1" fill="none" stroke="#f03838" stroke-width="1"/>
<polygon points="872.6,601 875.2,597.4 877.8,601 875.2,604.6" fill="none" stroke="#f03838" stroke-width="1"/>
<polygon points="884.9,591.5 887.5,587.9 890.1,591.5 887.5,595.1" fill="none" stroke="#f03838" stroke-width="1"/>
<polygon points="897.1,576.7 899.7,573.1 902.3,576.7 899.7,580.3" fill="none" stroke="#f03838" stroke-width="1"/>
<polygon points="909.4,577.1 912,573.5 914.6,577.1 912,580.7" fill="none" stroke="#f03838" stroke-width="1"/>
<polygon points="921.7,584.2 924.3,580.6 926.9,584.2 924.3,587.8" fill="none" stroke="#f03838" stroke-width="1"/>
<polygon points="934,588.7 936.6,585.1 939.2,588.7 936.6,592.3" fill="none" stroke="#f03838" stroke-width="1"/>
<polyline points="955,610.4 961.1,585.8 973.4,571.5 985.7,571 998,559.6 1010.3,554.6 1022.5,554.6 1034.8,566.5 1047.1,574.9 1059.4,583.5 1071.7,587.4 1083.9,574.4 1090.3,567.1" fill="none" stroke="#f03838" stroke-width="1"/>
<polygon points="958.5,585.8 961.1,582.2 963.7,585.8 961.1,589.4" fill="none" stroke="#f03838" stroke-width="1"/>
<polygon points="970.8,571.5 973.4,567.9 976,571.5 973.4,575.1" fill="none" stroke="#f03838" stroke-width="1"/>
<polygon points="983.1,571 985.7,567.4 988.3,571 985.7,574.6" fill="none" stroke="#f03838" stroke-width="1"/>
<polygon points="995.4,559.6 998,556 1000.6,559.6 998,563.2" fill="none" stroke="#f03838" stroke-width="1"/>
<polygon points="1007.7,554.6 1010.3,551 1012.9,554.6 1010.3,558.2" fill="none" stroke="#f03838" stroke-width="1"/>
<polygon points="1019.9,554.6 1022.5,551 1025.1,554.6 1022.5,558.2" fill="none" stroke="#f03838" stroke-width="1"/>
<polygon points="1032.2,566.5 1034.8,562.9 1037.4,566.5 1034.8,570.1" fill="none" stroke="#f03838" stroke-width="1"/>
<polygon points="1044.5,574.9 1047.1,571.3 1049.7,574.9 1047.1,578.5" fill="none" stroke="#f03838" stroke-width="1"/>
<polygon points="1056.8,583.5 1059.4,579.9 1062,583.5 1059.4,587.1" fill="none" stroke="#f03838" stroke-width="1"/>
<polygon points="1069.1,587.4 1071.7,583.8 1074.3,587.4 1071.7,591" fill="none" stroke="#f03838" stroke-width="1"/>
<polygon points="1081.3,574.4 1083.9,570.8 1086.5,574.4 1083.9,578" fill="none" stroke="#f03838" stroke-width="1"/>
<rect x="120.5" y="525.5" width="970" height="85" fill="none" stroke="#000" stroke-width="1.25"/>
<line x1="116" y1="547.5" x2="120.5" y2="547.5" stroke="#000" stroke-width="1"/>
<text x="112.3" y="552" font-size="12.5" fill="#000" text-anchor="end" textLength="20" lengthAdjust="spacingAndGlyphs" stroke="#fff" stroke-width="0.2">447</text>
<line x1="116" y1="568.5" x2="120.5" y2="568.5" stroke="#000" stroke-width="1"/>
<text x="112.3" y="573" font-size="12.5" fill="#000" text-anchor="end" textLength="20" lengthAdjust="spacingAndGlyphs" stroke="#fff" stroke-width="0.2">298</text>
<line x1="116" y1="589.8" x2="120.5" y2="589.8" stroke="#000" stroke-width="1"/>
<text x="112.3" y="594.3" font-size="12.5" fill="#000" text-anchor="end" textLength="20" lengthAdjust="spacingAndGlyphs" stroke="#fff" stroke-width="0.2">149</text>
<line x1="50.4" y1="525.3" x2="50.4" y2="610.5" stroke="#000" stroke-width="1.3"/>
<line x1="46" y1="525.6" x2="50.4" y2="525.6" stroke="#000" stroke-width="1"/>
<text x="42" y="530.1" font-size="12.5" fill="#000" text-anchor="end" stroke="#fff" stroke-width="0.2">&#8722;6</text>
<line x1="46" y1="547.4" x2="50.4" y2="547.4" stroke="#000" stroke-width="1"/>
<text x="42" y="551.9" font-size="12.5" fill="#000" text-anchor="end" stroke="#fff" stroke-width="0.2">&#8722;3</text>
<line x1="46" y1="568.5" x2="50.4" y2="568.5" stroke="#000" stroke-width="1"/>
<text x="42" y="573" font-size="12.5" fill="#000" text-anchor="end" stroke="#fff" stroke-width="0.2">0</text>
<line x1="46" y1="589.8" x2="50.4" y2="589.8" stroke="#000" stroke-width="1"/>
<text x="42" y="594.3" font-size="12.5" fill="#000" text-anchor="end" stroke="#fff" stroke-width="0.2">3</text>
<line x1="46" y1="610.5" x2="50.4" y2="610.5" stroke="#000" stroke-width="1"/>
<text x="42" y="615" font-size="12.5" fill="#000" text-anchor="end" stroke="#fff" stroke-width="0.2">6</text>
<text x="23.3" y="609" font-size="16" fill="#f03838" transform="rotate(-90 23.3 609)" textLength="81.5" lengthAdjust="spacingAndGlyphs" stroke="#fff" stroke-width="0.2">Lifted Index</text>
<text x="84.6" y="611" font-size="16" fill="#bf73f5" transform="rotate(-90 84.6 611)" textLength="86" lengthAdjust="spacingAndGlyphs" stroke="#fff" stroke-width="0.2">CAPE (J/kg)</text>
<line x1="120.5" y1="624.5" x2="1090.5" y2="624.5" stroke="#a2a2a2" stroke-width="1" stroke-dasharray="4 2"/>
<line x1="120.5" y1="647.5" x2="1090.5" y2="647.5" stroke="#a2a2a2" stroke-width="1" stroke-dasharray="4 2"/>
<line x1="120.5" y1="670.5" x2="1090.5" y2="670.5" stroke="#a2a2a2" stroke-width="1" stroke-dasharray="4 2"/>
<line x1="120.5" y1="693.5" x2="1090.5" y2="693.5" stroke="#a2a2a2" stroke-width="1" stroke-dasharray="4 2"/>
<line x1="175.5" y1="610.5" x2="175.5" y2="695.5" stroke="#a2a2a2" stroke-width="1" stroke-dasharray="4 2"/>
<line x1="273.5" y1="610.5" x2="273.5" y2="695.5" stroke="#a2a2a2" stroke-width="1" stroke-dasharray="4 2"/>
<line x1="371.5" y1="610.5" x2="371.5" y2="695.5" stroke="#a2a2a2" stroke-width="1" stroke-dasharray="4 2"/>
<line x1="469.5" y1="610.5" x2="469.5" y2="695.5" stroke="#a2a2a2" stroke-width="1" stroke-dasharray="4 2"/>
<line x1="568.5" y1="610.5" x2="568.5" y2="695.5" stroke="#a2a2a2" stroke-width="1" stroke-dasharray="4 2"/>
<line x1="666.5" y1="610.5" x2="666.5" y2="695.5" stroke="#a2a2a2" stroke-width="1" stroke-dasharray="4 2"/>
<line x1="764.5" y1="610.5" x2="764.5" y2="695.5" stroke="#a2a2a2" stroke-width="1" stroke-dasharray="4 2"/>
<line x1="862.5" y1="610.5" x2="862.5" y2="695.5" stroke="#a2a2a2" stroke-width="1" stroke-dasharray="4 2"/>
<line x1="961.5" y1="610.5" x2="961.5" y2="695.5" stroke="#a2a2a2" stroke-width="1" stroke-dasharray="4 2"/>
<line x1="1059.5" y1="610.5" x2="1059.5" y2="695.5" stroke="#a2a2a2" stroke-width="1" stroke-dasharray="4 2"/>
<clipPath id="c3"><rect x="120.5" y="610.5" width="970.0" height="85.0"/></clipPath>
<g clip-path="url(#c3)">
<path d="M126.1,653 L100.1,653 M100.1,653 L95.8,663.7" stroke="#86694a" stroke-width="1" fill="none"/>
<path d="M138.4,653 L114.3,643.3 M114.3,643.3 L106.3,651.5" stroke="#86694a" stroke-width="1" fill="none"/>
<path d="M150.7,653 L125.9,645 M129.4,646.1 L125.7,650.5" stroke="#86694a" stroke-width="1" fill="none"/>
<path d="M162.9,653 L153.6,677.3 M154.9,673.9 L159.1,677.8" stroke="#86694a" stroke-width="1" fill="none"/>
<path d="M175.2,653 L177,627.1 M176.8,630.7 L171.6,628.1" stroke="#86694a" stroke-width="1" fill="none"/>
<path d="M187.5,653 L183.4,627.3 M184,630.9 L178.4,629.6" stroke="#86694a" stroke-width="1" fill="none"/>
<path d="M199.8,653 L200.7,627 M200.7,627 L190.2,622.3" stroke="#86694a" stroke-width="1" fill="none"/>
<path d="M212.1,653 L188.7,641.6 M191.9,643.2 L187.7,647" stroke="#86694a" stroke-width="1" fill="none"/>
<path d="M224.3,653 L203.9,669 M203.9,669 L207,680.1" stroke="#86694a" stroke-width="1" fill="none"/>
<path d="M236.6,653 L223.2,675.3 M223.2,675.3 L230.1,684.5" stroke="#86694a" stroke-width="1" fill="none"/>
<path d="M248.9,653 L234.4,674.6 M234.4,674.6 L240.8,684.1" stroke="#86694a" stroke-width="1" fill="none"/>
<path d="M261.2,653 L286.3,646.3 M282.8,647.2 L283.5,641.5" stroke="#86694a" stroke-width="1" fill="none"/>
<path d="M273.5,653 L273.5,627 M273.5,630.6 L268.1,628.4" stroke="#86694a" stroke-width="1" fill="none"/>
<path d="M285.7,653 L295.5,628.9 M295.5,628.9 L287.2,620.9" stroke="#86694a" stroke-width="1" fill="none"/>
<path d="M298,653 L273,645.8 M276.5,646.8 L272.9,651.4" stroke="#86694a" stroke-width="1" fill="none"/>
<path d="M310.3,653 L288.5,667.2 M288.5,667.2 L290.7,678.4" stroke="#86694a" stroke-width="1" fill="none"/>
<path d="M322.6,653 L300.1,666 M300.1,666 L301.7,677.4" stroke="#86694a" stroke-width="1" fill="none"/>
<path d="M334.9,653 L313.1,667.2 M316.1,665.2 L317.2,670.8" stroke="#86694a" stroke-width="1" fill="none"/>
<path d="M347.1,653 L331.5,673.8 M333.7,670.9 L336.6,675.8" stroke="#86694a" stroke-width="1" fill="none"/>
<path d="M359.4,653 L345.3,674.8 M347.2,671.8 L350.5,676.5" stroke="#86694a" stroke-width="1" fill="none"/>
<path d="M371.7,653 L356.1,673.8 M358.2,670.9 L361.2,675.8" stroke="#86694a" stroke-width="1" fill="none"/>
<path d="M384,653 L373.8,676.9 M375.2,673.6 L379.3,677.7" stroke="#86694a" stroke-width="1" fill="none"/>
<path d="M396.3,653 L410.4,674.8" stroke="#86694a" stroke-width="1" fill="none"/>
<path d="M408.5,653 L398,676.8" stroke="#86694a" stroke-width="1" fill="none"/>
<path d="M420.8,653 L395.6,659.3 M399.1,658.4 L398.3,664.1" stroke="#86694a" stroke-width="1" fill="none"/>
<path d="M433.1,653 L410.1,665.2 M413.3,663.5 L413.9,669.2" stroke="#86694a" stroke-width="1" fill="none"/>
<path d="M445.4,653 L437.3,677.7 M438.5,674.3 L442.9,678" stroke="#86694a" stroke-width="1" fill="none"/>
<path d="M457.7,653 L454.9,678.9 M455.3,675.3 L460.4,678" stroke="#86694a" stroke-width="1" fill="none"/>
<path d="M469.9,653 L455,674.3 M457.1,671.3 L460.2,676.2" stroke="#86694a" stroke-width="1" fill="none"/>
<path d="M482.2,653 L464.8,672.3 M467.2,669.6 L469.8,674.8" stroke="#86694a" stroke-width="1" fill="none"/>
<path d="M494.5,653 L477.4,672.6 M479.8,669.9 L482.4,675" stroke="#86694a" stroke-width="1" fill="none"/>
<path d="M506.8,653 L482.5,662.3 M485.9,661 L485.8,666.8" stroke="#86694a" stroke-width="1" fill="none"/>
<path d="M519.1,653 L493.9,659.7 M497.4,658.8 L496.7,664.5" stroke="#86694a" stroke-width="1" fill="none"/>
<path d="M531.3,653 L511.7,670.1 M514.4,667.7 L516.3,673.1" stroke="#86694a" stroke-width="1" fill="none"/>
<path d="M543.6,653 L541.8,678.9 M542.1,675.3 L547.2,677.9" stroke="#86694a" stroke-width="1" fill="none"/>
<path d="M555.9,653 L566.5,676.8 M565,673.5 L570.8,673.3" stroke="#86694a" stroke-width="1" fill="none"/>
<path d="M568.2,653 L580.4,676 M578.7,672.8 L584.4,672.2" stroke="#86694a" stroke-width="1" fill="none"/>
<path d="M580.5,653 L602.3,667.2 M599.2,665.2 L604,661.9" stroke="#86694a" stroke-width="1" fill="none"/>
<path d="M592.7,653 L616.3,642 M613,643.5 L612.7,637.8" stroke="#86694a" stroke-width="1" fill="none"/>
<path d="M605,653 L610.4,627.6 M609.7,631.1 L604.9,627.9" stroke="#86694a" stroke-width="1" fill="none"/>
<path d="M617.3,653 L596.3,637.7 M599.2,639.8 L594.3,642.9" stroke="#86694a" stroke-width="1" fill="none"/>
<path d="M629.6,653 L625.1,678.6" stroke="#86694a" stroke-width="1" fill="none"/>
<path d="M641.9,653 L659.6,672 M657.1,669.4 L662.5,667.3" stroke="#86694a" stroke-width="1" fill="none"/>
<path d="M654.1,653 L679.7,657.5 M676.2,656.9 L679.2,652" stroke="#86694a" stroke-width="1" fill="none"/>
<path d="M666.4,653 L686,635.9 M683.3,638.3 L681.5,632.9" stroke="#86694a" stroke-width="1" fill="none"/>
<path d="M678.7,653 L684.5,627.7 M684.5,627.7 L675.1,621.1" stroke="#86694a" stroke-width="1" fill="none"/>
<path d="M691,653 L687.4,627.3 M687.4,627.3 L676.2,624.5" stroke="#86694a" stroke-width="1" fill="none"/>
<path d="M703.3,653 L688,632 M688,632 L676.8,634.7" stroke="#86694a" stroke-width="1" fill="none"/>
<path d="M715.5,653 L697.8,634 M700.3,636.6 L694.9,638.7" stroke="#86694a" stroke-width="1" fill="none"/>
<path d="M727.8,653 L707.6,636.6 M707.6,636.6 L697.6,642.2 M710.4,638.9 L705.4,641.7" stroke="#86694a" stroke-width="1" fill="none"/>
<path d="M740.1,653 L732.5,628.1 M732.5,628.1 L721,627.1" stroke="#86694a" stroke-width="1" fill="none"/>
<path d="M752.4,653 L778.3,651.6" stroke="#86694a" stroke-width="1" fill="none"/>
<path d="M764.7,653 L767.4,627.1 M767,630.7 L761.9,628" stroke="#86694a" stroke-width="1" fill="none"/>
<path d="M776.9,653 L776.9,627 M776.9,630.6 L771.6,628.4" stroke="#86694a" stroke-width="1" fill="none"/>
<path d="M789.2,653 L777,630 M777,630 L765.6,631.2" stroke="#86694a" stroke-width="1" fill="none"/>
<path d="M801.5,653 L777.9,642 M777.9,642 L769.5,649.9" stroke="#86694a" stroke-width="1" fill="none"/>
<path d="M813.8,653 L789.1,661 M789.1,661 L788.3,672.5" stroke="#86694a" stroke-width="1" fill="none"/>
<path d="M826.1,653 L841.7,673.8" stroke="#86694a" stroke-width="1" fill="none"/>
<path d="M838.3,653 L823.8,631.4 M825.8,634.4 L820.2,635.6" stroke="#86694a" stroke-width="1" fill="none"/>
<path d="M850.6,653 L839.2,629.6 M840.8,632.9 L835.1,633.3" stroke="#86694a" stroke-width="1" fill="none"/>
<path d="M862.9,653 L840.9,639.2 M843.9,641.1 L839.3,644.5" stroke="#86694a" stroke-width="1" fill="none"/>
<path d="M875.2,653 L851.6,664 M854.9,662.5 L855.2,668.2" stroke="#86694a" stroke-width="1" fill="none"/>
<path d="M887.5,653 L878.6,677.4" stroke="#86694a" stroke-width="1" fill="none"/>
<path d="M899.7,653 L918.1,634.6" stroke="#86694a" stroke-width="1" fill="none"/>
<path d="M912,653 L935,665.2 M931.8,663.5 L936.2,659.8" stroke="#86694a" stroke-width="1" fill="none"/>
<path d="M924.3,653 L939.9,673.8 M937.8,670.9 L943.3,669.4" stroke="#86694a" stroke-width="1" fill="none"/>
<path d="M936.6,653 L957.9,667.9 M954.9,665.8 L959.8,662.7" stroke="#86694a" stroke-width="1" fill="none"/>
<path d="M948.9,653 L974.2,658.8 M974.2,658.8 L980.8,649.4" stroke="#86694a" stroke-width="1" fill="none"/>
<path d="M961.1,653 L973.7,630.3 M972,633.4 L968.4,628.9" stroke="#86694a" stroke-width="1" fill="none"/>
<path d="M973.4,653 L988.3,631.7 M986.3,634.7 L983.1,629.8" stroke="#86694a" stroke-width="1" fill="none"/>
<path d="M985.7,653 L992.4,627.9 M992.4,627.9 L983.2,621" stroke="#86694a" stroke-width="1" fill="none"/>
<path d="M998,653 L993.5,627.4 M993.5,627.4 L982.2,625" stroke="#86694a" stroke-width="1" fill="none"/>
<path d="M1010.3,653 L1024.4,631.2 M1024.4,631.2 L1017.8,621.8" stroke="#86694a" stroke-width="1" fill="none"/>
<path d="M1022.5,653 L1016.7,627.7 M1016.7,627.7 L1005.3,625.9" stroke="#86694a" stroke-width="1" fill="none"/>
<path d="M1034.8,653 L1034.8,627 M1034.8,627 L1024.2,622.7" stroke="#86694a" stroke-width="1" fill="none"/>
<path d="M1047.1,653 L1048.5,627 M1048.5,627 L1038,622.2" stroke="#86694a" stroke-width="1" fill="none"/>
<path d="M1059.4,653 L1058.9,627 M1058.9,627 L1048.2,622.9" stroke="#86694a" stroke-width="1" fill="none"/>
<path d="M1071.7,653 L1074.8,627.2 M1074.4,630.8 L1069.4,628" stroke="#86694a" stroke-width="1" fill="none"/>
<path d="M1083.9,653 L1078.1,627.7 M1078.9,631.2 L1073.2,630.3" stroke="#86694a" stroke-width="1" fill="none"/>
<path d="M1096.2,653 L1091.7,627.4 M1092.3,630.9 L1086.7,629.7" stroke="#86694a" stroke-width="1" fill="none"/>
<polyline points="126.1,645.1 138.4,648 150.7,673.5 162.9,680.5 175.2,668 187.5,662.8 199.8,651.5 212.1,675.3 224.3,643.5 236.6,637.4 248.9,656 261.2,679.2 273.5,676 285.7,658.7 298,660.1 310.3,658.7 322.6,656.5 334.9,661 347.1,671 359.4,672.6 371.7,673.5 384,674.2 396.3,685.4 408.5,685.4 420.8,681.3 433.1,671.2 445.4,675.6 457.7,678.9 469.9,681.3 482.2,681.3 494.5,680.1 506.8,676.6 519.1,672.4 531.3,667.1 543.6,670.6 555.9,677.4 568.2,680.1 580.5,676.6 592.7,678.6 605,671.5 617.3,677.7 629.6,684.8 641.9,668.9 654.1,674.8 666.4,667.7 678.7,651.7 691,651.5 703.3,651.5 715.5,664.5 727.8,616.5 740.1,653.9 752.4,688.4 764.7,663.6 776.9,664.1 789.2,657.6 801.5,645.6 813.8,647.4 826.1,683.3 838.3,664.5 850.6,676.6 862.9,676.6 875.2,680.7 887.5,689.6 899.7,683.7 912,680.7 924.3,665.3 936.6,665.9 948.9,656.5 961.1,678.9 973.4,661.8 985.7,654.5 998,653.9 1010.3,656.5 1022.5,657.9 1034.8,646.8 1047.1,650 1059.4,653.5 1071.7,660 1083.9,659.8 1096.2,663.6" fill="none" stroke="#ff8a12" stroke-width="1.1"/>
<polygon points="123.5,645.1 126.1,641.3 128.7,645.1 126.1,648.9" fill="none" stroke="#ff8a12" stroke-width="1"/>
<polygon points="135.8,648 138.4,644.2 141,648 138.4,651.8" fill="none" stroke="#ff8a12" stroke-width="1"/>
<polygon points="148.1,673.5 150.7,669.7 153.3,673.5 150.7,677.3" fill="none" stroke="#ff8a12" stroke-width="1"/>
<polygon points="160.3,680.5 162.9,676.7 165.5,680.5 162.9,684.3" fill="none" stroke="#ff8a12" stroke-width="1"/>
<polygon points="172.6,668 175.2,664.2 177.8,668 175.2,671.8" fill="none" stroke="#ff8a12" stroke-width="1"/>
<polygon points="184.9,662.8 187.5,659 190.1,662.8 187.5,666.6" fill="none" stroke="#ff8a12" stroke-width="1"/>
<polygon points="197.2,651.5 199.8,647.7 202.4,651.5 199.8,655.3" fill="none" stroke="#ff8a12" stroke-width="1"/>
<polygon points="209.5,675.3 212.1,671.5 214.7,675.3 212.1,679.1" fill="none" stroke="#ff8a12" stroke-width="1"/>
<polygon points="221.7,643.5 224.3,639.7 226.9,643.5 224.3,647.3" fill="none" stroke="#ff8a12" stroke-width="1"/>
<polygon points="234,637.4 236.6,633.6 239.2,637.4 236.6,641.2" fill="none" stroke="#ff8a12" stroke-width="1"/>
<polygon points="246.3,656 248.9,652.2 251.5,656 248.9,659.8" fill="none" stroke="#ff8a12" stroke-width="1"/>
<polygon points="258.6,679.2 261.2,675.4 263.8,679.2 261.2,683" fill="none" stroke="#ff8a12" stroke-width="1"/>
<polygon points="270.9,676 273.5,672.2 276.1,676 273.5,679.8" fill="none" stroke="#ff8a12" stroke-width="1"/>
<polygon points="283.1,658.7 285.7,654.9 288.3,658.7 285.7,662.5" fill="none" stroke="#ff8a12" stroke-width="1"/>
<polygon points="295.4,660.1 298,656.3 300.6,660.1 298,663.9" fill="none" stroke="#ff8a12" stroke-width="1"/>
<polygon points="307.7,658.7 310.3,654.9 312.9,658.7 310.3,662.5" fill="none" stroke="#ff8a12" stroke-width="1"/>
<polygon points="320,656.5 322.6,652.7 325.2,656.5 322.6,660.3" fill="none" stroke="#ff8a12" stroke-width="1"/>
<polygon points="332.3,661 334.9,657.2 337.5,661 334.9,664.8" fill="none" stroke="#ff8a12" stroke-width="1"/>
<polygon points="344.5,671 347.1,667.2 349.7,671 347.1,674.8" fill="none" stroke="#ff8a12" stroke-width="1"/>
<polygon points="356.8,672.6 359.4,668.8 362,672.6 359.4,676.4" fill="none" stroke="#ff8a12" stroke-width="1"/>
<polygon points="369.1,673.5 371.7,669.7 374.3,673.5 371.7,677.3" fill="none" stroke="#ff8a12" stroke-width="1"/>
<polygon points="381.4,674.2 384,670.4 386.6,674.2 384,678" fill="none" stroke="#ff8a12" stroke-width="1"/>
<polygon points="393.7,685.4 396.3,681.6 398.9,685.4 396.3,689.2" fill="none" stroke="#ff8a12" stroke-width="1"/>
<polygon points="405.9,685.4 408.5,681.6 411.1,685.4 408.5,689.2" fill="none" stroke="#ff8a12" stroke-width="1"/>
<polygon points="418.2,681.3 420.8,677.5 423.4,681.3 420.8,685.1" fill="none" stroke="#ff8a12" stroke-width="1"/>
<polygon points="430.5,671.2 433.1,667.4 435.7,671.2 433.1,675" fill="none" stroke="#ff8a12" stroke-width="1"/>
<polygon points="442.8,675.6 445.4,671.8 448,675.6 445.4,679.4" fill="none" stroke="#ff8a12" stroke-width="1"/>
<polygon points="455.1,678.9 457.7,675.1 460.3,678.9 457.7,682.7" fill="none" stroke="#ff8a12" stroke-width="1"/>
<polygon points="467.3,681.3 469.9,677.5 472.5,681.3 469.9,685.1" fill="none" stroke="#ff8a12" stroke-width="1"/>
<polygon points="479.6,681.3 482.2,677.5 484.8,681.3 482.2,685.1" fill="none" stroke="#ff8a12" stroke-width="1"/>
<polygon points="491.9,680.1 494.5,676.3 497.1,680.1 494.5,683.9" fill="none" stroke="#ff8a12" stroke-width="1"/>
<polygon points="504.2,676.6 506.8,672.8 509.4,676.6 506.8,680.4" fill="none" stroke="#ff8a12" stroke-width="1"/>
<polygon points="516.5,672.4 519.1,668.6 521.7,672.4 519.1,676.2" fill="none" stroke="#ff8a12" stroke-width="1"/>
<polygon points="528.7,667.1 531.3,663.3 533.9,667.1 531.3,670.9" fill="none" stroke="#ff8a12" stroke-width="1"/>
<polygon points="541,670.6 543.6,666.8 546.2,670.6 543.6,674.4" fill="none" stroke="#ff8a12" stroke-width="1"/>
<polygon points="553.3,677.4 555.9,673.6 558.5,677.4 555.9,681.2" fill="none" stroke="#ff8a12" stroke-width="1"/>
<polygon points="565.6,680.1 568.2,676.3 570.8,680.1 568.2,683.9" fill="none" stroke="#ff8a12" stroke-width="1"/>
<polygon points="577.9,676.6 580.5,672.8 583.1,676.6 580.5,680.4" fill="none" stroke="#ff8a12" stroke-width="1"/>
<polygon points="590.1,678.6 592.7,674.8 595.3,678.6 592.7,682.4" fill="none" stroke="#ff8a12" stroke-width="1"/>
<polygon points="602.4,671.5 605,667.7 607.6,671.5 605,675.3" fill="none" stroke="#ff8a12" stroke-width="1"/>
<polygon points="614.7,677.7 617.3,673.9 619.9,677.7 617.3,681.5" fill="none" stroke="#ff8a12" stroke-width="1"/>
<polygon points="627,684.8 629.6,681 632.2,684.8 629.6,688.6" fill="none" stroke="#ff8a12" stroke-width="1"/>
<polygon points="639.3,668.9 641.9,665.1 644.5,668.9 641.9,672.7" fill="none" stroke="#ff8a12" stroke-width="1"/>
<polygon points="651.5,674.8 654.1,671 656.7,674.8 654.1,678.6" fill="none" stroke="#ff8a12" stroke-width="1"/>
<polygon points="663.8,667.7 666.4,663.9 669,667.7 666.4,671.5" fill="none" stroke="#ff8a12" stroke-width="1"/>
<polygon points="676.1,651.7 678.7,647.9 681.3,651.7 678.7,655.5" fill="none" stroke="#ff8a12" stroke-width="1"/>
<polygon points="688.4,651.5 691,647.7 693.6,651.5 691,655.3" fill="none" stroke="#ff8a12" stroke-width="1"/>
<polygon points="700.7,651.5 703.3,647.7 705.9,651.5 703.3,655.3" fill="none" stroke="#ff8a12" stroke-width="1"/>
<polygon points="712.9,664.5 715.5,660.7 718.1,664.5 715.5,668.3" fill="none" stroke="#ff8a12" stroke-width="1"/>
<polygon points="725.2,616.5 727.8,612.7 730.4,616.5 727.8,620.3" fill="none" stroke="#ff8a12" stroke-width="1"/>
<polygon points="737.5,653.9 740.1,650.1 742.7,653.9 740.1,657.7" fill="none" stroke="#ff8a12" stroke-width="1"/>
<polygon points="749.8,688.4 752.4,684.6 755,688.4 752.4,692.2" fill="none" stroke="#ff8a12" stroke-width="1"/>
<polygon points="762.1,663.6 764.7,659.8 767.3,663.6 764.7,667.4" fill="none" stroke="#ff8a12" stroke-width="1"/>
<polygon points="774.3,664.1 776.9,660.3 779.5,664.1 776.9,667.9" fill="none" stroke="#ff8a12" stroke-width="1"/>
<polygon points="786.6,657.6 789.2,653.8 791.8,657.6 789.2,661.4" fill="none" stroke="#ff8a12" stroke-width="1"/>
<polygon points="798.9,645.6 801.5,641.8 804.1,645.6 801.5,649.4" fill="none" stroke="#ff8a12" stroke-width="1"/>
<polygon points="811.2,647.4 813.8,643.6 816.4,647.4 813.8,651.2" fill="none" stroke="#ff8a12" stroke-width="1"/>
<polygon points="823.5,683.3 826.1,679.5 828.7,683.3 826.1,687.1" fill="none" stroke="#ff8a12" stroke-width="1"/>
<polygon points="835.7,664.5 838.3,660.7 840.9,664.5 838.3,668.3" fill="none" stroke="#ff8a12" stroke-width="1"/>
<polygon points="848,676.6 850.6,672.8 853.2,676.6 850.6,680.4" fill="none" stroke="#ff8a12" stroke-width="1"/>
<polygon points="860.3,676.6 862.9,672.8 865.5,676.6 862.9,680.4" fill="none" stroke="#ff8a12" stroke-width="1"/>
<polygon points="872.6,680.7 875.2,676.9 877.8,680.7 875.2,684.5" fill="none" stroke="#ff8a12" stroke-width="1"/>
<polygon points="884.9,689.6 887.5,685.8 890.1,689.6 887.5,693.4" fill="none" stroke="#ff8a12" stroke-width="1"/>
<polygon points="897.1,683.7 899.7,679.9 902.3,683.7 899.7,687.5" fill="none" stroke="#ff8a12" stroke-width="1"/>
<polygon points="909.4,680.7 912,676.9 914.6,680.7 912,684.5" fill="none" stroke="#ff8a12" stroke-width="1"/>
<polygon points="921.7,665.3 924.3,661.5 926.9,665.3 924.3,669.1" fill="none" stroke="#ff8a12" stroke-width="1"/>
<polygon points="934,665.9 936.6,662.1 939.2,665.9 936.6,669.7" fill="none" stroke="#ff8a12" stroke-width="1"/>
<polygon points="946.3,656.5 948.9,652.7 951.5,656.5 948.9,660.3" fill="none" stroke="#ff8a12" stroke-width="1"/>
<polygon points="958.5,678.9 961.1,675.1 963.7,678.9 961.1,682.7" fill="none" stroke="#ff8a12" stroke-width="1"/>
<polygon points="970.8,661.8 973.4,658 976,661.8 973.4,665.6" fill="none" stroke="#ff8a12" stroke-width="1"/>
<polygon points="983.1,654.5 985.7,650.7 988.3,654.5 985.7,658.3" fill="none" stroke="#ff8a12" stroke-width="1"/>
<polygon points="995.4,653.9 998,650.1 1000.6,653.9 998,657.7" fill="none" stroke="#ff8a12" stroke-width="1"/>
<polygon points="1007.7,656.5 1010.3,652.7 1012.9,656.5 1010.3,660.3" fill="none" stroke="#ff8a12" stroke-width="1"/>
<polygon points="1019.9,657.9 1022.5,654.1 1025.1,657.9 1022.5,661.7" fill="none" stroke="#ff8a12" stroke-width="1"/>
<polygon points="1032.2,646.8 1034.8,643 1037.4,646.8 1034.8,650.6" fill="none" stroke="#ff8a12" stroke-width="1"/>
<polygon points="1044.5,650 1047.1,646.2 1049.7,650 1047.1,653.8" fill="none" stroke="#ff8a12" stroke-width="1"/>
<polygon points="1056.8,653.5 1059.4,649.7 1062,653.5 1059.4,657.3" fill="none" stroke="#ff8a12" stroke-width="1"/>
<polygon points="1069.1,660 1071.7,656.2 1074.3,660 1071.7,663.8" fill="none" stroke="#ff8a12" stroke-width="1"/>
<polygon points="1081.3,659.8 1083.9,656 1086.5,659.8 1083.9,663.6" fill="none" stroke="#ff8a12" stroke-width="1"/>
</g>
<rect x="120.5" y="610.5" width="970" height="85" fill="none" stroke="#000" stroke-width="1.25"/>
<line x1="116" y1="624.4" x2="120.5" y2="624.4" stroke="#000" stroke-width="1"/>
<text x="112.5" y="629.1" font-size="13.5" fill="#000" text-anchor="end" stroke="#fff" stroke-width="0.2">15</text>
<line x1="116" y1="647.4" x2="120.5" y2="647.4" stroke="#000" stroke-width="1"/>
<text x="112.5" y="652.1" font-size="13.5" fill="#000" text-anchor="end" stroke="#fff" stroke-width="0.2">10</text>
<line x1="116" y1="670.3" x2="120.5" y2="670.3" stroke="#000" stroke-width="1"/>
<text x="112.5" y="675" font-size="13.5" fill="#000" text-anchor="end" stroke="#fff" stroke-width="0.2">5</text>
<line x1="116" y1="693.3" x2="120.5" y2="693.3" stroke="#000" stroke-width="1"/>
<text x="112.5" y="698" font-size="13.5" fill="#000" text-anchor="end" stroke="#fff" stroke-width="0.2">0</text>
<text x="23" y="690" font-size="16" fill="#ff8a12" transform="rotate(-90 23 690)" textLength="77" lengthAdjust="spacingAndGlyphs" stroke="#fff" stroke-width="0.2">10m Wind</text>
<text x="43" y="674" font-size="16" fill="#ff8a12" transform="rotate(-90 43 674)" textLength="45" lengthAdjust="spacingAndGlyphs" stroke="#fff" stroke-width="0.2">Speed</text>
<text x="62" y="692" font-size="16" fill="#86694a" transform="rotate(-90 62 692)" textLength="66" lengthAdjust="spacingAndGlyphs" stroke="#fff" stroke-width="0.2">&amp; Barbs</text>
<text x="84" y="676" font-size="16" fill="#000" transform="rotate(-90 84 676)" textLength="43" lengthAdjust="spacingAndGlyphs" stroke="#fff" stroke-width="0.2">(m/s)</text>
<clipPath id="ct"><path d="M126.1,702.4 L138.4,705.8 L150.7,711.9 L162.9,715.5 L175.2,719.4 L187.5,722.8 L199.8,719.4 L212.1,712.6 L224.3,713 L236.6,712.1 L248.9,719.9 L261.2,721.7 L273.5,723.3 L285.7,726.2 L298,721.7 L310.3,717.8 L322.6,714.4 L334.9,715.3 L347.1,721.7 L359.4,725.5 L371.7,729.6 L384,733 L396.3,727.4 L408.5,719.4 L420.8,713 L433.1,713 L445.4,718.3 L457.7,722.4 L469.9,725.5 L482.2,727.4 L494.5,721.7 L506.8,714.4 L519.1,708.7 L531.3,708.7 L543.6,716 L555.9,721 L568.2,723.3 L580.5,726.9 L592.7,718.3 L605,710.3 L617.3,705.1 L629.6,705.8 L641.9,713.7 L654.1,717.8 L666.4,722.1 L678.7,725.1 L691,718.7 L703.3,705.8 L715.5,701.9 L727.8,712.6 L740.1,718.7 L752.4,715.5 L764.7,720.5 L776.9,722.8 L789.2,717.8 L801.5,708 L813.8,711.9 L826.1,716 L838.3,719.4 L850.6,722.4 L862.9,725.5 L875.2,726.9 L887.5,723.3 L899.7,717.1 L912,711.5 L924.3,711.5 L936.6,716 L948.9,721.7 L961.1,724 L973.4,725.1 L985.7,720.1 L998,713.3 L1010.3,711.9 L1022.5,715.5 L1034.8,719.4 L1047.1,723.5 L1059.4,726.2 L1071.7,727.8 L1083.9,724.6 L1083.9,779.5 L126.1,779.5 Z"/></clipPath>
<g clip-path="url(#ct)">
<rect x="126.1" y="771.2" width="957.8" height="9.3" fill="#8f7f9a"/>
<rect x="126.1" y="765.2" width="957.8" height="6.1" fill="#7a55c8"/>
<rect x="126.1" y="759.1" width="957.8" height="6.1" fill="#a273f2"/>
<rect x="126.1" y="753" width="957.8" height="6.1" fill="#d3a4f8"/>
<rect x="126.1" y="747" width="957.8" height="6.1" fill="#93d2f7"/>
<rect x="126.1" y="740.9" width="957.8" height="6.1" fill="#50a2f0"/>
<rect x="126.1" y="734.9" width="957.8" height="6.1" fill="#2c80e2"/>
<rect x="126.1" y="728.8" width="957.8" height="6.1" fill="#28b82e"/>
<rect x="126.1" y="722.8" width="957.8" height="6.1" fill="#60e85c"/>
<rect x="126.1" y="716.7" width="957.8" height="6.1" fill="#f6f87c"/>
<rect x="126.1" y="710.6" width="957.8" height="6.1" fill="#ffb545"/>
<rect x="126.1" y="704.6" width="957.8" height="6.1" fill="#ff7805"/>
<rect x="126.1" y="695.5" width="957.8" height="9.1" fill="#f04010"/>
</g>
<line x1="120.5" y1="704.5" x2="1090.5" y2="704.5" stroke="#a2a2a2" stroke-width="1" stroke-dasharray="4 2"/>
<line x1="120.5" y1="716.5" x2="1090.5" y2="716.5" stroke="#a2a2a2" stroke-width="1" stroke-dasharray="4 2"/>
<line x1="120.5" y1="728.5" x2="1090.5" y2="728.5" stroke="#a2a2a2" stroke-width="1" stroke-dasharray="4 2"/>
<line x1="120.5" y1="740.5" x2="1090.5" y2="740.5" stroke="#a2a2a2" stroke-width="1" stroke-dasharray="4 2"/>
<line x1="120.5" y1="765.5" x2="1090.5" y2="765.5" stroke="#a2a2a2" stroke-width="1" stroke-dasharray="4 2"/>
<line x1="120.5" y1="777.5" x2="1090.5" y2="777.5" stroke="#a2a2a2" stroke-width="1" stroke-dasharray="4 2"/>
<line x1="175.5" y1="695.5" x2="175.5" y2="780.5" stroke="#a2a2a2" stroke-width="1" stroke-dasharray="4 2"/>
<line x1="273.5" y1="695.5" x2="273.5" y2="780.5" stroke="#a2a2a2" stroke-width="1" stroke-dasharray="4 2"/>
<line x1="371.5" y1="695.5" x2="371.5" y2="780.5" stroke="#a2a2a2" stroke-width="1" stroke-dasharray="4 2"/>
<line x1="469.5" y1="695.5" x2="469.5" y2="780.5" stroke="#a2a2a2" stroke-width="1" stroke-dasharray="4 2"/>
<line x1="568.5" y1="695.5" x2="568.5" y2="780.5" stroke="#a2a2a2" stroke-width="1" stroke-dasharray="4 2"/>
<line x1="666.5" y1="695.5" x2="666.5" y2="780.5" stroke="#a2a2a2" stroke-width="1" stroke-dasharray="4 2"/>
<line x1="764.5" y1="695.5" x2="764.5" y2="780.5" stroke="#a2a2a2" stroke-width="1" stroke-dasharray="4 2"/>
<line x1="862.5" y1="695.5" x2="862.5" y2="780.5" stroke="#a2a2a2" stroke-width="1" stroke-dasharray="4 2"/>
<line x1="961.5" y1="695.5" x2="961.5" y2="780.5" stroke="#a2a2a2" stroke-width="1" stroke-dasharray="4 2"/>
<line x1="1059.5" y1="695.5" x2="1059.5" y2="780.5" stroke="#a2a2a2" stroke-width="1" stroke-dasharray="4 2"/>
<line x1="120.5" y1="753" x2="1090.5" y2="753" stroke="#000" stroke-width="1.5" stroke-dasharray="10 2.5 2.5 2.5"/>
<line x1="150.7" y1="703.5" x2="150.7" y2="711.9" stroke="#7a3a34" stroke-width="1"/>
<line x1="148.2" y1="703.5" x2="153.2" y2="703.5" stroke="#7a3a34" stroke-width="1"/>
<line x1="175.2" y1="712.6" x2="175.2" y2="719.4" stroke="#7a3a34" stroke-width="1"/>
<line x1="172.7" y1="712.6" x2="177.7" y2="712.6" stroke="#7a3a34" stroke-width="1"/>
<line x1="199.8" y1="719.4" x2="199.8" y2="724.4" stroke="#7a3a34" stroke-width="1"/>
<line x1="197.3" y1="724.4" x2="202.3" y2="724.4" stroke="#7a3a34" stroke-width="1"/>
<line x1="224.3" y1="708.5" x2="224.3" y2="720.5" stroke="#7a3a34" stroke-width="1"/>
<line x1="221.8" y1="708.5" x2="226.8" y2="708.5" stroke="#7a3a34" stroke-width="1"/>
<line x1="221.8" y1="720.5" x2="226.8" y2="720.5" stroke="#7a3a34" stroke-width="1"/>
<line x1="248.9" y1="710.3" x2="248.9" y2="719.9" stroke="#7a3a34" stroke-width="1"/>
<line x1="246.4" y1="710.3" x2="251.4" y2="710.3" stroke="#7a3a34" stroke-width="1"/>
<line x1="273.5" y1="720.5" x2="273.5" y2="723.3" stroke="#7a3a34" stroke-width="1"/>
<line x1="271" y1="720.5" x2="276" y2="720.5" stroke="#7a3a34" stroke-width="1"/>
<line x1="298" y1="721.7" x2="298" y2="726.2" stroke="#7a3a34" stroke-width="1"/>
<line x1="295.5" y1="726.2" x2="300.5" y2="726.2" stroke="#7a3a34" stroke-width="1"/>
<line x1="322.6" y1="714.4" x2="322.6" y2="723.3" stroke="#7a3a34" stroke-width="1"/>
<line x1="320.1" y1="723.3" x2="325.1" y2="723.3" stroke="#7a3a34" stroke-width="1"/>
<line x1="347.1" y1="714.4" x2="347.1" y2="721.7" stroke="#7a3a34" stroke-width="1"/>
<line x1="344.6" y1="714.4" x2="349.6" y2="714.4" stroke="#7a3a34" stroke-width="1"/>
<line x1="371.7" y1="723.5" x2="371.7" y2="729.6" stroke="#7a3a34" stroke-width="1"/>
<line x1="369.2" y1="723.5" x2="374.2" y2="723.5" stroke="#7a3a34" stroke-width="1"/>
<line x1="396.3" y1="727.4" x2="396.3" y2="734.2" stroke="#7a3a34" stroke-width="1"/>
<line x1="393.8" y1="734.2" x2="398.8" y2="734.2" stroke="#7a3a34" stroke-width="1"/>
<line x1="420.8" y1="713" x2="420.8" y2="726.9" stroke="#7a3a34" stroke-width="1"/>
<line x1="418.3" y1="726.9" x2="423.3" y2="726.9" stroke="#7a3a34" stroke-width="1"/>
<line x1="445.4" y1="712.6" x2="445.4" y2="718.3" stroke="#7a3a34" stroke-width="1"/>
<line x1="442.9" y1="712.6" x2="447.9" y2="712.6" stroke="#7a3a34" stroke-width="1"/>
<line x1="469.9" y1="719.4" x2="469.9" y2="725.5" stroke="#7a3a34" stroke-width="1"/>
<line x1="467.4" y1="719.4" x2="472.4" y2="719.4" stroke="#7a3a34" stroke-width="1"/>
<line x1="494.5" y1="721.7" x2="494.5" y2="729" stroke="#7a3a34" stroke-width="1"/>
<line x1="492" y1="729" x2="497" y2="729" stroke="#7a3a34" stroke-width="1"/>
<line x1="519.1" y1="708.7" x2="519.1" y2="722.1" stroke="#7a3a34" stroke-width="1"/>
<line x1="516.6" y1="722.1" x2="521.6" y2="722.1" stroke="#7a3a34" stroke-width="1"/>
<line x1="543.6" y1="708.5" x2="543.6" y2="716" stroke="#7a3a34" stroke-width="1"/>
<line x1="541.1" y1="708.5" x2="546.1" y2="708.5" stroke="#7a3a34" stroke-width="1"/>
<line x1="568.2" y1="718.3" x2="568.2" y2="723.3" stroke="#7a3a34" stroke-width="1"/>
<line x1="565.7" y1="718.3" x2="570.7" y2="718.3" stroke="#7a3a34" stroke-width="1"/>
<line x1="592.7" y1="718.3" x2="592.7" y2="728" stroke="#7a3a34" stroke-width="1"/>
<line x1="590.2" y1="728" x2="595.2" y2="728" stroke="#7a3a34" stroke-width="1"/>
<line x1="617.3" y1="705.1" x2="617.3" y2="719.4" stroke="#7a3a34" stroke-width="1"/>
<line x1="614.8" y1="719.4" x2="619.8" y2="719.4" stroke="#7a3a34" stroke-width="1"/>
<line x1="641.9" y1="705.3" x2="641.9" y2="713.7" stroke="#7a3a34" stroke-width="1"/>
<line x1="639.4" y1="705.3" x2="644.4" y2="705.3" stroke="#7a3a34" stroke-width="1"/>
<line x1="666.4" y1="714.4" x2="666.4" y2="722.1" stroke="#7a3a34" stroke-width="1"/>
<line x1="663.9" y1="714.4" x2="668.9" y2="714.4" stroke="#7a3a34" stroke-width="1"/>
<line x1="691" y1="718.7" x2="691" y2="726.2" stroke="#7a3a34" stroke-width="1"/>
<line x1="688.5" y1="726.2" x2="693.5" y2="726.2" stroke="#7a3a34" stroke-width="1"/>
<line x1="715.5" y1="701.9" x2="715.5" y2="718.3" stroke="#7a3a34" stroke-width="1"/>
<line x1="713" y1="718.3" x2="718" y2="718.3" stroke="#7a3a34" stroke-width="1"/>
<line x1="740.1" y1="701.2" x2="740.1" y2="719.9" stroke="#7a3a34" stroke-width="1"/>
<line x1="737.6" y1="701.2" x2="742.6" y2="701.2" stroke="#7a3a34" stroke-width="1"/>
<line x1="789.2" y1="717.8" x2="789.2" y2="724.4" stroke="#7a3a34" stroke-width="1"/>
<line x1="786.7" y1="724.4" x2="791.7" y2="724.4" stroke="#7a3a34" stroke-width="1"/>
<line x1="813.8" y1="707.4" x2="813.8" y2="718.3" stroke="#7a3a34" stroke-width="1"/>
<line x1="811.3" y1="707.4" x2="816.3" y2="707.4" stroke="#7a3a34" stroke-width="1"/>
<line x1="811.3" y1="718.3" x2="816.3" y2="718.3" stroke="#7a3a34" stroke-width="1"/>
<line x1="838.3" y1="709.2" x2="838.3" y2="722.8" stroke="#7a3a34" stroke-width="1"/>
<line x1="835.8" y1="709.2" x2="840.8" y2="709.2" stroke="#7a3a34" stroke-width="1"/>
<line x1="835.8" y1="722.8" x2="840.8" y2="722.8" stroke="#7a3a34" stroke-width="1"/>
<line x1="862.9" y1="720.5" x2="862.9" y2="725.5" stroke="#7a3a34" stroke-width="1"/>
<line x1="860.4" y1="720.5" x2="865.4" y2="720.5" stroke="#7a3a34" stroke-width="1"/>
<line x1="887.5" y1="723.3" x2="887.5" y2="728.5" stroke="#7a3a34" stroke-width="1"/>
<line x1="885" y1="728.5" x2="890" y2="728.5" stroke="#7a3a34" stroke-width="1"/>
<line x1="912" y1="711.5" x2="912" y2="722.8" stroke="#7a3a34" stroke-width="1"/>
<line x1="909.5" y1="722.8" x2="914.5" y2="722.8" stroke="#7a3a34" stroke-width="1"/>
<line x1="936.6" y1="710.8" x2="936.6" y2="716" stroke="#7a3a34" stroke-width="1"/>
<line x1="934.1" y1="710.8" x2="939.1" y2="710.8" stroke="#7a3a34" stroke-width="1"/>
<line x1="961.1" y1="716.5" x2="961.1" y2="724" stroke="#7a3a34" stroke-width="1"/>
<line x1="958.6" y1="716.5" x2="963.6" y2="716.5" stroke="#7a3a34" stroke-width="1"/>
<line x1="985.7" y1="720.1" x2="985.7" y2="726.2" stroke="#7a3a34" stroke-width="1"/>
<line x1="983.2" y1="726.2" x2="988.2" y2="726.2" stroke="#7a3a34" stroke-width="1"/>
<line x1="1010.3" y1="711.9" x2="1010.3" y2="721.2" stroke="#7a3a34" stroke-width="1"/>
<line x1="1007.8" y1="721.2" x2="1012.8" y2="721.2" stroke="#7a3a34" stroke-width="1"/>
<line x1="1034.8" y1="713.7" x2="1034.8" y2="719.4" stroke="#7a3a34" stroke-width="1"/>
<line x1="1032.3" y1="713.7" x2="1037.3" y2="713.7" stroke="#7a3a34" stroke-width="1"/>
<line x1="1059.4" y1="719.4" x2="1059.4" y2="726.2" stroke="#7a3a34" stroke-width="1"/>
<line x1="1056.9" y1="719.4" x2="1061.9" y2="719.4" stroke="#7a3a34" stroke-width="1"/>
<line x1="1083.9" y1="724.6" x2="1083.9" y2="728.5" stroke="#7a3a34" stroke-width="1"/>
<line x1="1081.4" y1="728.5" x2="1086.4" y2="728.5" stroke="#7a3a34" stroke-width="1"/>
<polyline points="126.1,702.4 138.4,705.8 150.7,711.9 162.9,715.5 175.2,719.4 187.5,722.8 199.8,719.4 212.1,712.6 224.3,713 236.6,712.1 248.9,719.9 261.2,721.7 273.5,723.3 285.7,726.2 298,721.7 310.3,717.8 322.6,714.4 334.9,715.3 347.1,721.7 359.4,725.5 371.7,729.6 384,733 396.3,727.4 408.5,719.4 420.8,713 433.1,713 445.4,718.3 457.7,722.4 469.9,725.5 482.2,727.4 494.5,721.7 506.8,714.4 519.1,708.7 531.3,708.7 543.6,716 555.9,721 568.2,723.3 580.5,726.9 592.7,718.3 605,710.3 617.3,705.1 629.6,705.8 641.9,713.7 654.1,717.8 666.4,722.1 678.7,725.1 691,718.7 703.3,705.8 715.5,701.9 727.8,712.6 740.1,718.7 752.4,715.5 764.7,720.5 776.9,722.8 789.2,717.8 801.5,708 813.8,711.9 826.1,716 838.3,719.4 850.6,722.4 862.9,725.5 875.2,726.9 887.5,723.3 899.7,717.1 912,711.5 924.3,711.5 936.6,716 948.9,721.7 961.1,724 973.4,725.1 985.7,720.1 998,713.3 1010.3,711.9 1022.5,715.5 1034.8,719.4 1047.1,723.5 1059.4,726.2 1071.7,727.8 1083.9,724.6" fill="none" stroke="#7a3a34" stroke-width="1.6" stroke-linejoin="round"/>
<polyline points="126.1,754.9 138.4,754.2 150.7,752.4 162.9,754.6 175.2,750.5 187.5,739.9 199.8,739.9 212.1,744.4 224.3,746.2 236.6,745.1 248.9,739.9 261.2,738.7 273.5,738.3 285.7,737.1 298,742.8 310.3,756.9 322.6,768.3 334.9,774.6 347.1,769.4 359.4,766 371.7,762.6 384,759.2 396.3,758 408.5,762.6 420.8,767.1 433.1,769.4 445.4,767.1 457.7,764.9 469.9,764.9 482.2,764.2 494.5,763.3 506.8,765.5 519.1,769 531.3,770.5 543.6,770.1 555.9,769.4 568.2,770.5 580.5,764.9 592.7,764.2 605,769 617.3,771 629.6,772.8 641.9,770.5 654.1,768.3 666.4,755.3 678.7,742.8 691,741 703.3,745.5 715.5,752.4 727.8,742.1 740.1,738.3 752.4,741 764.7,742.8 776.9,740.5 789.2,739.9 801.5,741 813.8,742.8 826.1,744.9 838.3,739.2 850.6,739.2 862.9,738 875.2,738 887.5,739.2 899.7,739.9 912,741 924.3,742.1 936.6,741 948.9,754 961.1,738.7 973.4,734.2 985.7,734.2 998,737.1 1010.3,738 1022.5,736.5 1034.8,735.3 1047.1,734.9 1059.4,736 1071.7,736 1083.9,734.2" fill="none" stroke="#7a3a34" stroke-width="1.6" stroke-linejoin="round"/>
<polyline points="126.1,754.9 138.4,754.2 150.7,752.4 162.9,754.6 175.2,750.5 187.5,739.9 199.8,739.9 212.1,744.4 224.3,746.2 236.6,745.1 248.9,739.9 261.2,738.7 273.5,738.3 285.7,737.1 298,742.8 310.3,756.9 322.6,768.3 334.9,774.6 347.1,769.4 359.4,766 371.7,762.6 384,759.2 396.3,758 408.5,762.6 420.8,767.1 433.1,769.4 445.4,767.1 457.7,764.9 469.9,764.9 482.2,764.2 494.5,763.3 506.8,765.5 519.1,769 531.3,770.5 543.6,770.1 555.9,769.4 568.2,770.5 580.5,764.9 592.7,764.2 605,769 617.3,771 629.6,772.8 641.9,770.5 654.1,768.3 666.4,755.3 678.7,742.8 691,741 703.3,745.5 715.5,752.4 727.8,742.1 740.1,738.3 752.4,741 764.7,742.8 776.9,740.5 789.2,739.9 801.5,741 813.8,742.8 826.1,744.9 838.3,739.2 850.6,739.2 862.9,738 875.2,738 887.5,739.2 899.7,739.9 912,741 924.3,742.1 936.6,741 948.9,754 961.1,738.7 973.4,734.2 985.7,734.2 998,737.1 1010.3,738 1022.5,736.5 1034.8,735.3 1047.1,734.9 1059.4,736 1071.7,736 1083.9,734.2" fill="none" stroke="#f4f0f0" stroke-width="0.9" stroke-dasharray="3 3"/>
<rect x="120.5" y="695.5" width="970" height="85" fill="none" stroke="#000" stroke-width="1.25"/>
<line x1="116" y1="704.6" x2="120.5" y2="704.6" stroke="#000" stroke-width="1"/>
<text x="112.5" y="709.1" font-size="12.5" fill="#000" text-anchor="end" stroke="#fff" stroke-width="0.2">32</text>
<line x1="116" y1="716.7" x2="120.5" y2="716.7" stroke="#000" stroke-width="1"/>
<text x="112.5" y="721.2" font-size="12.5" fill="#000" text-anchor="end" stroke="#fff" stroke-width="0.2">24</text>
<line x1="116" y1="728.8" x2="120.5" y2="728.8" stroke="#000" stroke-width="1"/>
<text x="112.5" y="733.3" font-size="12.5" fill="#000" text-anchor="end" stroke="#fff" stroke-width="0.2">16</text>
<line x1="116" y1="740.9" x2="120.5" y2="740.9" stroke="#000" stroke-width="1"/>
<text x="112.5" y="745.4" font-size="12.5" fill="#000" text-anchor="end" stroke="#fff" stroke-width="0.2">8</text>
<line x1="116" y1="753" x2="120.5" y2="753" stroke="#000" stroke-width="1"/>
<text x="112.5" y="757.5" font-size="12.5" fill="#000" text-anchor="end" stroke="#fff" stroke-width="0.2">0</text>
<line x1="116" y1="765.2" x2="120.5" y2="765.2" stroke="#000" stroke-width="1"/>
<text x="112.5" y="769.7" font-size="12.5" fill="#000" text-anchor="end" stroke="#fff" stroke-width="0.2">&#8722;8</text>
<line x1="116" y1="777.3" x2="120.5" y2="777.3" stroke="#000" stroke-width="1"/>
<text x="112.5" y="781.8" font-size="12.5" fill="#000" text-anchor="end" stroke="#fff" stroke-width="0.2">&#8722;16</text>
<text x="23" y="776" font-size="16" fill="#7a3a34" transform="rotate(-90 23 776)" textLength="70" lengthAdjust="spacingAndGlyphs" stroke="#fff" stroke-width="0.2">2m Temp</text>
<text x="43" y="778" font-size="16" fill="#7a3a34" transform="rotate(-90 43 778)" textLength="74" lengthAdjust="spacingAndGlyphs" stroke="#fff" stroke-width="0.2">2m DewPt</text>
<text x="62" y="790" font-size="16" fill="#7a3a34" transform="rotate(-90 62 790)" textLength="100" lengthAdjust="spacingAndGlyphs" stroke="#fff" stroke-width="0.2">(6hr Min/Max)</text>
<text x="84" y="756" font-size="16" fill="#000" transform="rotate(-90 84 756)" textLength="30" lengthAdjust="spacingAndGlyphs" stroke="#fff" stroke-width="0.2">(&#176;C)</text>
<clipPath id="cr"><path d="M126.1,853.3 L138.4,852.1 L150.7,846.5 L162.9,846 L175.2,838.5 L187.5,811.7 L199.8,818.7 L212.1,837.4 L224.3,839 L236.6,837.8 L248.9,816.9 L261.2,812.4 L273.5,807.4 L285.7,796 L298,820.3 L310.3,845.3 L322.6,855.5 L334.9,858.3 L347.1,852.1 L359.4,846.9 L371.7,839 L384,831.2 L396.3,837.8 L408.5,849.2 L420.8,855.5 L433.1,856.7 L445.4,853.3 L457.7,849.2 L469.9,847.6 L482.2,844.6 L494.5,848.3 L506.8,854.9 L519.1,857.8 L531.3,858.3 L543.6,856 L555.9,853.3 L568.2,853.7 L580.5,846.9 L592.7,850.5 L605,857.4 L617.3,860.1 L629.6,860.8 L641.9,857.1 L654.1,855.1 L666.4,841.9 L678.7,813.5 L691,822.1 L703.3,844.2 L715.5,853.3 L727.8,830.5 L740.1,814 L752.4,827.1 L764.7,822.6 L776.9,814 L789.2,821.5 L801.5,837.4 L813.8,834.4 L826.1,831.2 L838.3,816.5 L850.6,806.7 L862.9,798 L875.2,797.1 L887.5,807.8 L899.7,823 L912,832.8 L924.3,835.1 L936.6,826.7 L948.9,839.2 L961.1,801.7 L973.4,785.8 L985.7,800.5 L998,823.3 L1010.3,826 L1022.5,816.5 L1034.8,809.4 L1047.1,795.8 L1059.4,790.8 L1071.7,784.4 L1083.9,793.7 L1083.9,864.5 L126.1,864.5 Z"/></clipPath>
<g clip-path="url(#cr)">
<rect x="126.1" y="843.3" width="957.8" height="22.2" fill="#eaf5ea"/>
<rect x="126.1" y="832" width="957.8" height="11.2" fill="#c8d7c8"/>
<rect x="126.1" y="820.8" width="957.8" height="11.2" fill="#a0cda0"/>
<rect x="126.1" y="809.5" width="957.8" height="11.2" fill="#78d778"/>
<rect x="126.1" y="798.3" width="957.8" height="11.2" fill="#50eb50"/>
<rect x="126.1" y="780.5" width="957.8" height="17.8" fill="#00f000"/>
</g>
<line x1="120.5" y1="843.5" x2="1090.5" y2="843.5" stroke="#a2a2a2" stroke-width="1" stroke-dasharray="4 2"/>
<line x1="120.5" y1="820.5" x2="1090.5" y2="820.5" stroke="#a2a2a2" stroke-width="1" stroke-dasharray="4 2"/>
<line x1="120.5" y1="798.5" x2="1090.5" y2="798.5" stroke="#a2a2a2" stroke-width="1" stroke-dasharray="4 2"/>
<line x1="175.5" y1="780.5" x2="175.5" y2="865.5" stroke="#a2a2a2" stroke-width="1" stroke-dasharray="4 2"/>
<line x1="273.5" y1="780.5" x2="273.5" y2="865.5" stroke="#a2a2a2" stroke-width="1" stroke-dasharray="4 2"/>
<line x1="371.5" y1="780.5" x2="371.5" y2="865.5" stroke="#a2a2a2" stroke-width="1" stroke-dasharray="4 2"/>
<line x1="469.5" y1="780.5" x2="469.5" y2="865.5" stroke="#a2a2a2" stroke-width="1" stroke-dasharray="4 2"/>
<line x1="568.5" y1="780.5" x2="568.5" y2="865.5" stroke="#a2a2a2" stroke-width="1" stroke-dasharray="4 2"/>
<line x1="666.5" y1="780.5" x2="666.5" y2="865.5" stroke="#a2a2a2" stroke-width="1" stroke-dasharray="4 2"/>
<line x1="764.5" y1="780.5" x2="764.5" y2="865.5" stroke="#a2a2a2" stroke-width="1" stroke-dasharray="4 2"/>
<line x1="862.5" y1="780.5" x2="862.5" y2="865.5" stroke="#a2a2a2" stroke-width="1" stroke-dasharray="4 2"/>
<line x1="961.5" y1="780.5" x2="961.5" y2="865.5" stroke="#a2a2a2" stroke-width="1" stroke-dasharray="4 2"/>
<line x1="1059.5" y1="780.5" x2="1059.5" y2="865.5" stroke="#a2a2a2" stroke-width="1" stroke-dasharray="4 2"/>
<polyline points="126.1,853.3 138.4,852.1 150.7,846.5 162.9,846 175.2,838.5 187.5,811.7 199.8,818.7 212.1,837.4 224.3,839 236.6,837.8 248.9,816.9 261.2,812.4 273.5,807.4 285.7,796 298,820.3 310.3,845.3 322.6,855.5 334.9,858.3 347.1,852.1 359.4,846.9 371.7,839 384,831.2 396.3,837.8 408.5,849.2 420.8,855.5 433.1,856.7 445.4,853.3 457.7,849.2 469.9,847.6 482.2,844.6 494.5,848.3 506.8,854.9 519.1,857.8 531.3,858.3 543.6,856 555.9,853.3 568.2,853.7 580.5,846.9 592.7,850.5 605,857.4 617.3,860.1 629.6,860.8 641.9,857.1 654.1,855.1 666.4,841.9 678.7,813.5 691,822.1 703.3,844.2 715.5,853.3 727.8,830.5 740.1,814 752.4,827.1 764.7,822.6 776.9,814 789.2,821.5 801.5,837.4 813.8,834.4 826.1,831.2 838.3,816.5 850.6,806.7 862.9,798 875.2,797.1 887.5,807.8 899.7,823 912,832.8 924.3,835.1 936.6,826.7 948.9,839.2 961.1,801.7 973.4,785.8 985.7,800.5 998,823.3 1010.3,826 1022.5,816.5 1034.8,809.4 1047.1,795.8 1059.4,790.8 1071.7,784.4 1083.9,793.7" fill="none" stroke="#1d8a1d" stroke-width="1.1"/>
<circle cx="126.1" cy="853.3" r="2.7" fill="#fff" stroke="#1d8a1d" stroke-width="1"/>
<circle cx="138.4" cy="852.1" r="2.7" fill="#fff" stroke="#1d8a1d" stroke-width="1"/>
<circle cx="150.7" cy="846.5" r="2.7" fill="#fff" stroke="#1d8a1d" stroke-width="1"/>
<circle cx="162.9" cy="846" r="2.7" fill="#fff" stroke="#1d8a1d" stroke-width="1"/>
<circle cx="175.2" cy="838.5" r="2.7" fill="#fff" stroke="#1d8a1d" stroke-width="1"/>
<circle cx="187.5" cy="811.7" r="2.7" fill="#fff" stroke="#1d8a1d" stroke-width="1"/>
<circle cx="199.8" cy="818.7" r="2.7" fill="#fff" stroke="#1d8a1d" stroke-width="1"/>
<circle cx="212.1" cy="837.4" r="2.7" fill="#fff" stroke="#1d8a1d" stroke-width="1"/>
<circle cx="224.3" cy="839" r="2.7" fill="#fff" stroke="#1d8a1d" stroke-width="1"/>
<circle cx="236.6" cy="837.8" r="2.7" fill="#fff" stroke="#1d8a1d" stroke-width="1"/>
<circle cx="248.9" cy="816.9" r="2.7" fill="#fff" stroke="#1d8a1d" stroke-width="1"/>
<circle cx="261.2" cy="812.4" r="2.7" fill="#fff" stroke="#1d8a1d" stroke-width="1"/>
<circle cx="273.5" cy="807.4" r="2.7" fill="#fff" stroke="#1d8a1d" stroke-width="1"/>
<circle cx="285.7" cy="796" r="2.7" fill="#fff" stroke="#1d8a1d" stroke-width="1"/>
<circle cx="298" cy="820.3" r="2.7" fill="#fff" stroke="#1d8a1d" stroke-width="1"/>
<circle cx="310.3" cy="845.3" r="2.7" fill="#fff" stroke="#1d8a1d" stroke-width="1"/>
<circle cx="322.6" cy="855.5" r="2.7" fill="#fff" stroke="#1d8a1d" stroke-width="1"/>
<circle cx="334.9" cy="858.3" r="2.7" fill="#fff" stroke="#1d8a1d" stroke-width="1"/>
<circle cx="347.1" cy="852.1" r="2.7" fill="#fff" stroke="#1d8a1d" stroke-width="1"/>
<circle cx="359.4" cy="846.9" r="2.7" fill="#fff" stroke="#1d8a1d" stroke-width="1"/>
<circle cx="371.7" cy="839" r="2.7" fill="#fff" stroke="#1d8a1d" stroke-width="1"/>
<circle cx="384" cy="831.2" r="2.7" fill="#fff" stroke="#1d8a1d" stroke-width="1"/>
<circle cx="396.3" cy="837.8" r="2.7" fill="#fff" stroke="#1d8a1d" stroke-width="1"/>
<circle cx="408.5" cy="849.2" r="2.7" fill="#fff" stroke="#1d8a1d" stroke-width="1"/>
<circle cx="420.8" cy="855.5" r="2.7" fill="#fff" stroke="#1d8a1d" stroke-width="1"/>
<circle cx="433.1" cy="856.7" r="2.7" fill="#fff" stroke="#1d8a1d" stroke-width="1"/>
<circle cx="445.4" cy="853.3" r="2.7" fill="#fff" stroke="#1d8a1d" stroke-width="1"/>
<circle cx="457.7" cy="849.2" r="2.7" fill="#fff" stroke="#1d8a1d" stroke-width="1"/>
<circle cx="469.9" cy="847.6" r="2.7" fill="#fff" stroke="#1d8a1d" stroke-width="1"/>
<circle cx="482.2" cy="844.6" r="2.7" fill="#fff" stroke="#1d8a1d" stroke-width="1"/>
<circle cx="494.5" cy="848.3" r="2.7" fill="#fff" stroke="#1d8a1d" stroke-width="1"/>
<circle cx="506.8" cy="854.9" r="2.7" fill="#fff" stroke="#1d8a1d" stroke-width="1"/>
<circle cx="519.1" cy="857.8" r="2.7" fill="#fff" stroke="#1d8a1d" stroke-width="1"/>
<circle cx="531.3" cy="858.3" r="2.7" fill="#fff" stroke="#1d8a1d" stroke-width="1"/>
<circle cx="543.6" cy="856" r="2.7" fill="#fff" stroke="#1d8a1d" stroke-width="1"/>
<circle cx="555.9" cy="853.3" r="2.7" fill="#fff" stroke="#1d8a1d" stroke-width="1"/>
<circle cx="568.2" cy="853.7" r="2.7" fill="#fff" stroke="#1d8a1d" stroke-width="1"/>
<circle cx="580.5" cy="846.9" r="2.7" fill="#fff" stroke="#1d8a1d" stroke-width="1"/>
<circle cx="592.7" cy="850.5" r="2.7" fill="#fff" stroke="#1d8a1d" stroke-width="1"/>
<circle cx="605" cy="857.4" r="2.7" fill="#fff" stroke="#1d8a1d" stroke-width="1"/>
<circle cx="617.3" cy="860.1" r="2.7" fill="#fff" stroke="#1d8a1d" stroke-width="1"/>
<circle cx="629.6" cy="860.8" r="2.7" fill="#fff" stroke="#1d8a1d" stroke-width="1"/>
<circle cx="641.9" cy="857.1" r="2.7" fill="#fff" stroke="#1d8a1d" stroke-width="1"/>
<circle cx="654.1" cy="855.1" r="2.7" fill="#fff" stroke="#1d8a1d" stroke-width="1"/>
<circle cx="666.4" cy="841.9" r="2.7" fill="#fff" stroke="#1d8a1d" stroke-width="1"/>
<circle cx="678.7" cy="813.5" r="2.7" fill="#fff" stroke="#1d8a1d" stroke-width="1"/>
<circle cx="691" cy="822.1" r="2.7" fill="#fff" stroke="#1d8a1d" stroke-width="1"/>
<circle cx="703.3" cy="844.2" r="2.7" fill="#fff" stroke="#1d8a1d" stroke-width="1"/>
<circle cx="715.5" cy="853.3" r="2.7" fill="#fff" stroke="#1d8a1d" stroke-width="1"/>
<circle cx="727.8" cy="830.5" r="2.7" fill="#fff" stroke="#1d8a1d" stroke-width="1"/>
<circle cx="740.1" cy="814" r="2.7" fill="#fff" stroke="#1d8a1d" stroke-width="1"/>
<circle cx="752.4" cy="827.1" r="2.7" fill="#fff" stroke="#1d8a1d" stroke-width="1"/>
<circle cx="764.7" cy="822.6" r="2.7" fill="#fff" stroke="#1d8a1d" stroke-width="1"/>
<circle cx="776.9" cy="814" r="2.7" fill="#fff" stroke="#1d8a1d" stroke-width="1"/>
<circle cx="789.2" cy="821.5" r="2.7" fill="#fff" stroke="#1d8a1d" stroke-width="1"/>
<circle cx="801.5" cy="837.4" r="2.7" fill="#fff" stroke="#1d8a1d" stroke-width="1"/>
<circle cx="813.8" cy="834.4" r="2.7" fill="#fff" stroke="#1d8a1d" stroke-width="1"/>
<circle cx="826.1" cy="831.2" r="2.7" fill="#fff" stroke="#1d8a1d" stroke-width="1"/>
<circle cx="838.3" cy="816.5" r="2.7" fill="#fff" stroke="#1d8a1d" stroke-width="1"/>
<circle cx="850.6" cy="806.7" r="2.7" fill="#fff" stroke="#1d8a1d" stroke-width="1"/>
<circle cx="862.9" cy="798" r="2.7" fill="#fff" stroke="#1d8a1d" stroke-width="1"/>
<circle cx="875.2" cy="797.1" r="2.7" fill="#fff" stroke="#1d8a1d" stroke-width="1"/>
<circle cx="887.5" cy="807.8" r="2.7" fill="#fff" stroke="#1d8a1d" stroke-width="1"/>
<circle cx="899.7" cy="823" r="2.7" fill="#fff" stroke="#1d8a1d" stroke-width="1"/>
<circle cx="912" cy="832.8" r="2.7" fill="#fff" stroke="#1d8a1d" stroke-width="1"/>
<circle cx="924.3" cy="835.1" r="2.7" fill="#fff" stroke="#1d8a1d" stroke-width="1"/>
<circle cx="936.6" cy="826.7" r="2.7" fill="#fff" stroke="#1d8a1d" stroke-width="1"/>
<circle cx="948.9" cy="839.2" r="2.7" fill="#fff" stroke="#1d8a1d" stroke-width="1"/>
<circle cx="961.1" cy="801.7" r="2.7" fill="#fff" stroke="#1d8a1d" stroke-width="1"/>
<circle cx="973.4" cy="785.8" r="2.7" fill="#fff" stroke="#1d8a1d" stroke-width="1"/>
<circle cx="985.7" cy="800.5" r="2.7" fill="#fff" stroke="#1d8a1d" stroke-width="1"/>
<circle cx="998" cy="823.3" r="2.7" fill="#fff" stroke="#1d8a1d" stroke-width="1"/>
<circle cx="1010.3" cy="826" r="2.7" fill="#fff" stroke="#1d8a1d" stroke-width="1"/>
<circle cx="1022.5" cy="816.5" r="2.7" fill="#fff" stroke="#1d8a1d" stroke-width="1"/>
<circle cx="1034.8" cy="809.4" r="2.7" fill="#fff" stroke="#1d8a1d" stroke-width="1"/>
<circle cx="1047.1" cy="795.8" r="2.7" fill="#fff" stroke="#1d8a1d" stroke-width="1"/>
<circle cx="1059.4" cy="790.8" r="2.7" fill="#fff" stroke="#1d8a1d" stroke-width="1"/>
<circle cx="1071.7" cy="784.4" r="2.7" fill="#fff" stroke="#1d8a1d" stroke-width="1"/>
<circle cx="1083.9" cy="793.7" r="2.7" fill="#fff" stroke="#1d8a1d" stroke-width="1"/>
<rect x="120.5" y="780.5" width="970" height="85" fill="none" stroke="#000" stroke-width="1.25"/>
<line x1="116" y1="843.3" x2="120.5" y2="843.3" stroke="#000" stroke-width="1"/>
<text x="112.5" y="848" font-size="13.5" fill="#000" text-anchor="end" stroke="#fff" stroke-width="0.2">20</text>
<line x1="116" y1="820.8" x2="120.5" y2="820.8" stroke="#000" stroke-width="1"/>
<text x="112.5" y="825.5" font-size="13.5" fill="#000" text-anchor="end" stroke="#fff" stroke-width="0.2">40</text>
<line x1="116" y1="798.3" x2="120.5" y2="798.3" stroke="#000" stroke-width="1"/>
<text x="112.5" y="803" font-size="13.5" fill="#000" text-anchor="end" stroke="#fff" stroke-width="0.2">60</text>
<text x="42" y="848" font-size="16" fill="#22c422" transform="rotate(-90 42 848)" textLength="49" lengthAdjust="spacingAndGlyphs" stroke="#fff" stroke-width="0.2">2m RH</text>
<text x="83" y="836" font-size="16" fill="#000" transform="rotate(-90 83 836)" textLength="24" lengthAdjust="spacingAndGlyphs" stroke="#fff" stroke-width="0.2">(%)</text>
<rect x="132.5" y="865.5" width="958" height="85" fill="#6aadd6"/>
<clipPath id="cc"><rect x="132.5" y="865.5" width="958.0" height="85.0"/></clipPath>
<g clip-path="url(#cc)" shape-rendering="crispEdges">
<rect x="156.7" y="866" width="12.5" height="26.8" fill="#faf4fc"/>
<rect x="169" y="890.5" width="12.5" height="2.3" fill="#faf4fc"/>
<rect x="181.3" y="890.5" width="12.5" height="2.3" fill="#faf4fc"/>
<rect x="193.5" y="890.5" width="12.5" height="2.3" fill="#faf4fc"/>
<rect x="205.8" y="886.7" width="12.5" height="6.1" fill="#faf4fc"/>
<rect x="218.1" y="869" width="12.5" height="23.9" fill="#faf4fc"/>
<rect x="230.4" y="890.5" width="12.5" height="2.3" fill="#faf4fc"/>
<rect x="242.7" y="879.2" width="12.5" height="13.6" fill="#faf4fc"/>
<rect x="254.9" y="866.7" width="12.5" height="26.1" fill="#faf4fc"/>
<rect x="267.2" y="866.7" width="12.5" height="26.1" fill="#faf4fc"/>
<rect x="279.5" y="866.7" width="12.5" height="26.1" fill="#faf4fc"/>
<rect x="291.8" y="868.3" width="12.5" height="24.5" fill="#faf4fc"/>
<rect x="304.1" y="870.8" width="12.5" height="22" fill="#faf4fc"/>
<rect x="537.4" y="890.5" width="12.5" height="2.3" fill="#faf4fc"/>
<rect x="549.7" y="883" width="12.5" height="9.8" fill="#faf4fc"/>
<rect x="561.9" y="867.1" width="12.5" height="25.7" fill="#faf4fc"/>
<rect x="574.2" y="890.1" width="12.5" height="2.7" fill="#faf4fc"/>
<rect x="660.2" y="867.8" width="12.5" height="25" fill="#faf4fc"/>
<rect x="672.5" y="889.9" width="12.5" height="3" fill="#faf4fc"/>
<rect x="684.7" y="889.9" width="12.5" height="3" fill="#faf4fc"/>
<rect x="721.6" y="867.1" width="12.5" height="25.7" fill="#faf4fc"/>
<rect x="733.9" y="867.1" width="12.5" height="25.7" fill="#faf4fc"/>
<rect x="746.1" y="867.1" width="12.5" height="25.7" fill="#faf4fc"/>
<rect x="758.4" y="887.8" width="12.5" height="5" fill="#faf4fc"/>
<rect x="770.7" y="876.5" width="12.5" height="16.4" fill="#faf4fc"/>
<rect x="783" y="867.1" width="12.5" height="25.7" fill="#faf4fc"/>
<rect x="795.3" y="867.8" width="12.5" height="25" fill="#faf4fc"/>
<rect x="807.5" y="886.7" width="12.5" height="6.1" fill="#faf4fc"/>
<rect x="819.8" y="867.1" width="12.5" height="25.7" fill="#faf4fc"/>
<rect x="832.1" y="867.1" width="12.5" height="25.7" fill="#faf4fc"/>
<rect x="844.4" y="867.1" width="12.5" height="25.7" fill="#faf4fc"/>
<rect x="856.7" y="867.1" width="12.5" height="25.7" fill="#faf4fc"/>
<rect x="868.9" y="867.1" width="12.5" height="25.7" fill="#faf4fc"/>
<rect x="881.2" y="867.1" width="12.5" height="25.7" fill="#faf4fc"/>
<rect x="893.5" y="867.1" width="12.5" height="25.7" fill="#faf4fc"/>
<rect x="905.8" y="867.1" width="12.5" height="25.7" fill="#faf4fc"/>
<rect x="918.1" y="867.1" width="12.5" height="25.7" fill="#faf4fc"/>
<rect x="930.3" y="876.9" width="12.5" height="15.9" fill="#faf4fc"/>
<rect x="1077.7" y="875.1" width="12.5" height="17.7" fill="#faf4fc"/>
<rect x="119.9" y="894.6" width="12.5" height="25.5" fill="#e9e9e9"/>
<rect x="132.1" y="894.6" width="12.5" height="25.5" fill="#e9e9e9"/>
<rect x="144.4" y="894.6" width="12.5" height="25.5" fill="#e9e9e9"/>
<rect x="156.7" y="894.6" width="12.5" height="25.5" fill="#e9e9e9"/>
<rect x="169" y="896.2" width="12.5" height="23.9" fill="#e9e9e9"/>
<rect x="181.3" y="912.1" width="12.5" height="8" fill="#e9e9e9"/>
<rect x="193.5" y="909.9" width="12.5" height="10.2" fill="#e9e9e9"/>
<rect x="205.8" y="904.9" width="12.5" height="15.2" fill="#e9e9e9"/>
<rect x="218.1" y="894.6" width="12.5" height="25.5" fill="#e9e9e9"/>
<rect x="230.4" y="901.9" width="12.5" height="18.2" fill="#e9e9e9"/>
<rect x="242.7" y="894.6" width="12.5" height="25.5" fill="#e9e9e9"/>
<rect x="254.9" y="894.6" width="12.5" height="25.5" fill="#e9e9e9"/>
<rect x="267.2" y="894.6" width="12.5" height="25.5" fill="#e9e9e9"/>
<rect x="279.5" y="894.6" width="12.5" height="25.5" fill="#e9e9e9"/>
<rect x="291.8" y="896.2" width="12.5" height="23.9" fill="#e9e9e9"/>
<rect x="709.3" y="898.5" width="12.5" height="21.6" fill="#e9e9e9"/>
<rect x="721.6" y="916.7" width="12.5" height="3.4" fill="#e9e9e9"/>
<rect x="733.9" y="895.1" width="12.5" height="25" fill="#e9e9e9"/>
<rect x="746.1" y="902.6" width="12.5" height="17.5" fill="#e9e9e9"/>
<rect x="758.4" y="917.8" width="12.5" height="2.3" fill="#e9e9e9"/>
<rect x="795.3" y="915.5" width="12.5" height="4.5" fill="#e9e9e9"/>
<rect x="807.5" y="913.3" width="12.5" height="6.8" fill="#e9e9e9"/>
<rect x="819.8" y="905.3" width="12.5" height="14.8" fill="#e9e9e9"/>
<rect x="832.1" y="897.4" width="12.5" height="22.7" fill="#e9e9e9"/>
<rect x="844.4" y="895.8" width="12.5" height="24.3" fill="#e9e9e9"/>
<rect x="856.7" y="914.4" width="12.5" height="5.7" fill="#e9e9e9"/>
<rect x="868.9" y="909.2" width="12.5" height="10.9" fill="#e9e9e9"/>
<rect x="881.2" y="917.1" width="12.5" height="3" fill="#e9e9e9"/>
<rect x="918.1" y="907.1" width="12.5" height="13" fill="#e9e9e9"/>
<rect x="942.6" y="895.8" width="12.5" height="24.3" fill="#e9e9e9"/>
<rect x="967.2" y="918.3" width="12.5" height="1.8" fill="#e9e9e9"/>
<rect x="979.5" y="918.3" width="12.5" height="1.8" fill="#e9e9e9"/>
<rect x="991.7" y="918.3" width="12.5" height="1.8" fill="#e9e9e9"/>
<rect x="1004" y="898.5" width="12.5" height="21.6" fill="#e9e9e9"/>
<rect x="1016.3" y="914.9" width="12.5" height="5.2" fill="#e9e9e9"/>
<rect x="1028.6" y="916.2" width="12.5" height="3.9" fill="#e9e9e9"/>
<rect x="1053.1" y="906" width="12.5" height="14.1" fill="#e9e9e9"/>
<rect x="1077.7" y="915.1" width="12.5" height="5" fill="#e9e9e9"/>
<rect x="218.1" y="934.9" width="12.5" height="13.6" fill="#dadada"/>
<rect x="267.2" y="921.9" width="12.5" height="26.6" fill="#dadada"/>
<rect x="279.5" y="921.9" width="12.5" height="26.6" fill="#dadada"/>
<rect x="807.5" y="942.1" width="12.5" height="6.4" fill="#dadada"/>
<rect x="868.9" y="945.5" width="12.5" height="3" fill="#dadada"/>
<rect x="905.8" y="946.7" width="12.5" height="1.8" fill="#dadada"/>
<rect x="918.1" y="933.3" width="12.5" height="15.2" fill="#dadada"/>
<rect x="942.6" y="933.3" width="12.5" height="15.2" fill="#dadada"/>
<rect x="991.7" y="931" width="12.5" height="17.5" fill="#dadada"/>
<rect x="1004" y="924.2" width="12.5" height="24.3" fill="#dadada"/>
<rect x="1016.3" y="926.9" width="12.5" height="21.6" fill="#dadada"/>
<rect x="1053.1" y="944.4" width="12.5" height="4.1" fill="#dadada"/>
</g>
<line x1="175.5" y1="865.5" x2="175.5" y2="950.5" stroke="#a2a2a2" stroke-width="1" stroke-dasharray="4 2"/>
<line x1="273.5" y1="865.5" x2="273.5" y2="950.5" stroke="#a2a2a2" stroke-width="1" stroke-dasharray="4 2"/>
<line x1="371.5" y1="865.5" x2="371.5" y2="950.5" stroke="#a2a2a2" stroke-width="1" stroke-dasharray="4 2"/>
<line x1="469.5" y1="865.5" x2="469.5" y2="950.5" stroke="#a2a2a2" stroke-width="1" stroke-dasharray="4 2"/>
<line x1="568.5" y1="865.5" x2="568.5" y2="950.5" stroke="#a2a2a2" stroke-width="1" stroke-dasharray="4 2"/>
<line x1="666.5" y1="865.5" x2="666.5" y2="950.5" stroke="#a2a2a2" stroke-width="1" stroke-dasharray="4 2"/>
<line x1="764.5" y1="865.5" x2="764.5" y2="950.5" stroke="#a2a2a2" stroke-width="1" stroke-dasharray="4 2"/>
<line x1="862.5" y1="865.5" x2="862.5" y2="950.5" stroke="#a2a2a2" stroke-width="1" stroke-dasharray="4 2"/>
<line x1="961.5" y1="865.5" x2="961.5" y2="950.5" stroke="#a2a2a2" stroke-width="1" stroke-dasharray="4 2"/>
<line x1="1059.5" y1="865.5" x2="1059.5" y2="950.5" stroke="#a2a2a2" stroke-width="1" stroke-dasharray="4 2"/>
<line x1="132.5" y1="893.5" x2="1090.5" y2="893.5" stroke="#a2a2a2" stroke-width="1" stroke-dasharray="4 2"/>
<line x1="132.5" y1="920.5" x2="1090.5" y2="920.5" stroke="#a2a2a2" stroke-width="1" stroke-dasharray="4 2"/>
<line x1="132.5" y1="948.5" x2="1090.5" y2="948.5" stroke="#a2a2a2" stroke-width="1" stroke-dasharray="4 2"/>
<line x1="132.5" y1="865.5" x2="132.5" y2="950.5" stroke="#000" stroke-width="1.6"/>
<line x1="1090.5" y1="865.5" x2="1090.5" y2="950.5" stroke="#000" stroke-width="1.6"/>
<line x1="128" y1="893.5" x2="132.5" y2="893.5" stroke="#000" stroke-width="1"/>
<line x1="128" y1="920.6" x2="132.5" y2="920.6" stroke="#000" stroke-width="1"/>
<text x="124" y="886.5" font-size="15" fill="#000" text-anchor="end" textLength="29" lengthAdjust="spacingAndGlyphs" stroke="#fff" stroke-width="0.2">high</text>
<text x="124" y="915" font-size="15" fill="#000" text-anchor="end" textLength="46" lengthAdjust="spacingAndGlyphs" stroke="#fff" stroke-width="0.2">middle</text>
<text x="122" y="944" font-size="15" fill="#000" text-anchor="end" textLength="23" lengthAdjust="spacingAndGlyphs" stroke="#fff" stroke-width="0.2">low</text>
<text x="34" y="950" font-size="16" fill="#4a94c8" transform="rotate(-90 34 950)" textLength="83" lengthAdjust="spacingAndGlyphs" stroke="#fff" stroke-width="0.2">Cloud Cover</text>
<text x="55" y="916" font-size="16" fill="#000" transform="rotate(-90 55 916)" textLength="24" lengthAdjust="spacingAndGlyphs" stroke="#fff" stroke-width="0.2">(%)</text>
<line x1="132.5" y1="973.5" x2="1090.5" y2="973.5" stroke="#a2a2a2" stroke-width="1" stroke-dasharray="4 2"/>
<line x1="132.5" y1="995.5" x2="1090.5" y2="995.5" stroke="#a2a2a2" stroke-width="1" stroke-dasharray="4 2"/>
<line x1="132.5" y1="1017.5" x2="1090.5" y2="1017.5" stroke="#a2a2a2" stroke-width="1" stroke-dasharray="4 2"/>
<line x1="132.5" y1="1039.5" x2="1090.5" y2="1039.5" stroke="#a2a2a2" stroke-width="1" stroke-dasharray="4 2"/>
<line x1="175.5" y1="950.5" x2="175.5" y2="1060.5" stroke="#a2a2a2" stroke-width="1" stroke-dasharray="4 2"/>
<line x1="273.5" y1="950.5" x2="273.5" y2="1060.5" stroke="#a2a2a2" stroke-width="1" stroke-dasharray="4 2"/>
<line x1="371.5" y1="950.5" x2="371.5" y2="1060.5" stroke="#a2a2a2" stroke-width="1" stroke-dasharray="4 2"/>
<line x1="469.5" y1="950.5" x2="469.5" y2="1060.5" stroke="#a2a2a2" stroke-width="1" stroke-dasharray="4 2"/>
<line x1="568.5" y1="950.5" x2="568.5" y2="1060.5" stroke="#a2a2a2" stroke-width="1" stroke-dasharray="4 2"/>
<line x1="666.5" y1="950.5" x2="666.5" y2="1060.5" stroke="#a2a2a2" stroke-width="1" stroke-dasharray="4 2"/>
<line x1="764.5" y1="950.5" x2="764.5" y2="1060.5" stroke="#a2a2a2" stroke-width="1" stroke-dasharray="4 2"/>
<line x1="862.5" y1="950.5" x2="862.5" y2="1060.5" stroke="#a2a2a2" stroke-width="1" stroke-dasharray="4 2"/>
<line x1="961.5" y1="950.5" x2="961.5" y2="1060.5" stroke="#a2a2a2" stroke-width="1" stroke-dasharray="4 2"/>
<line x1="1059.5" y1="950.5" x2="1059.5" y2="1060.5" stroke="#a2a2a2" stroke-width="1" stroke-dasharray="4 2"/>
<rect x="268.2" y="1043.2" width="10.6" height="17.3" fill="#22c822"/>
<rect x="280.4" y="971" width="10.6" height="89.5" fill="#22c822"/>
<rect x="292.7" y="1023" width="10.6" height="37.5" fill="#22c822"/>
<rect x="296" y="1056" width="4" height="4.5" fill="#f84444"/>
<rect x="808.5" y="1050.7" width="10.6" height="9.8" fill="#22c822"/>
<rect x="811.8" y="1046.9" width="4" height="13.6" fill="#f84444"/>
<rect x="820.8" y="955.2" width="10.6" height="105.3" fill="#22c822"/>
<rect x="824.1" y="1056.1" width="4" height="4.4" fill="#f84444"/>
<rect x="1017.2" y="971.1" width="10.6" height="89.4" fill="#22c822"/>
<rect x="1020.5" y="979.1" width="4" height="81.4" fill="#f84444"/>
<rect x="1029.5" y="1056.1" width="10.6" height="4.4" fill="#22c822"/>
<rect x="132.5" y="950.5" width="958" height="110" fill="none" stroke="#000" stroke-width="1.25"/>
<line x1="128" y1="951.5" x2="132.5" y2="951.5" stroke="#000" stroke-width="1"/>
<text x="124.5" y="956" font-size="12.5" fill="#000" text-anchor="end" stroke="#fff" stroke-width="0.2">1.7</text>
<line x1="128" y1="973.1" x2="132.5" y2="973.1" stroke="#000" stroke-width="1"/>
<text x="124.5" y="977.6" font-size="12.5" fill="#000" text-anchor="end" stroke="#fff" stroke-width="0.2">1.36</text>
<line x1="128" y1="995.1" x2="132.5" y2="995.1" stroke="#000" stroke-width="1"/>
<text x="124.5" y="999.6" font-size="12.5" fill="#000" text-anchor="end" stroke="#fff" stroke-width="0.2">1.02</text>
<line x1="128" y1="1017.2" x2="132.5" y2="1017.2" stroke="#000" stroke-width="1"/>
<text x="124.5" y="1021.7" font-size="12.5" fill="#000" text-anchor="end" stroke="#fff" stroke-width="0.2">0.68</text>
<line x1="128" y1="1039.2" x2="132.5" y2="1039.2" stroke="#000" stroke-width="1"/>
<text x="124.5" y="1043.7" font-size="12.5" fill="#000" text-anchor="end" stroke="#fff" stroke-width="0.2">0.34</text>
<line x1="128" y1="1060.4" x2="132.5" y2="1060.4" stroke="#000" stroke-width="1"/>
<text x="124.5" y="1064.9" font-size="12.5" fill="#000" text-anchor="end" stroke="#fff" stroke-width="0.2">0</text>
<text x="959.7" y="964.7" font-size="13.3" fill="#000" textLength="24.3" lengthAdjust="spacingAndGlyphs" stroke="#fff" stroke-width="0.2">Run</text>
<text x="992.4" y="964.7" font-size="13.3" fill="#000" textLength="33.6" lengthAdjust="spacingAndGlyphs" stroke="#fff" stroke-width="0.2">Total</text>
<text x="1037.8" y="964.7" font-size="13.3" fill="#000" textLength="8.4" lengthAdjust="spacingAndGlyphs" stroke="#fff" stroke-width="0.2">=</text>
<text x="1055.6" y="964.7" font-size="13.3" fill="#000" textLength="29.3" lengthAdjust="spacingAndGlyphs" stroke="#fff" stroke-width="0.2">5.38</text>
<text x="90" y="1044" font-size="16" fill="#000" transform="rotate(-90 90 1044)" textLength="120" lengthAdjust="spacingAndGlyphs" stroke="#fff" stroke-width="0.2">3hr Precip (mm)</text>
<text x="70" y="976" font-size="16" fill="#22c822" text-anchor="end" textLength="99" lengthAdjust="spacingAndGlyphs" stroke="#fff" stroke-width="0.2">Total / Rain</text>
<text x="70" y="997" font-size="16" fill="#f84444" text-anchor="end" textLength="86" lengthAdjust="spacingAndGlyphs" stroke="#fff" stroke-width="0.2">Convective</text>
<text x="4" y="1095" font-size="12" fill="#000" textLength="116" lengthAdjust="spacingAndGlyphs" stroke="#fff" stroke-width="0.2">GrADS: COLA/IGES</text>
</svg>
</body></html>
